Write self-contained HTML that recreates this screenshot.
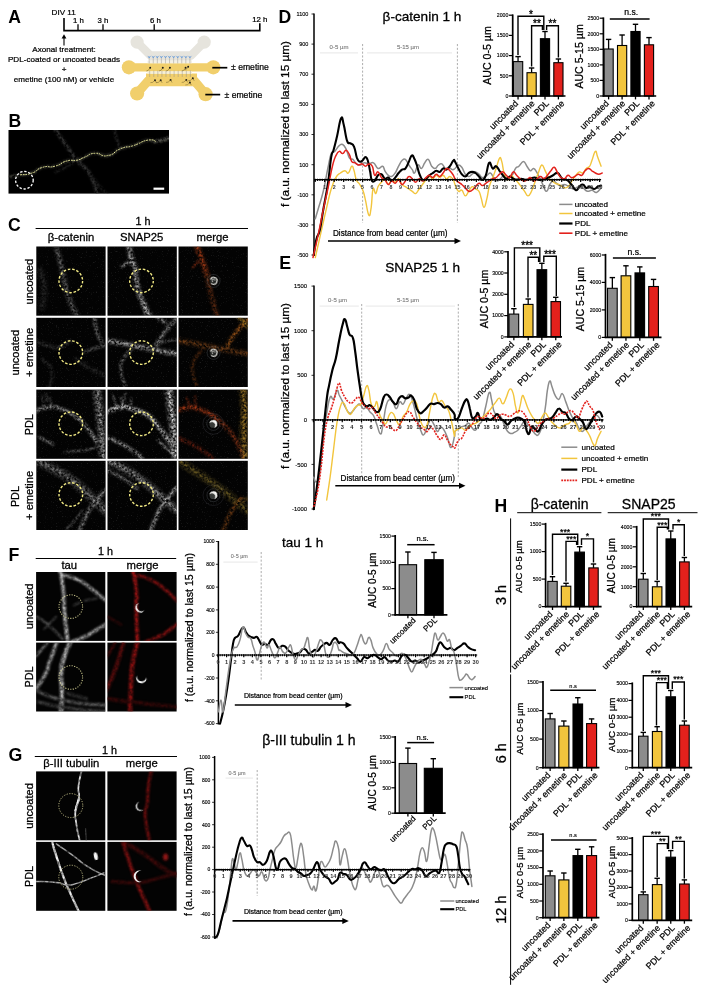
<!DOCTYPE html>
<html><head><meta charset="utf-8"><title>Figure</title>
<style>html,body{margin:0;padding:0;background:#fff}svg{display:block}text{font-family:"Liberation Sans",sans-serif}</style></head>
<body>
<svg width="701" height="996" viewBox="0 0 701 996">
<defs><filter id="bl0" x="-20%" y="-20%" width="140%" height="140%"><feGaussianBlur stdDeviation="0.35"/></filter><filter id="bl1" x="-20%" y="-20%" width="140%" height="140%"><feGaussianBlur stdDeviation="0.7"/></filter><filter id="bl2" x="-30%" y="-30%" width="160%" height="160%"><feGaussianBlur stdDeviation="1.3"/></filter><clipPath id="c00"><rect x="36.3" y="246.5" width="69.3" height="69.2"/></clipPath><clipPath id="c01"><rect x="107.5" y="246.5" width="69.3" height="69.2"/></clipPath><clipPath id="c02"><rect x="178.5" y="246.5" width="69.3" height="69.2"/></clipPath><clipPath id="c10"><rect x="36.3" y="317.8" width="69.3" height="69.2"/></clipPath><clipPath id="c11"><rect x="107.5" y="317.8" width="69.3" height="69.2"/></clipPath><clipPath id="c12"><rect x="178.5" y="317.8" width="69.3" height="69.2"/></clipPath><clipPath id="c20"><rect x="36.3" y="389.6" width="69.3" height="69.2"/></clipPath><clipPath id="c21"><rect x="107.5" y="389.6" width="69.3" height="69.2"/></clipPath><clipPath id="c22"><rect x="178.5" y="389.6" width="69.3" height="69.2"/></clipPath><clipPath id="c30"><rect x="36.3" y="460.8" width="69.3" height="69.2"/></clipPath><clipPath id="c31"><rect x="107.5" y="460.8" width="69.3" height="69.2"/></clipPath><clipPath id="c32"><rect x="178.5" y="460.8" width="69.3" height="69.2"/></clipPath><clipPath id="cAll"><rect x="36.3" y="246.5" width="69.3" height="69.2"/><rect x="107.5" y="246.5" width="69.3" height="69.2"/><rect x="178.5" y="246.5" width="69.3" height="69.2"/><rect x="36.3" y="317.8" width="69.3" height="69.2"/><rect x="107.5" y="317.8" width="69.3" height="69.2"/><rect x="178.5" y="317.8" width="69.3" height="69.2"/><rect x="36.3" y="389.6" width="69.3" height="69.2"/><rect x="107.5" y="389.6" width="69.3" height="69.2"/><rect x="178.5" y="389.6" width="69.3" height="69.2"/><rect x="36.3" y="460.8" width="69.3" height="69.2"/><rect x="107.5" y="460.8" width="69.3" height="69.2"/><rect x="178.5" y="460.8" width="69.3" height="69.2"/></clipPath><clipPath id="f00"><rect x="36.1" y="572" width="69.2" height="68.9"/></clipPath><clipPath id="f01"><rect x="107.4" y="572" width="69.2" height="68.9"/></clipPath><clipPath id="f10"><rect x="36.1" y="642.6" width="69.2" height="68.9"/></clipPath><clipPath id="f11"><rect x="107.4" y="642.6" width="69.2" height="68.9"/></clipPath><clipPath id="g00"><rect x="36.1" y="771.4" width="69.2" height="68.9"/></clipPath><clipPath id="g01"><rect x="107.4" y="771.4" width="69.2" height="68.9"/></clipPath><clipPath id="g10"><rect x="36.1" y="841.9" width="69.2" height="68.9"/></clipPath><clipPath id="g11"><rect x="107.4" y="841.9" width="69.2" height="68.9"/></clipPath><clipPath id="cB"><rect x="8.5" y="130" width="160.5" height="63.6"/></clipPath><filter id="spC" filterUnits="userSpaceOnUse" x="34" y="244" width="216" height="289" color-interpolation-filters="sRGB"><feGaussianBlur in="SourceGraphic" stdDeviation="0.9" result="b"/><feTurbulence type="fractalNoise" baseFrequency="0.42" numOctaves="2" seed="2" result="n"/><feColorMatrix in="n" type="matrix" values="0 0 0 0 1  0 0 0 0 1  0 0 0 0 1  2.1 0 0 0 -0.5" result="m"/><feComposite in="b" in2="m" operator="in" result="s"/><feGaussianBlur in="s" stdDeviation="0.5"/></filter><filter id="spF" filterUnits="userSpaceOnUse" x="34" y="570" width="145" height="144" color-interpolation-filters="sRGB"><feGaussianBlur in="SourceGraphic" stdDeviation="1.0" result="b"/><feTurbulence type="fractalNoise" baseFrequency="0.28" numOctaves="2" seed="2" result="n"/><feColorMatrix in="n" type="matrix" values="0 0 0 0 1  0 0 0 0 1  0 0 0 0 1  1.2 0 0 0 0.12" result="m"/><feComposite in="b" in2="m" operator="in" result="s"/><feGaussianBlur in="s" stdDeviation="0.55"/></filter><filter id="spG" filterUnits="userSpaceOnUse" x="34" y="769" width="145" height="144" color-interpolation-filters="sRGB"><feGaussianBlur in="SourceGraphic" stdDeviation="0.5" result="b"/><feTurbulence type="fractalNoise" baseFrequency="0.3" numOctaves="2" seed="2" result="n"/><feColorMatrix in="n" type="matrix" values="0 0 0 0 1  0 0 0 0 1  0 0 0 0 1  1.4 0 0 0 0.1" result="m"/><feComposite in="b" in2="m" operator="in" result="s"/><feGaussianBlur in="s" stdDeviation="0.4"/></filter><filter id="spG2" filterUnits="userSpaceOnUse" x="34" y="769" width="145" height="144" color-interpolation-filters="sRGB"><feGaussianBlur in="SourceGraphic" stdDeviation="1.0" result="b"/><feTurbulence type="fractalNoise" baseFrequency="0.28" numOctaves="2" seed="2" result="n"/><feColorMatrix in="n" type="matrix" values="0 0 0 0 1  0 0 0 0 1  0 0 0 0 1  1.0 0 0 0 0.25" result="m"/><feComposite in="b" in2="m" operator="in" result="s"/><feGaussianBlur in="s" stdDeviation="0.6"/></filter><filter id="spB" filterUnits="userSpaceOnUse" x="6" y="128" width="166" height="68" color-interpolation-filters="sRGB"><feGaussianBlur in="SourceGraphic" stdDeviation="0.8" result="b"/><feTurbulence type="fractalNoise" baseFrequency="0.4" numOctaves="2" seed="2" result="n"/><feColorMatrix in="n" type="matrix" values="0 0 0 0 1  0 0 0 0 1  0 0 0 0 1  2.5 0 0 0 -0.6" result="m"/><feComposite in="b" in2="m" operator="in" result="s"/><feGaussianBlur in="s" stdDeviation="0.35"/></filter><filter id="bgC" filterUnits="userSpaceOnUse" x="34" y="244" width="216" height="289" color-interpolation-filters="sRGB"><feTurbulence type="fractalNoise" baseFrequency="0.8" numOctaves="2" seed="7" result="n"/><feColorMatrix in="n" type="matrix" values="0 0 0 0 0.6  0 0 0 0 0.6  0 0 0 0 0.6  5 0 0 0 -3.1" result="q"/><feGaussianBlur in="q" stdDeviation="0.4"/></filter></defs>
<text x="8.20" y="23.20" font-size="17.6" font-weight="bold">A</text>
<text x="51.60" y="14.50" font-size="8.1" stroke="#000" stroke-width="0.22">DIV 11</text>
<path d="M64,18 V30.6 H259.8 V23.2" fill="none" stroke="#000" stroke-width="1.6"/>
<line x1="78.00" y1="24.20" x2="78.00" y2="30.60" stroke="#000" stroke-width="1.3"/>
<line x1="103.00" y1="24.20" x2="103.00" y2="30.60" stroke="#000" stroke-width="1.3"/>
<line x1="154.20" y1="24.20" x2="154.20" y2="30.60" stroke="#000" stroke-width="1.3"/>
<text x="78.50" y="22.50" font-size="7.8" text-anchor="middle" stroke="#000" stroke-width="0.22">1 h</text>
<text x="103.00" y="22.50" font-size="7.8" text-anchor="middle" stroke="#000" stroke-width="0.22">3 h</text>
<text x="155.50" y="22.50" font-size="7.8" text-anchor="middle" stroke="#000" stroke-width="0.22">6 h</text>
<text x="259.80" y="22.00" font-size="7.8" text-anchor="middle" stroke="#000" stroke-width="0.22">12 h</text>
<line x1="64.00" y1="37.50" x2="64.00" y2="45.50" stroke="#000" stroke-width="1.1"/>
<path d="M64,34.2 l-2.4,4.4 h4.8 z" fill="#000"/>
<text x="64.00" y="52.40" font-size="8.1" text-anchor="middle" stroke="#000" stroke-width="0.22">Axonal treatment:</text>
<text x="64.00" y="62.30" font-size="8.1" text-anchor="middle" stroke="#000" stroke-width="0.22">PDL-coated or uncoated beads</text>
<text x="64.00" y="72.00" font-size="8.1" text-anchor="middle" stroke="#000" stroke-width="0.22">+</text>
<text x="64.00" y="81.80" font-size="8.1" text-anchor="middle" stroke="#000" stroke-width="0.22">emetine (100 nM) or vehicle</text>
<g stroke-linecap="round" stroke-linejoin="round" fill="none">
<path d="M137.1,42.1 L150.5,55.6 H191 L204.2,42.1" stroke="#e6e4dd" stroke-width="8.4"/>
<path d="M150,56.2 H191.5" stroke="#e6e4dd" stroke-width="9.2" stroke-linecap="butt"/>
<circle cx="137.1" cy="42.1" r="6.6" fill="#e6e4dd"/><circle cx="204.2" cy="42.1" r="6.6" fill="#e6e4dd"/>
<path d="M128.9,67.3 H213.2" stroke="#f1cf6c" stroke-width="8.2"/>
<circle cx="128.9" cy="67.3" r="7.1" fill="#f1cf6c"/><circle cx="213.3" cy="67.3" r="7.1" fill="#f1cf6c"/>
<path d="M137.1,93.5 L148.5,80.4 H194 L205.6,94.2" stroke="#f1cf6c" stroke-width="9"/>
<path d="M146,79.9 H197" stroke="#f1cf6c" stroke-width="12.6" stroke-linecap="butt"/>
<circle cx="137.1" cy="93.5" r="7.1" fill="#f1cf6c"/><circle cx="205.6" cy="94.2" r="7.1" fill="#f1cf6c"/>
</g>
<rect x="147.50" y="60.60" width="44.50" height="2.60" fill="#f4f1e6"/>
<rect x="147.50" y="71.40" width="44.50" height="2.30" fill="#f6efd6"/>
<line x1="149.20" y1="57.60" x2="149.20" y2="63.40" stroke="#8f8d86" stroke-width="0.45"/>
<line x1="149.70" y1="70.60" x2="149.70" y2="77.00" stroke="#8f8d86" stroke-width="0.45"/>
<path d="M147.7,55.9 l1.5,1.6 l1.6,-1.6" stroke="#5a8fd0" stroke-width="0.6" fill="none"/>
<circle cx="149.2" cy="57.3" r="0.75" fill="#6aa0de"/>
<line x1="153.27" y1="57.60" x2="153.27" y2="63.40" stroke="#8f8d86" stroke-width="0.45"/>
<line x1="153.77" y1="70.60" x2="153.77" y2="77.00" stroke="#8f8d86" stroke-width="0.45"/>
<path d="M151.8,55.9 l1.5,1.6 l1.6,-1.6" stroke="#5a8fd0" stroke-width="0.6" fill="none"/>
<circle cx="153.3" cy="57.3" r="0.75" fill="#6aa0de"/>
<line x1="157.34" y1="57.60" x2="157.34" y2="63.40" stroke="#8f8d86" stroke-width="0.45"/>
<line x1="157.84" y1="70.60" x2="157.84" y2="77.00" stroke="#8f8d86" stroke-width="0.45"/>
<path d="M155.8,55.9 l1.5,1.6 l1.6,-1.6" stroke="#5a8fd0" stroke-width="0.6" fill="none"/>
<circle cx="157.3" cy="57.3" r="0.75" fill="#6aa0de"/>
<line x1="161.41" y1="57.60" x2="161.41" y2="63.40" stroke="#8f8d86" stroke-width="0.45"/>
<line x1="161.91" y1="70.60" x2="161.91" y2="77.00" stroke="#8f8d86" stroke-width="0.45"/>
<path d="M159.9,55.9 l1.5,1.6 l1.6,-1.6" stroke="#5a8fd0" stroke-width="0.6" fill="none"/>
<circle cx="161.4" cy="57.3" r="0.75" fill="#6aa0de"/>
<line x1="165.48" y1="57.60" x2="165.48" y2="63.40" stroke="#8f8d86" stroke-width="0.45"/>
<line x1="165.98" y1="70.60" x2="165.98" y2="77.00" stroke="#8f8d86" stroke-width="0.45"/>
<path d="M164.0,55.9 l1.5,1.6 l1.6,-1.6" stroke="#5a8fd0" stroke-width="0.6" fill="none"/>
<circle cx="165.5" cy="57.3" r="0.75" fill="#6aa0de"/>
<line x1="169.55" y1="57.60" x2="169.55" y2="63.40" stroke="#8f8d86" stroke-width="0.45"/>
<line x1="170.05" y1="70.60" x2="170.05" y2="77.00" stroke="#8f8d86" stroke-width="0.45"/>
<path d="M168.0,55.9 l1.5,1.6 l1.6,-1.6" stroke="#5a8fd0" stroke-width="0.6" fill="none"/>
<circle cx="169.5" cy="57.3" r="0.75" fill="#6aa0de"/>
<line x1="173.62" y1="57.60" x2="173.62" y2="63.40" stroke="#8f8d86" stroke-width="0.45"/>
<line x1="174.12" y1="70.60" x2="174.12" y2="77.00" stroke="#8f8d86" stroke-width="0.45"/>
<path d="M172.1,55.9 l1.5,1.6 l1.6,-1.6" stroke="#5a8fd0" stroke-width="0.6" fill="none"/>
<circle cx="173.6" cy="57.3" r="0.75" fill="#6aa0de"/>
<line x1="177.69" y1="57.60" x2="177.69" y2="63.40" stroke="#8f8d86" stroke-width="0.45"/>
<line x1="178.19" y1="70.60" x2="178.19" y2="77.00" stroke="#8f8d86" stroke-width="0.45"/>
<path d="M176.2,55.9 l1.5,1.6 l1.6,-1.6" stroke="#5a8fd0" stroke-width="0.6" fill="none"/>
<circle cx="177.7" cy="57.3" r="0.75" fill="#6aa0de"/>
<line x1="181.76" y1="57.60" x2="181.76" y2="63.40" stroke="#8f8d86" stroke-width="0.45"/>
<line x1="182.26" y1="70.60" x2="182.26" y2="77.00" stroke="#8f8d86" stroke-width="0.45"/>
<path d="M180.3,55.9 l1.5,1.6 l1.6,-1.6" stroke="#5a8fd0" stroke-width="0.6" fill="none"/>
<circle cx="181.8" cy="57.3" r="0.75" fill="#6aa0de"/>
<line x1="185.83" y1="57.60" x2="185.83" y2="63.40" stroke="#8f8d86" stroke-width="0.45"/>
<line x1="186.33" y1="70.60" x2="186.33" y2="77.00" stroke="#8f8d86" stroke-width="0.45"/>
<path d="M184.3,55.9 l1.5,1.6 l1.6,-1.6" stroke="#5a8fd0" stroke-width="0.6" fill="none"/>
<circle cx="185.8" cy="57.3" r="0.75" fill="#6aa0de"/>
<line x1="189.90" y1="57.60" x2="189.90" y2="63.40" stroke="#8f8d86" stroke-width="0.45"/>
<line x1="190.40" y1="70.60" x2="190.40" y2="77.00" stroke="#8f8d86" stroke-width="0.45"/>
<path d="M188.4,55.9 l1.5,1.6 l1.6,-1.6" stroke="#5a8fd0" stroke-width="0.6" fill="none"/>
<circle cx="189.9" cy="57.3" r="0.75" fill="#6aa0de"/>
<circle cx="150.2" cy="67.8" r="0.95" fill="#1a1a1a"/>
<path d="M150.2,67.8 l-2,2.6 l-1.8,0.6" stroke="#4a3c18" stroke-width="0.4" fill="none"/>
<circle cx="162.8" cy="67.8" r="0.95" fill="#1a1a1a"/>
<path d="M162.8,67.8 l-2,2.6 l-1.8,0.6" stroke="#4a3c18" stroke-width="0.4" fill="none"/>
<circle cx="169.9" cy="67.8" r="0.95" fill="#1a1a1a"/>
<path d="M169.9,67.8 l-2,2.6 l-1.8,0.6" stroke="#4a3c18" stroke-width="0.4" fill="none"/>
<circle cx="185.6" cy="67.8" r="0.95" fill="#1a1a1a"/>
<path d="M185.6,67.8 l-2,2.6 l-1.8,0.6" stroke="#4a3c18" stroke-width="0.4" fill="none"/>
<circle cx="188.2" cy="66.8" r="0.95" fill="#1a1a1a"/>
<path d="M188.2,66.8 l-2,2.6 l-1.8,0.6" stroke="#4a3c18" stroke-width="0.4" fill="none"/>
<circle cx="155.0" cy="80.2" r="0.95" fill="#1a1a1a"/>
<path d="M155.0,80.2 l-2.4,2.2 l-2.2,0.3 M155.0,80.2 l1.4,2.6" stroke="#4a3c18" stroke-width="0.4" fill="none"/>
<circle cx="160.7" cy="80.2" r="0.95" fill="#1a1a1a"/>
<path d="M160.7,80.2 l-2.4,2.2 l-2.2,0.3 M160.7,80.2 l1.4,2.6" stroke="#4a3c18" stroke-width="0.4" fill="none"/>
<circle cx="170.6" cy="79.9" r="0.95" fill="#1a1a1a"/>
<path d="M170.6,79.9 l-2.4,2.2 l-2.2,0.3 M170.6,79.9 l1.4,2.6" stroke="#4a3c18" stroke-width="0.4" fill="none"/>
<circle cx="186.3" cy="79.9" r="0.95" fill="#1a1a1a"/>
<path d="M186.3,79.9 l-2.4,2.2 l-2.2,0.3 M186.3,79.9 l1.4,2.6" stroke="#4a3c18" stroke-width="0.4" fill="none"/>
<circle cx="189.9" cy="82.5" r="0.95" fill="#1a1a1a"/>
<path d="M189.9,82.5 l-2.4,2.2 l-2.2,0.3 M189.9,82.5 l1.4,2.6" stroke="#4a3c18" stroke-width="0.4" fill="none"/>
<circle cx="192.8" cy="78.2" r="0.95" fill="#1a1a1a"/>
<path d="M192.8,78.2 l-2.4,2.2 l-2.2,0.3 M192.8,78.2 l1.4,2.6" stroke="#4a3c18" stroke-width="0.4" fill="none"/>
<line x1="212.30" y1="67.70" x2="227.30" y2="67.70" stroke="#000" stroke-width="1.7"/>
<text x="231.00" y="70.40" font-size="8.65" stroke="#000" stroke-width="0.22">± emetine</text>
<line x1="205.30" y1="94.60" x2="220.20" y2="94.60" stroke="#000" stroke-width="1.7"/>
<text x="224.50" y="97.50" font-size="8.65" stroke="#000" stroke-width="0.22">± emetine</text>
<text x="8.60" y="126.50" font-size="17.6" font-weight="bold">B</text>
<rect x="8.50" y="130.00" width="160.50" height="63.60" fill="#000"/>
<g clip-path="url(#cB)">
<g filter="url(#spB)">
<path d="M55.2,129.4 C59.1,135.0 59.5,135.8 66.8,146.1 C74.0,156.4 69.3,150.8 77.0,160.2 C84.7,169.6 83.0,162.8 89.9,174.3 C96.7,185.9 95.0,188.0 97.6,194.9" fill="none" stroke="#3a3a3a" stroke-width="3.2" stroke-linejoin="round" stroke-linecap="round"/>
<path d="M120.7,148.7 C119.4,145.7 119.0,146.1 116.8,139.7 C114.7,133.2 115.1,132.8 114.3,129.4" fill="none" stroke="#2c2c2c" stroke-width="2.2" stroke-linejoin="round" stroke-linecap="round"/>
<path d="M77.0,160.2 C73.6,162.3 74.0,162.6 66.8,166.6 C59.5,170.6 59.1,170.4 55.2,172.3" fill="none" stroke="#262626" stroke-width="2" stroke-linejoin="round" stroke-linecap="round"/>
<path d="M89.9,174.3 C94.2,179.5 96.7,182.9 102.7,189.7 C108.7,196.6 106.1,193.2 107.8,194.9" fill="none" stroke="#262626" stroke-width="2" stroke-linejoin="round" stroke-linecap="round"/>
<path d="M154.1,141.7 C157.5,141.0 158.8,141.1 164.3,139.7 C169.9,138.2 168.6,138.1 170.8,137.4" fill="none" stroke="#8a8a8a" stroke-width="3" stroke-linejoin="round" stroke-linecap="round"/>
<path d="M7.7,176.9 C12.0,176.2 12.4,176.1 20.5,174.8 C28.7,173.6 24.8,175.5 32.1,173.0 C39.4,170.6 34.7,169.7 42.4,167.4 C50.1,165.1 47.1,168.3 55.2,166.1 C63.3,164.0 59.5,162.9 66.8,161.0 C74.0,159.0 71.0,161.5 77.0,160.2 C83.0,158.9 78.7,159.4 84.7,157.1 C90.7,154.8 87.3,153.8 95.0,153.3 C102.7,152.8 99.3,157.1 107.8,155.6 C116.4,154.0 112.1,152.0 120.7,148.7 C129.2,145.3 124.5,148.4 133.5,145.6 C142.5,142.7 139.9,141.5 147.6,140.2 C155.3,138.9 149.4,142.1 156.6,141.7 C163.9,141.4 165.2,140.0 169.5,139.2" fill="none" stroke="#4a4a40" stroke-width="2.4" stroke-linejoin="round" stroke-linecap="round"/>
</g>
<path d="M20.5,174.8 C24.4,174.2 24.8,175.5 32.1,173.0 C39.4,170.6 34.7,169.7 42.4,167.4 C50.1,165.1 47.1,168.3 55.2,166.1 C63.3,164.0 59.5,162.9 66.8,161.0 C74.0,159.0 71.0,161.5 77.0,160.2 C83.0,158.9 78.7,159.4 84.7,157.1 C90.7,154.8 87.3,153.8 95.0,153.3 C102.7,152.8 99.3,157.1 107.8,155.6 C116.4,154.0 112.1,152.0 120.7,148.7 C129.2,145.3 124.5,148.4 133.5,145.6 C142.5,142.7 139.9,141.5 147.6,140.2 C155.3,138.9 153.6,141.2 156.6,141.7" fill="none" stroke="#ecec9c" stroke-width="1.0" stroke-linejoin="round" stroke-linecap="round" stroke-dasharray="1 1.7"/>
</g>
<circle cx="24.4" cy="180.2" r="8.8" fill="none" stroke="#fff" stroke-width="1.3" stroke-dasharray="2.4 1.7"/>
<line x1="153.50" y1="188.70" x2="164.20" y2="188.70" stroke="#fff" stroke-width="2.2"/>
<text x="8.00" y="231.00" font-size="17.6" font-weight="bold">C</text>
<text x="143.00" y="225.20" font-size="10.8" text-anchor="middle" stroke="#000" stroke-width="0.28">1 h</text>
<line x1="35.60" y1="228.50" x2="248.00" y2="228.50" stroke="#000" stroke-width="1.0"/>
<text x="71.00" y="241.40" font-size="11.3" text-anchor="middle" stroke="#000" stroke-width="0.28">β-catenin</text>
<text x="141.70" y="241.40" font-size="11.3" text-anchor="middle" stroke="#000" stroke-width="0.28">SNAP25</text>
<text x="212.50" y="241.40" font-size="11.3" text-anchor="middle" stroke="#000" stroke-width="0.28">merge</text>
<text x="33.40" y="281.60" font-size="11.1" text-anchor="middle" stroke="#000" stroke-width="0.28" transform="rotate(-90 33.40 281.60)">uncoated</text>
<text x="19.20" y="352.70" font-size="11.1" text-anchor="middle" stroke="#000" stroke-width="0.28" transform="rotate(-90 19.20 352.70)">uncoated</text>
<text x="32.80" y="352.40" font-size="11.1" text-anchor="middle" stroke="#000" stroke-width="0.28" transform="rotate(-90 32.80 352.40)">+ emetine</text>
<text x="32.80" y="424.80" font-size="10.8" text-anchor="middle" stroke="#000" stroke-width="0.28" transform="rotate(-90 32.80 424.80)">PDL</text>
<text x="19.20" y="496.60" font-size="10.8" text-anchor="middle" stroke="#000" stroke-width="0.28" transform="rotate(-90 19.20 496.60)">PDL</text>
<text x="32.80" y="495.40" font-size="11.1" text-anchor="middle" stroke="#000" stroke-width="0.28" transform="rotate(-90 32.80 495.40)">+ emetine</text>
<rect x="36.30" y="246.50" width="69.30" height="69.20" fill="#030303"/>
<rect x="107.50" y="246.50" width="69.30" height="69.20" fill="#030303"/>
<rect x="178.50" y="246.50" width="69.30" height="69.20" fill="#030303"/>
<rect x="36.30" y="317.80" width="69.30" height="69.20" fill="#030303"/>
<rect x="107.50" y="317.80" width="69.30" height="69.20" fill="#030303"/>
<rect x="178.50" y="317.80" width="69.30" height="69.20" fill="#030303"/>
<rect x="36.30" y="389.60" width="69.30" height="69.20" fill="#030303"/>
<rect x="107.50" y="389.60" width="69.30" height="69.20" fill="#030303"/>
<rect x="178.50" y="389.60" width="69.30" height="69.20" fill="#030303"/>
<rect x="36.30" y="460.80" width="69.30" height="69.20" fill="#030303"/>
<rect x="107.50" y="460.80" width="69.30" height="69.20" fill="#030303"/>
<rect x="178.50" y="460.80" width="69.30" height="69.20" fill="#030303"/>
<rect x="36" y="246" width="212" height="285" fill="#fff" filter="url(#bgC)" opacity="0.16" clip-path="url(#cAll)"/>
<g clip-path="url(#c00)"><g filter="url(#spC)">
<path d="M55.9,245.0 C57.3,250.7 57.5,250.4 60.3,262.2 C63.1,274.0 61.7,269.0 64.4,280.4 C67.1,291.9 64.2,284.8 68.4,296.6 C72.6,308.5 74.1,309.5 76.9,315.9" fill="none" stroke="#707070" stroke-width="6.669999999999999" stroke-linejoin="round" stroke-linecap="round" opacity="0.38"/>
<path d="M55.9,245.0 C57.3,250.7 57.5,250.4 60.3,262.2 C63.1,274.0 61.7,269.0 64.4,280.4 C67.1,291.9 64.2,284.8 68.4,296.6 C72.6,308.5 74.1,309.5 76.9,315.9" fill="none" stroke="#707070" stroke-width="2.3" stroke-linejoin="round" stroke-linecap="round"/>
<path d="M40.1,270.3 C41.4,275.7 43.4,274.4 44.1,286.5 C44.8,298.7 42.8,300.0 42.1,306.8" fill="none" stroke="#2c2c2c" stroke-width="8.7" stroke-linejoin="round" stroke-linecap="round" opacity="0.38"/>
<path d="M40.1,270.3 C41.4,275.7 43.4,274.4 44.1,286.5 C44.8,298.7 42.8,300.0 42.1,306.8" fill="none" stroke="#2c2c2c" stroke-width="3.0" stroke-linejoin="round" stroke-linecap="round"/>
</g>
</g>
<g clip-path="url(#c01)"><g filter="url(#spC)">
<path d="M128.8,245.0 C129.6,249.4 129.0,249.7 131.2,258.2 C133.4,266.6 133.2,260.9 135.3,270.3 C137.3,279.8 134.6,275.7 137.3,286.5 C140.0,297.3 139.2,292.9 143.4,302.7 C147.5,312.5 147.7,311.5 149.8,315.9" fill="none" stroke="#d2d2d2" stroke-width="6.669999999999999" stroke-linejoin="round" stroke-linecap="round" opacity="0.38"/>
<path d="M128.8,245.0 C129.6,249.4 129.0,249.7 131.2,258.2 C133.4,266.6 133.2,260.9 135.3,270.3 C137.3,279.8 134.6,275.7 137.3,286.5 C140.0,297.3 139.2,292.9 143.4,302.7 C147.5,312.5 147.7,311.5 149.8,315.9" fill="none" stroke="#d2d2d2" stroke-width="2.3" stroke-linejoin="round" stroke-linecap="round"/>
<path d="M121.1,266.7 C122.8,265.7 123.0,265.4 126.1,263.8 C129.2,262.2 129.0,262.5 130.4,261.8" fill="none" stroke="#c0c0c0" stroke-width="2.2" stroke-linejoin="round" stroke-linecap="round"/>
<path d="M137.3,286.5 C138.3,290.7 137.3,289.3 140.3,299.1 C143.4,308.9 144.4,310.3 146.4,315.9" fill="none" stroke="#a0a0a0" stroke-width="3.48" stroke-linejoin="round" stroke-linecap="round" opacity="0.38"/>
<path d="M137.3,286.5 C138.3,290.7 137.3,289.3 140.3,299.1 C143.4,308.9 144.4,310.3 146.4,315.9" fill="none" stroke="#a0a0a0" stroke-width="1.2" stroke-linejoin="round" stroke-linecap="round"/>
</g>
</g>
<g clip-path="url(#c02)"><g filter="url(#spC)">
<path d="M196.2,245.3 C198.2,250.3 198.8,250.5 202.2,260.3 C205.7,270.0 205.1,269.8 206.5,274.5" fill="none" stroke="#b84218" stroke-width="6.96" stroke-linejoin="round" stroke-linecap="round" opacity="0.38"/>
<path d="M196.2,245.3 C198.2,250.3 198.8,250.5 202.2,260.3 C205.7,270.0 205.1,269.8 206.5,274.5" fill="none" stroke="#b84218" stroke-width="2.4" stroke-linejoin="round" stroke-linecap="round"/>
<path d="M206.5,274.5 C207.9,280.7 207.4,279.3 210.8,293.0 C214.2,306.8 214.8,308.3 216.8,315.9" fill="none" stroke="#703214" stroke-width="6.38" stroke-linejoin="round" stroke-linecap="round" opacity="0.38"/>
<path d="M206.5,274.5 C207.9,280.7 207.4,279.3 210.8,293.0 C214.2,306.8 214.8,308.3 216.8,315.9" fill="none" stroke="#703214" stroke-width="2.2" stroke-linejoin="round" stroke-linecap="round"/>
<path d="M193.0,267.4 L198.0,261.7" fill="none" stroke="#a23414" stroke-width="2" stroke-linejoin="round" stroke-linecap="round"/>
</g>
<circle cx="213.6" cy="280.9" r="6.5" fill="none" stroke="#98a2a8" stroke-width="0.5" opacity="0.4"/>
<circle cx="213.6" cy="280.9" r="3.9" fill="#2c2e2c" opacity="0.8"/>
<circle cx="213.6" cy="280.9" r="3.4" fill="none" stroke="#e4e4df" stroke-width="1.2" stroke-dasharray="17.1 100" transform="rotate(-160 213.6 280.9)" filter="url(#bl0)"/>
<circle cx="213.3" cy="281.1" r="1.40" fill="none" stroke="#d8d8d4" stroke-width="0.9" stroke-dasharray="5.3 100" transform="rotate(120 213.6 280.9)" filter="url(#bl0)"/>
</g>
<g clip-path="url(#c10)"><g filter="url(#spC)">
<path d="M94.3,316.5 C95.1,321.4 94.5,322.7 96.8,331.1 C99.1,339.5 99.7,338.1 101.2,341.6" fill="none" stroke="#8a8a8a" stroke-width="4.93" stroke-linejoin="round" stroke-linecap="round" opacity="0.38"/>
<path d="M94.3,316.5 C95.1,321.4 94.5,322.7 96.8,331.1 C99.1,339.5 99.7,338.1 101.2,341.6" fill="none" stroke="#8a8a8a" stroke-width="1.7" stroke-linejoin="round" stroke-linecap="round"/>
<path d="M84.6,351.7 C88.0,350.6 87.7,350.5 94.7,348.3 C101.8,346.1 102.2,346.3 105.9,345.3" fill="none" stroke="#6a6a6a" stroke-width="4.35" stroke-linejoin="round" stroke-linecap="round" opacity="0.38"/>
<path d="M84.6,351.7 C88.0,350.6 87.7,350.5 94.7,348.3 C101.8,346.1 102.2,346.3 105.9,345.3" fill="none" stroke="#6a6a6a" stroke-width="1.5" stroke-linejoin="round" stroke-linecap="round"/>
<path d="M35.0,341.2 C39.4,342.6 40.4,343.2 48.2,345.3 C55.9,347.3 50.9,348.6 58.3,347.3 C65.7,345.9 66.4,343.2 70.4,341.2" fill="none" stroke="#4a4a4a" stroke-width="4.35" stroke-linejoin="round" stroke-linecap="round" opacity="0.38"/>
<path d="M35.0,341.2 C39.4,342.6 40.4,343.2 48.2,345.3 C55.9,347.3 50.9,348.6 58.3,347.3 C65.7,345.9 66.4,343.2 70.4,341.2" fill="none" stroke="#4a4a4a" stroke-width="1.5" stroke-linejoin="round" stroke-linecap="round"/>
<path d="M42.1,359.4 C45.5,363.5 50.2,362.1 52.2,371.6 C54.2,381.0 49.5,382.4 48.2,387.8" fill="none" stroke="#3a3a3a" stroke-width="4.35" stroke-linejoin="round" stroke-linecap="round" opacity="0.38"/>
<path d="M42.1,359.4 C45.5,363.5 50.2,362.1 52.2,371.6 C54.2,381.0 49.5,382.4 48.2,387.8" fill="none" stroke="#3a3a3a" stroke-width="1.5" stroke-linejoin="round" stroke-linecap="round"/>
<path d="M76.5,359.4 C80.6,362.1 79.2,362.1 88.7,367.5 C98.1,372.9 99.5,372.9 104.9,375.6" fill="none" stroke="#333" stroke-width="5.8" stroke-linejoin="round" stroke-linecap="round" opacity="0.38"/>
<path d="M76.5,359.4 C80.6,362.1 79.2,362.1 88.7,367.5 C98.1,372.9 99.5,372.9 104.9,375.6" fill="none" stroke="#333" stroke-width="2.0" stroke-linejoin="round" stroke-linecap="round"/>
</g>
</g>
<g clip-path="url(#c11)"><g filter="url(#spC)">
<path d="M106.5,340.8 C111.4,341.6 110.8,341.4 121.1,343.2 C131.3,345.1 125.1,343.9 137.3,346.3 C149.4,348.6 144.3,347.8 157.5,350.3 C170.8,352.8 170.5,352.6 177.0,353.8" fill="none" stroke="#c8c8c8" stroke-width="6.38" stroke-linejoin="round" stroke-linecap="round" opacity="0.38"/>
<path d="M106.5,340.8 C111.4,341.6 110.8,341.4 121.1,343.2 C131.3,345.1 125.1,343.9 137.3,346.3 C149.4,348.6 144.3,347.8 157.5,350.3 C170.8,352.8 170.5,352.6 177.0,353.8" fill="none" stroke="#c8c8c8" stroke-width="2.2" stroke-linejoin="round" stroke-linecap="round"/>
<path d="M177.0,318.1 C173.2,322.4 172.8,321.9 165.6,331.1 C158.5,340.3 158.9,340.8 155.5,345.7" fill="none" stroke="#b4b4b4" stroke-width="4.93" stroke-linejoin="round" stroke-linecap="round" opacity="0.38"/>
<path d="M177.0,318.1 C173.2,322.4 172.8,321.9 165.6,331.1 C158.5,340.3 158.9,340.8 155.5,345.7" fill="none" stroke="#b4b4b4" stroke-width="1.7" stroke-linejoin="round" stroke-linecap="round"/>
<path d="M131.2,349.7 C128.5,353.0 126.5,352.1 123.1,359.4 C119.7,366.7 120.3,362.4 121.1,371.6 C121.9,380.8 124.0,381.9 125.5,387.0" fill="none" stroke="#999" stroke-width="3.48" stroke-linejoin="round" stroke-linecap="round" opacity="0.38"/>
<path d="M131.2,349.7 C128.5,353.0 126.5,352.1 123.1,359.4 C119.7,366.7 120.3,362.4 121.1,371.6 C121.9,380.8 124.0,381.9 125.5,387.0" fill="none" stroke="#999" stroke-width="1.2" stroke-linejoin="round" stroke-linecap="round"/>
<path d="M155.5,345.7 C158.9,344.2 158.5,343.2 165.6,341.2 C172.8,339.2 173.2,340.1 177.0,339.6" fill="none" stroke="#777" stroke-width="2" stroke-linejoin="round" stroke-linecap="round"/>
<path d="M157.5,317.3 L165.6,323.0" fill="none" stroke="#bbb" stroke-width="4.35" stroke-linejoin="round" stroke-linecap="round" opacity="0.38"/>
<path d="M157.5,317.3 L165.6,323.0" fill="none" stroke="#bbb" stroke-width="1.5" stroke-linejoin="round" stroke-linecap="round"/>
</g>
</g>
<g clip-path="url(#c12)"><g filter="url(#spC)">
<path d="M177.5,340.8 C182.6,341.6 182.2,341.4 192.7,343.2 C203.1,345.1 196.7,343.9 208.9,346.3 C221.0,348.6 215.6,347.8 229.1,350.3 C242.6,352.8 242.6,352.6 249.4,353.8" fill="none" stroke="#84481a" stroke-width="6.669999999999999" stroke-linejoin="round" stroke-linecap="round" opacity="0.38"/>
<path d="M177.5,340.8 C182.6,341.6 182.2,341.4 192.7,343.2 C203.1,345.1 196.7,343.9 208.9,346.3 C221.0,348.6 215.6,347.8 229.1,350.3 C242.6,352.8 242.6,352.6 249.4,353.8" fill="none" stroke="#84481a" stroke-width="2.3" stroke-linejoin="round" stroke-linecap="round"/>
<path d="M249.4,318.1 C245.3,322.4 244.7,321.9 237.2,331.1 C229.8,340.3 230.5,340.8 227.1,345.7" fill="none" stroke="#c0681e" stroke-width="5.22" stroke-linejoin="round" stroke-linecap="round" opacity="0.38"/>
<path d="M249.4,318.1 C245.3,322.4 244.7,321.9 237.2,331.1 C229.8,340.3 230.5,340.8 227.1,345.7" fill="none" stroke="#c0681e" stroke-width="1.8" stroke-linejoin="round" stroke-linecap="round"/>
<path d="M202.8,349.7 C200.1,353.0 198.1,352.1 194.7,359.4 C191.3,366.7 191.9,362.4 192.7,371.6 C193.5,380.8 195.7,381.9 197.1,387.0" fill="none" stroke="#6a3412" stroke-width="3.77" stroke-linejoin="round" stroke-linecap="round" opacity="0.38"/>
<path d="M202.8,349.7 C200.1,353.0 198.1,352.1 194.7,359.4 C191.3,366.7 191.9,362.4 192.7,371.6 C193.5,380.8 195.7,381.9 197.1,387.0" fill="none" stroke="#6a3412" stroke-width="1.3" stroke-linejoin="round" stroke-linecap="round"/>
<path d="M239.3,317.3 L248.6,327.0" fill="none" stroke="#b88a28" stroke-width="5.8" stroke-linejoin="round" stroke-linecap="round" opacity="0.38"/>
<path d="M239.3,317.3 L248.6,327.0" fill="none" stroke="#b88a28" stroke-width="2.0" stroke-linejoin="round" stroke-linecap="round"/>
</g>
<circle cx="213.6" cy="352.9" r="6.5" fill="none" stroke="#98a2a8" stroke-width="0.5" opacity="0.4"/>
<circle cx="213.6" cy="352.9" r="3.9" fill="#2c2e2c" opacity="0.8"/>
<circle cx="213.6" cy="352.9" r="3.4" fill="none" stroke="#e4e4df" stroke-width="1.2" stroke-dasharray="17.1 100" transform="rotate(-160 213.6 352.9)" filter="url(#bl0)"/>
<circle cx="213.3" cy="353.1" r="1.40" fill="none" stroke="#d8d8d4" stroke-width="0.9" stroke-dasharray="5.3 100" transform="rotate(120 213.6 352.9)" filter="url(#bl0)"/>
</g>
<circle cx="70.8" cy="280.9" r="11.8" fill="none" stroke="#f2ea84" stroke-width="1.4" stroke-dasharray="2.6 1.75" opacity="1"/>
<circle cx="141.5" cy="280.9" r="11.8" fill="none" stroke="#f2ea84" stroke-width="1.4" stroke-dasharray="2.6 1.75" opacity="1"/>
<circle cx="70.8" cy="352.6" r="11.8" fill="none" stroke="#f2ea84" stroke-width="1.4" stroke-dasharray="2.6 1.75" opacity="1"/>
<circle cx="141.5" cy="352.6" r="11.8" fill="none" stroke="#f2ea84" stroke-width="1.4" stroke-dasharray="2.6 1.75" opacity="1"/>
<g clip-path="url(#c20)"><g filter="url(#spC)">
<path d="M35.0,411.7 C39.4,410.2 39.0,408.0 48.2,407.2 C57.3,406.4 52.9,405.9 62.3,409.3 C71.8,412.6 68.4,411.3 76.5,417.4 C84.6,423.4 79.9,419.3 86.6,427.5 C93.4,435.7 93.4,437.2 96.8,442.1" fill="none" stroke="#c4c4c4" stroke-width="4.64" stroke-linejoin="round" stroke-linecap="round" opacity="0.38"/>
<path d="M35.0,411.7 C39.4,410.2 39.0,408.0 48.2,407.2 C57.3,406.4 52.9,405.9 62.3,409.3 C71.8,412.6 68.4,411.3 76.5,417.4 C84.6,423.4 79.9,419.3 86.6,427.5 C93.4,435.7 93.4,437.2 96.8,442.1" fill="none" stroke="#c4c4c4" stroke-width="1.6" stroke-linejoin="round" stroke-linecap="round"/>
<path d="M96.8,388.0 C97.6,395.1 97.7,395.4 99.2,409.3 C100.7,423.1 100.0,416.0 101.2,429.5 C102.4,443.0 101.8,439.6 102.8,449.8 C103.9,459.9 103.9,456.5 104.5,459.9" fill="none" stroke="#a8a8a8" stroke-width="10.15" stroke-linejoin="round" stroke-linecap="round" opacity="0.38"/>
<path d="M96.8,388.0 C97.6,395.1 97.7,395.4 99.2,409.3 C100.7,423.1 100.0,416.0 101.2,429.5 C102.4,443.0 101.8,439.6 102.8,449.8 C103.9,459.9 103.9,456.5 104.5,459.9" fill="none" stroke="#a8a8a8" stroke-width="3.5" stroke-linejoin="round" stroke-linecap="round"/>
<path d="M39.0,437.2 C41.4,438.4 41.4,438.4 46.1,440.7 C50.9,443.0 50.9,443.0 53.2,444.1" fill="none" stroke="#999" stroke-width="3.77" stroke-linejoin="round" stroke-linecap="round" opacity="0.38"/>
<path d="M39.0,437.2 C41.4,438.4 41.4,438.4 46.1,440.7 C50.9,443.0 50.9,443.0 53.2,444.1" fill="none" stroke="#999" stroke-width="1.3" stroke-linejoin="round" stroke-linecap="round"/>
<path d="M64.4,452.2 C68.4,451.8 69.1,451.8 76.5,451.0 C83.9,450.2 79.9,451.0 86.6,449.8 C93.4,448.6 93.4,448.1 96.8,447.3" fill="none" stroke="#777" stroke-width="2" stroke-linejoin="round" stroke-linecap="round"/>
<path d="M42.1,395.1 L44.1,407.6" fill="none" stroke="#999" stroke-width="1.0" stroke-linejoin="round" stroke-linecap="round"/>
<path d="M50.2,397.1 L51.2,407.2" fill="none" stroke="#999" stroke-width="1.0" stroke-linejoin="round" stroke-linecap="round"/>
<path d="M46.1,393.1 L47.1,401.2" fill="none" stroke="#999" stroke-width="1.0" stroke-linejoin="round" stroke-linecap="round"/>
</g>
</g>
<g clip-path="url(#c21)"><g filter="url(#spC)">
<path d="M106.5,411.7 C111.4,410.2 112.2,408.0 121.1,407.2 C130.0,406.4 124.5,406.6 133.2,409.3 C142.0,412.0 139.3,409.9 147.4,415.3 C155.5,420.7 150.8,417.4 157.5,425.5 C164.3,433.6 161.3,429.9 167.7,439.6 C174.0,449.4 173.6,449.8 176.6,454.8" fill="none" stroke="#ffffff" stroke-width="5.51" stroke-linejoin="round" stroke-linecap="round" opacity="0.38"/>
<path d="M106.5,411.7 C111.4,410.2 112.2,408.0 121.1,407.2 C130.0,406.4 124.5,406.6 133.2,409.3 C142.0,412.0 139.3,409.9 147.4,415.3 C155.5,420.7 150.8,417.4 157.5,425.5 C164.3,433.6 161.3,429.9 167.7,439.6 C174.0,449.4 173.6,449.8 176.6,454.8" fill="none" stroke="#ffffff" stroke-width="1.9" stroke-linejoin="round" stroke-linecap="round"/>
<path d="M168.7,388.0 C169.6,395.1 169.6,395.4 171.3,409.3 C173.0,423.1 172.3,416.0 173.7,429.5 C175.2,443.0 174.6,439.6 175.8,449.8 C177.0,459.9 176.9,456.5 177.4,459.9" fill="none" stroke="#dedede" stroke-width="10.15" stroke-linejoin="round" stroke-linecap="round" opacity="0.38"/>
<path d="M168.7,388.0 C169.6,395.1 169.6,395.4 171.3,409.3 C173.0,423.1 172.3,416.0 173.7,429.5 C175.2,443.0 174.6,439.6 175.8,449.8 C177.0,459.9 176.9,456.5 177.4,459.9" fill="none" stroke="#dedede" stroke-width="3.5" stroke-linejoin="round" stroke-linecap="round"/>
<path d="M106.5,437.2 C111.4,439.4 110.8,438.2 121.1,443.7 C131.3,449.2 130.3,448.8 137.3,453.8 C144.3,458.9 140.5,457.2 142.1,458.9" fill="none" stroke="#d8d8d8" stroke-width="4.35" stroke-linejoin="round" stroke-linecap="round" opacity="0.38"/>
<path d="M106.5,437.2 C111.4,439.4 110.8,438.2 121.1,443.7 C131.3,449.2 130.3,448.8 137.3,453.8 C144.3,458.9 140.5,457.2 142.1,458.9" fill="none" stroke="#d8d8d8" stroke-width="1.5" stroke-linejoin="round" stroke-linecap="round"/>
<path d="M157.5,439.6 C160.2,442.3 160.0,442.0 165.6,447.7 C171.3,453.5 171.6,453.8 174.6,456.9" fill="none" stroke="#bbb" stroke-width="2" stroke-linejoin="round" stroke-linecap="round"/>
<path d="M113.0,395.1 L117.0,408.2" fill="none" stroke="#ccc" stroke-width="1.1" stroke-linejoin="round" stroke-linecap="round"/>
<path d="M121.1,397.1 L123.1,407.2" fill="none" stroke="#ccc" stroke-width="1.1" stroke-linejoin="round" stroke-linecap="round"/>
<path d="M125.5,393.1 L123.5,405.6" fill="none" stroke="#ccc" stroke-width="1.1" stroke-linejoin="round" stroke-linecap="round"/>
<path d="M131.2,398.1 L130.8,408.2" fill="none" stroke="#ccc" stroke-width="1.1" stroke-linejoin="round" stroke-linecap="round"/>
</g>
</g>
<g clip-path="url(#c22)"><g filter="url(#spC)">
<path d="M176.9,410.7 C181.0,409.6 180.9,407.6 189.4,407.5 C197.9,407.4 193.7,407.1 202.2,410.4 C210.8,413.7 210.8,415.1 215.1,417.5" fill="none" stroke="#c8441a" stroke-width="5.8" stroke-linejoin="round" stroke-linecap="round" opacity="0.38"/>
<path d="M176.9,410.7 C181.0,409.6 180.9,407.6 189.4,407.5 C197.9,407.4 193.7,407.1 202.2,410.4 C210.8,413.7 210.8,415.1 215.1,417.5" fill="none" stroke="#c8441a" stroke-width="2.0" stroke-linejoin="round" stroke-linecap="round"/>
<path d="M215.1,417.5 C218.9,420.8 219.8,420.4 226.5,427.5 C233.1,434.6 230.0,430.6 235.0,438.9 C240.0,447.2 238.1,445.3 241.4,452.4 C244.8,459.6 243.8,457.7 245.0,460.3" fill="none" stroke="#963818" stroke-width="5.51" stroke-linejoin="round" stroke-linecap="round" opacity="0.38"/>
<path d="M215.1,417.5 C218.9,420.8 219.8,420.4 226.5,427.5 C233.1,434.6 230.0,430.6 235.0,438.9 C240.0,447.2 238.1,445.3 241.4,452.4 C244.8,459.6 243.8,457.7 245.0,460.3" fill="none" stroke="#963818" stroke-width="1.9" stroke-linejoin="round" stroke-linecap="round"/>
<path d="M242.9,388.3 C243.5,395.7 244.4,395.9 244.7,410.4 C245.1,424.9 243.5,415.1 243.9,431.8 C244.2,448.4 245.1,450.8 245.7,460.3" fill="none" stroke="#a8802a" stroke-width="9.424999999999999" stroke-linejoin="round" stroke-linecap="round" opacity="0.38"/>
<path d="M242.9,388.3 C243.5,395.7 244.4,395.9 244.7,410.4 C245.1,424.9 243.5,415.1 243.9,431.8 C244.2,448.4 245.1,450.8 245.7,460.3" fill="none" stroke="#a8802a" stroke-width="3.25" stroke-linejoin="round" stroke-linecap="round"/>
<path d="M176.9,437.2 C182.0,439.7 182.4,439.3 192.3,444.6 C202.1,449.9 199.6,448.4 206.5,453.2 C213.4,457.9 210.8,457.0 212.9,458.9" fill="none" stroke="#8a2814" stroke-width="4.35" stroke-linejoin="round" stroke-linecap="round" opacity="0.38"/>
<path d="M176.9,437.2 C182.0,439.7 182.4,439.3 192.3,444.6 C202.1,449.9 199.6,448.4 206.5,453.2 C213.4,457.9 210.8,457.0 212.9,458.9" fill="none" stroke="#8a2814" stroke-width="1.5" stroke-linejoin="round" stroke-linecap="round"/>
<path d="M186.6,397.6 L190.1,407.2" fill="none" stroke="#c8401a" stroke-width="1.1" stroke-linejoin="round" stroke-linecap="round"/>
<path d="M195.1,396.1 L195.8,407.5" fill="none" stroke="#c8401a" stroke-width="1.1" stroke-linejoin="round" stroke-linecap="round"/>
</g>
<circle cx="213.3" cy="423.9" r="6.5" fill="none" stroke="#98a2a8" stroke-width="0.5" opacity="0.4"/>
<circle cx="213.3" cy="423.9" r="3.9" fill="#4a4d4a" opacity="0.75"/>
<g transform="translate(213.3 423.9) rotate(135)" opacity="1" filter="url(#bl0)"><path d="M2.25,-3.18 A3.90,3.90 0 1 0 2.25,3.18 A3.20,3.20 0 1 1 2.25,-3.18 z" fill="#f8f8f4"/></g>
<circle cx="213.3" cy="423.9" r="10.4" fill="none" stroke="#889" stroke-width="0.5" opacity="0.35"/>
</g>
<g clip-path="url(#c30)"><g filter="url(#spC)">
<path d="M35.0,459.9 C42.1,463.4 43.8,463.5 56.3,470.4 C68.7,477.3 61.7,472.5 72.5,480.6 C83.3,488.7 77.5,484.5 88.7,494.7 C99.8,505.0 100.1,505.8 105.9,511.4" fill="none" stroke="#808080" stroke-width="10.875" stroke-linejoin="round" stroke-linecap="round" opacity="0.38"/>
<path d="M35.0,459.9 C42.1,463.4 43.8,463.5 56.3,470.4 C68.7,477.3 61.7,472.5 72.5,480.6 C83.3,488.7 77.5,484.5 88.7,494.7 C99.8,505.0 100.1,505.8 105.9,511.4" fill="none" stroke="#808080" stroke-width="3.75" stroke-linejoin="round" stroke-linecap="round"/>
<path d="M105.3,489.9 C101.8,494.1 101.0,494.2 94.7,502.4 C88.5,510.7 91.5,505.5 86.6,514.6 C81.8,523.6 82.3,524.6 80.2,529.6" fill="none" stroke="#aaa" stroke-width="4.93" stroke-linejoin="round" stroke-linecap="round" opacity="0.38"/>
<path d="M105.3,489.9 C101.8,494.1 101.0,494.2 94.7,502.4 C88.5,510.7 91.5,505.5 86.6,514.6 C81.8,523.6 82.3,524.6 80.2,529.6" fill="none" stroke="#aaa" stroke-width="1.7" stroke-linejoin="round" stroke-linecap="round"/>
<path d="M82.6,510.5 C79.9,513.9 79.9,514.3 74.5,520.7 C69.1,527.0 69.1,526.6 66.4,529.6" fill="none" stroke="#666" stroke-width="2" stroke-linejoin="round" stroke-linecap="round"/>
</g>
</g>
<g clip-path="url(#c31)"><g filter="url(#spC)">
<path d="M106.5,460.3 C113.4,463.7 113.5,462.3 127.2,470.4 C140.8,478.5 134.6,474.5 147.4,484.6 C160.2,494.7 155.4,491.9 165.6,500.8 C175.9,509.7 174.0,507.8 178.2,511.4" fill="none" stroke="#a4a4a4" stroke-width="9.424999999999999" stroke-linejoin="round" stroke-linecap="round" opacity="0.38"/>
<path d="M106.5,460.3 C113.4,463.7 113.5,462.3 127.2,470.4 C140.8,478.5 134.6,474.5 147.4,484.6 C160.2,494.7 155.4,491.9 165.6,500.8 C175.9,509.7 174.0,507.8 178.2,511.4" fill="none" stroke="#a4a4a4" stroke-width="3.25" stroke-linejoin="round" stroke-linecap="round"/>
<path d="M106.5,469.6 C112.0,472.6 112.8,472.2 123.1,478.5 C133.4,484.9 132.6,485.3 137.3,488.7" fill="none" stroke="#999" stroke-width="4.35" stroke-linejoin="round" stroke-linecap="round" opacity="0.38"/>
<path d="M106.5,469.6 C112.0,472.6 112.8,472.2 123.1,478.5 C133.4,484.9 132.6,485.3 137.3,488.7" fill="none" stroke="#999" stroke-width="1.5" stroke-linejoin="round" stroke-linecap="round"/>
<path d="M176.2,487.9 C171.3,494.1 168.5,496.2 161.6,506.5 C154.7,516.8 159.0,510.9 155.5,518.6 C152.0,526.3 152.5,525.9 151.1,529.6" fill="none" stroke="#cfcfcf" stroke-width="4.93" stroke-linejoin="round" stroke-linecap="round" opacity="0.38"/>
<path d="M176.2,487.9 C171.3,494.1 168.5,496.2 161.6,506.5 C154.7,516.8 159.0,510.9 155.5,518.6 C152.0,526.3 152.5,525.9 151.1,529.6" fill="none" stroke="#cfcfcf" stroke-width="1.7" stroke-linejoin="round" stroke-linecap="round"/>
</g>
</g>
<g clip-path="url(#c32)"><g filter="url(#spC)">
<path d="M179.4,461.0 C186.1,465.5 185.6,465.3 199.4,474.5 C213.2,483.8 207.9,479.3 220.8,488.8 C233.6,498.3 228.4,495.2 237.9,503.1 C247.4,510.9 245.5,509.2 249.3,512.3" fill="none" stroke="#6a5a22" stroke-width="9.424999999999999" stroke-linejoin="round" stroke-linecap="round" opacity="0.38"/>
<path d="M179.4,461.0 C186.1,465.5 185.6,465.3 199.4,474.5 C213.2,483.8 207.9,479.3 220.8,488.8 C233.6,498.3 228.4,495.2 237.9,503.1 C247.4,510.9 245.5,509.2 249.3,512.3" fill="none" stroke="#6a5a22" stroke-width="3.25" stroke-linejoin="round" stroke-linecap="round"/>
<path d="M241.4,498.1 C238.4,502.1 237.6,500.9 232.2,510.2 C226.7,519.4 228.1,518.7 225.0,525.9 C222.0,533.0 223.6,529.7 222.9,531.6" fill="none" stroke="#96501a" stroke-width="4.64" stroke-linejoin="round" stroke-linecap="round" opacity="0.38"/>
<path d="M241.4,498.1 C238.4,502.1 237.6,500.9 232.2,510.2 C226.7,519.4 228.1,518.7 225.0,525.9 C222.0,533.0 223.6,529.7 222.9,531.6" fill="none" stroke="#96501a" stroke-width="1.6" stroke-linejoin="round" stroke-linecap="round"/>
<path d="M237.9,503.1 C240.3,502.1 241.2,502.1 245.0,500.2 C248.8,498.3 247.9,498.3 249.3,497.4" fill="none" stroke="#7a5a1e" stroke-width="4.35" stroke-linejoin="round" stroke-linecap="round" opacity="0.38"/>
<path d="M237.9,503.1 C240.3,502.1 241.2,502.1 245.0,500.2 C248.8,498.3 247.9,498.3 249.3,497.4" fill="none" stroke="#7a5a1e" stroke-width="1.5" stroke-linejoin="round" stroke-linecap="round"/>
</g>
<circle cx="213.4" cy="495.2" r="6.5" fill="none" stroke="#98a2a8" stroke-width="0.5" opacity="0.4"/>
<circle cx="213.4" cy="495.2" r="3.9" fill="#4a4d4a" opacity="0.75"/>
<g transform="translate(213.4 495.2) rotate(135)" opacity="1" filter="url(#bl0)"><path d="M2.25,-3.18 A3.90,3.90 0 1 0 2.25,3.18 A3.20,3.20 0 1 1 2.25,-3.18 z" fill="#f8f8f4"/></g>
<circle cx="213.4" cy="495.2" r="10.4" fill="none" stroke="#889" stroke-width="0.5" opacity="0.3"/>
</g>
<circle cx="70.8" cy="423.8" r="11.8" fill="none" stroke="#f2ea84" stroke-width="1.4" stroke-dasharray="2.6 1.75" opacity="1"/>
<circle cx="141.5" cy="423.8" r="11.8" fill="none" stroke="#f2ea84" stroke-width="1.4" stroke-dasharray="2.6 1.75" opacity="1"/>
<circle cx="70.8" cy="494.5" r="11.8" fill="none" stroke="#f2ea84" stroke-width="1.4" stroke-dasharray="2.6 1.75" opacity="1"/>
<circle cx="141.5" cy="494.5" r="11.8" fill="none" stroke="#f2ea84" stroke-width="1.4" stroke-dasharray="2.6 1.75" opacity="1"/>
<text x="8.40" y="561.00" font-size="17.8" font-weight="bold">F</text>
<text x="105.60" y="555.20" font-size="10.8" text-anchor="middle" stroke="#000" stroke-width="0.28">1 h</text>
<line x1="35.70" y1="558.50" x2="176.20" y2="558.50" stroke="#000" stroke-width="1.0"/>
<text x="69.30" y="568.80" font-size="11.3" text-anchor="middle" stroke="#000" stroke-width="0.28">tau</text>
<text x="142.60" y="568.80" font-size="11.3" text-anchor="middle" stroke="#000" stroke-width="0.28">merge</text>
<text x="32.80" y="606.30" font-size="11.1" text-anchor="middle" stroke="#000" stroke-width="0.28" transform="rotate(-90 32.80 606.30)">uncoated</text>
<text x="32.80" y="677.00" font-size="10.8" text-anchor="middle" stroke="#000" stroke-width="0.28" transform="rotate(-90 32.80 677.00)">PDL</text>
<rect x="36.10" y="572.00" width="69.20" height="68.90" fill="#030303"/>
<rect x="107.40" y="572.00" width="69.20" height="68.90" fill="#030303"/>
<rect x="36.10" y="642.60" width="69.20" height="68.90" fill="#030303"/>
<rect x="107.40" y="642.60" width="69.20" height="68.90" fill="#030303"/>
<g clip-path="url(#f00)"><g filter="url(#spF)">
<path d="M59.9,570.0 C61.1,576.8 61.9,576.8 63.3,590.3 C64.8,603.8 63.3,597.0 64.4,610.5 C65.4,624.0 65.3,620.2 66.4,630.8 C67.5,641.3 67.2,638.3 67.6,642.1" fill="none" stroke="#d8d8d8" stroke-width="3.3" stroke-linejoin="round" stroke-linecap="round"/>
<path d="M62.3,575.1 C67.1,576.4 67.1,574.7 76.5,579.1 C86.0,583.5 80.9,581.0 90.7,588.2 C100.5,595.5 100.8,596.6 105.9,600.8" fill="none" stroke="#b8b8b8" stroke-width="3.0" stroke-linejoin="round" stroke-linecap="round"/>
<path d="M105.9,624.3 C102.2,626.4 101.8,626.6 94.7,630.8 C87.7,635.0 92.3,633.2 84.6,636.8 C76.9,640.5 76.0,640.1 71.7,641.7" fill="none" stroke="#c0c0c0" stroke-width="3.2" stroke-linejoin="round" stroke-linecap="round"/>
<path d="M35.0,616.2 C39.4,619.0 38.9,617.0 48.2,624.7 C57.4,632.4 57.9,634.4 62.7,639.3" fill="none" stroke="#6a6a6a" stroke-width="2" stroke-linejoin="round" stroke-linecap="round"/>
<path d="M44.1,629.1 L56.3,616.6" fill="none" stroke="#555" stroke-width="1.6" stroke-linejoin="round" stroke-linecap="round"/>
<path d="M73.5,605.4 L79.6,602.4" fill="none" stroke="#666" stroke-width="1.4" stroke-linejoin="round" stroke-linecap="round"/>
<path d="M84.6,600.4 L96.8,598.4" fill="none" stroke="#444" stroke-width="2" stroke-linejoin="round" stroke-linecap="round"/>
</g>
</g>
<g clip-path="url(#f01)"><g filter="url(#spF)">
<path d="M132.8,570.0 C134.0,576.8 135.1,576.8 136.3,590.3 C137.4,603.8 135.9,593.2 136.3,610.5 C136.7,627.8 137.1,631.6 137.5,642.1" fill="none" stroke="#b01616" stroke-width="3.4" stroke-linejoin="round" stroke-linecap="round"/>
<path d="M135.3,575.1 C140.0,576.4 140.0,574.7 149.4,579.1 C158.9,583.5 154.4,581.0 163.6,588.2 C172.8,595.5 172.5,596.6 177.0,600.8" fill="none" stroke="#8e1212" stroke-width="3.0" stroke-linejoin="round" stroke-linecap="round"/>
<path d="M177.0,624.3 C173.2,627.1 172.8,628.3 165.6,632.8 C158.5,637.3 162.3,634.8 155.5,637.9 C148.8,641.0 148.8,640.7 145.4,642.1" fill="none" stroke="#8e1212" stroke-width="3.2" stroke-linejoin="round" stroke-linecap="round"/>
<path d="M107.3,616.6 L121.1,624.7" fill="none" stroke="#400a0a" stroke-width="2" stroke-linejoin="round" stroke-linecap="round"/>
</g>
<g transform="translate(140.4 607.6) rotate(-35)" opacity="1" filter="url(#bl0)"><path d="M1.88,-4.63 A5.00,5.00 0 1 0 1.88,4.63 A4.65,4.65 0 1 1 1.88,-4.63 z" fill="#fff"/></g>
</g>
<g clip-path="url(#f10)"><g filter="url(#spF)">
<path d="M70.8,641.0 C68.7,646.1 67.5,645.7 64.4,656.2 C61.2,666.7 62.1,660.9 61.3,672.4 C60.5,683.9 62.0,677.1 61.9,690.6 C61.9,704.1 61.4,705.5 61.1,712.9" fill="none" stroke="#c4c4c4" stroke-width="4.0" stroke-linejoin="round" stroke-linecap="round"/>
<path d="M56.7,642.0 C54.5,648.1 54.4,648.8 50.2,660.3 C46.0,671.7 49.2,666.7 44.1,676.5 C39.0,686.2 38.0,685.1 35.0,689.4" fill="none" stroke="#a8a8a8" stroke-width="3.6" stroke-linejoin="round" stroke-linecap="round"/>
<path d="M48.6,641.0 C46.4,643.7 46.6,643.8 42.1,649.1 C37.6,654.4 37.4,654.4 35.0,657.0" fill="none" stroke="#777" stroke-width="2.6" stroke-linejoin="round" stroke-linecap="round"/>
<path d="M35.0,690.2 C45.5,693.7 42.8,695.8 66.4,700.8 C90.0,705.8 92.7,703.7 105.9,705.2" fill="none" stroke="#5c5c5c" stroke-width="3.4" stroke-linejoin="round" stroke-linecap="round"/>
<path d="M35.0,701.2 C46.1,703.4 44.8,704.5 68.4,707.9 C92.0,711.2 93.4,710.2 105.9,711.3" fill="none" stroke="#4a4a4a" stroke-width="3" stroke-linejoin="round" stroke-linecap="round"/>
<path d="M66.4,693.1 L86.6,698.7" fill="none" stroke="#3a3a3a" stroke-width="3" stroke-linejoin="round" stroke-linecap="round"/>
</g>
</g>
<g clip-path="url(#f11)"><g filter="url(#spF)">
<path d="M137.7,641.0 C136.2,647.4 135.4,647.1 133.2,660.3 C131.1,673.4 132.3,663.0 131.2,680.5 C130.1,698.1 130.4,702.1 130.0,712.9" fill="none" stroke="#961212" stroke-width="4.2" stroke-linejoin="round" stroke-linecap="round"/>
<path d="M123.5,642.0 C121.3,649.5 121.9,650.0 117.0,664.3 C112.2,678.6 112.6,676.2 108.9,685.0 C105.2,693.7 106.9,688.8 105.9,690.6" fill="none" stroke="#6e0e0e" stroke-width="3.6" stroke-linejoin="round" stroke-linecap="round"/>
<path d="M115.4,641.0 C114.1,643.7 114.3,643.8 111.4,649.1 C108.4,654.4 108.1,654.4 106.5,657.0" fill="none" stroke="#500a0a" stroke-width="2.6" stroke-linejoin="round" stroke-linecap="round"/>
<path d="M106.5,698.7 C116.8,700.1 113.8,700.1 137.3,702.8 C160.8,705.5 163.8,705.5 177.0,706.8" fill="none" stroke="#3c0808" stroke-width="3.4" stroke-linejoin="round" stroke-linecap="round"/>
</g>
<g transform="translate(141.4 678.2) rotate(-80)" opacity="1" filter="url(#bl0)"><path d="M1.91,-4.73 A5.10,5.10 0 1 0 1.91,4.73 A4.74,4.74 0 1 1 1.91,-4.73 z" fill="#fff"/></g>
</g>
<circle cx="70.8" cy="606.6" r="11.8" fill="none" stroke="#e6e2a0" stroke-width="1.05" stroke-dasharray="1.1 1.45" opacity="0.9"/>
<circle cx="70.8" cy="677.5" r="11.8" fill="none" stroke="#e6e2a0" stroke-width="1.05" stroke-dasharray="1.1 1.45" opacity="0.9"/>
<text x="8.60" y="761.00" font-size="17.8" font-weight="bold">G</text>
<text x="109.60" y="754.00" font-size="10.8" text-anchor="middle" stroke="#000" stroke-width="0.28">1 h</text>
<line x1="34.80" y1="756.50" x2="177.00" y2="756.50" stroke="#000" stroke-width="1.0"/>
<text x="71.30" y="767.40" font-size="11.3" text-anchor="middle" stroke="#000" stroke-width="0.28">β-III tubulin</text>
<text x="141.80" y="767.40" font-size="11.3" text-anchor="middle" stroke="#000" stroke-width="0.28">merge</text>
<text x="32.80" y="806.00" font-size="11.1" text-anchor="middle" stroke="#000" stroke-width="0.28" transform="rotate(-90 32.80 806.00)">uncoated</text>
<text x="32.80" y="876.40" font-size="10.8" text-anchor="middle" stroke="#000" stroke-width="0.28" transform="rotate(-90 32.80 876.40)">PDL</text>
<rect x="36.10" y="771.40" width="69.20" height="68.90" fill="#030303"/>
<rect x="107.40" y="771.40" width="69.20" height="68.90" fill="#030303"/>
<rect x="36.10" y="841.90" width="69.20" height="68.90" fill="#030303"/>
<rect x="107.40" y="841.90" width="69.20" height="68.90" fill="#030303"/>
<g clip-path="url(#g00)"><g filter="url(#spG)">
<path d="M81.8,770.0 C80.7,775.4 79.5,776.8 78.5,786.2 C77.6,795.7 80.0,790.3 78.9,798.4 C77.9,806.5 76.3,801.7 75.5,810.5 C74.7,819.3 75.1,814.6 76.5,824.7 C77.9,834.8 78.7,835.5 79.8,840.9" fill="none" stroke="#e4e4e4" stroke-width="1.8" stroke-linejoin="round" stroke-linecap="round"/>
<path d="M78.9,798.4 L75.5,810.5" fill="none" stroke="#ffffff" stroke-width="2.2" stroke-linejoin="round" stroke-linecap="round"/>
<path d="M85.6,828.7 L86.2,840.9" fill="none" stroke="#444" stroke-width="1.2" stroke-linejoin="round" stroke-linecap="round"/>
</g>
</g>
<g clip-path="url(#g01)"><g filter="url(#spG2)">
<path d="M151.7,770.0 C150.6,775.4 149.8,775.4 148.4,786.2 C147.0,797.0 148.4,792.3 147.4,802.4 C146.4,812.5 144.6,803.8 145.4,816.6 C146.1,829.4 148.2,832.8 149.6,840.9" fill="none" stroke="#821010" stroke-width="2.8" stroke-linejoin="round" stroke-linecap="round"/>
</g>
<g transform="translate(140.1 806.5) rotate(-25)" opacity="1" filter="url(#bl0)"><path d="M1.69,-4.17 A4.50,4.50 0 1 0 1.69,4.17 A4.19,4.19 0 1 1 1.69,-4.17 z" fill="#d4d4d4"/></g>
</g>
<g clip-path="url(#g10)"><g filter="url(#spG)">
<path d="M51.8,840.9 C53.6,847.0 53.1,846.3 57.3,859.1 C61.5,872.0 59.6,867.2 64.4,879.4 C69.1,891.5 66.6,884.8 71.4,895.6 C76.3,906.4 76.4,906.4 78.9,911.8" fill="none" stroke="#f4f4f4" stroke-width="2.3" stroke-linejoin="round" stroke-linecap="round"/>
<path d="M56.3,843.9 C61.7,847.7 61.7,847.3 72.5,855.1 C83.3,862.8 77.5,860.3 88.7,867.2 C99.8,874.1 100.1,872.9 105.9,875.7" fill="none" stroke="#a8a8a8" stroke-width="1.5" stroke-linejoin="round" stroke-linecap="round"/>
<path d="M35.0,881.4 C42.1,881.7 45.8,881.3 56.3,882.4 C66.7,883.5 59.6,884.3 66.4,884.7 C73.1,885.0 67.7,885.9 76.5,883.4 C85.3,881.0 83.6,880.9 92.7,877.4 C101.8,873.8 100.1,874.4 103.9,872.9" fill="none" stroke="#b0b0b0" stroke-width="1.5" stroke-linejoin="round" stroke-linecap="round"/>
</g>
<ellipse cx="95.8" cy="856.2" rx="1.9" ry="3.9" fill="#f4f4f4" filter="url(#bl1)" transform="rotate(-12 95.8 856.2)"/>
</g>
<g clip-path="url(#g11)"><g filter="url(#spG2)">
<path d="M122.7,840.9 C124.9,847.7 124.3,847.0 129.2,861.2 C134.0,875.3 131.9,869.9 137.3,883.4 C142.7,896.9 141.2,892.2 145.4,901.7 C149.6,911.1 148.4,908.4 149.8,911.8" fill="none" stroke="#9a1414" stroke-width="3.2" stroke-linejoin="round" stroke-linecap="round"/>
<path d="M127.2,843.9 C133.2,847.7 133.9,847.3 145.4,855.1 C156.9,862.8 151.1,860.3 161.6,867.2 C172.1,874.1 171.9,872.9 177.0,875.7" fill="none" stroke="#420909" stroke-width="4" stroke-linejoin="round" stroke-linecap="round"/>
<path d="M112.0,881.4 C120.4,881.8 122.1,883.6 137.3,882.6 C152.5,881.6 144.3,881.6 157.5,878.4 C170.8,875.1 170.5,874.7 177.0,872.9" fill="none" stroke="#420909" stroke-width="3" stroke-linejoin="round" stroke-linecap="round"/>
</g>
<ellipse cx="165.6" cy="857" rx="2.6" ry="3.6" fill="#8e1414" filter="url(#bl2)"/>
<g transform="translate(139.6 876.3) rotate(0)" opacity="1" filter="url(#bl0)"><path d="M2.25,-5.45 A5.90,5.90 0 1 0 2.25,5.45 A5.49,5.49 0 1 1 2.25,-5.45 z" fill="#f0f0f0"/></g>
</g>
<circle cx="70.8" cy="805.6" r="12" fill="none" stroke="#e6e2a0" stroke-width="1.0" stroke-dasharray="1.1 1.5" opacity="0.85"/>
<circle cx="70.8" cy="877.2" r="12" fill="none" stroke="#e6e2a0" stroke-width="1.0" stroke-dasharray="1.1 1.5" opacity="0.85"/>
<text x="278.60" y="23.30" font-size="17.6" font-weight="bold">D</text>
<text x="422.00" y="20.50" font-size="13.6" text-anchor="middle" stroke="#000" stroke-width="0.28">β-catenin 1 h</text>
<line x1="320.00" y1="52.90" x2="358.00" y2="52.90" stroke="#dcdcdc" stroke-width="0.7"/>
<text x="339.00" y="49.00" font-size="6.0" text-anchor="middle" fill="#808080" stroke="#808080" stroke-width="0.14">0-5 µm</text>
<line x1="367.00" y1="52.90" x2="452.00" y2="52.90" stroke="#dcdcdc" stroke-width="0.7"/>
<text x="408.00" y="49.00" font-size="6.0" text-anchor="middle" fill="#808080" stroke="#808080" stroke-width="0.14">5-15 µm</text>
<line x1="362.60" y1="44.00" x2="362.60" y2="223.00" stroke="#808080" stroke-width="0.65" stroke-dasharray="2.1 1.7"/>
<line x1="457.40" y1="44.00" x2="457.40" y2="223.00" stroke="#808080" stroke-width="0.65" stroke-dasharray="2.1 1.7"/>
<line x1="314.00" y1="13.50" x2="314.00" y2="256.00" stroke="#000" stroke-width="1.5"/>
<line x1="311.50" y1="14.00" x2="314.00" y2="14.00" stroke="#000" stroke-width="0.8"/>
<text x="308.40" y="15.98" font-size="5.5" text-anchor="end" stroke="#000" stroke-width="0.14">1100</text>
<line x1="311.50" y1="44.10" x2="314.00" y2="44.10" stroke="#000" stroke-width="0.8"/>
<text x="308.40" y="46.08" font-size="5.5" text-anchor="end" stroke="#000" stroke-width="0.14">900</text>
<line x1="311.50" y1="74.20" x2="314.00" y2="74.20" stroke="#000" stroke-width="0.8"/>
<text x="308.40" y="76.18" font-size="5.5" text-anchor="end" stroke="#000" stroke-width="0.14">700</text>
<line x1="311.50" y1="104.40" x2="314.00" y2="104.40" stroke="#000" stroke-width="0.8"/>
<text x="308.40" y="106.38" font-size="5.5" text-anchor="end" stroke="#000" stroke-width="0.14">500</text>
<line x1="311.50" y1="134.50" x2="314.00" y2="134.50" stroke="#000" stroke-width="0.8"/>
<text x="308.40" y="136.48" font-size="5.5" text-anchor="end" stroke="#000" stroke-width="0.14">300</text>
<line x1="311.50" y1="164.70" x2="314.00" y2="164.70" stroke="#000" stroke-width="0.8"/>
<text x="308.40" y="166.68" font-size="5.5" text-anchor="end" stroke="#000" stroke-width="0.14">100</text>
<line x1="311.50" y1="194.80" x2="314.00" y2="194.80" stroke="#000" stroke-width="0.8"/>
<text x="308.40" y="196.78" font-size="5.5" text-anchor="end" stroke="#000" stroke-width="0.14">-100</text>
<line x1="311.50" y1="224.90" x2="314.00" y2="224.90" stroke="#000" stroke-width="0.8"/>
<text x="308.40" y="226.88" font-size="5.5" text-anchor="end" stroke="#000" stroke-width="0.14">-300</text>
<line x1="311.50" y1="255.00" x2="314.00" y2="255.00" stroke="#000" stroke-width="0.8"/>
<text x="308.40" y="256.98" font-size="5.5" text-anchor="end" stroke="#000" stroke-width="0.14">-500</text>
<text x="288.80" y="124.00" font-size="11.8" text-anchor="middle" stroke="#000" stroke-width="0.28" transform="rotate(-90 288.80 124.00)">f (a.u. normalized to last 15 µm)</text>
<path d="M315.3,218.7 C316.1,216.0 316.8,213.7 318.7,207.3 C320.6,200.9 321.1,200.4 323.3,191.3 C325.4,182.2 326.0,177.3 327.8,168.5 C329.7,159.7 329.7,157.6 331.2,153.6 C332.8,149.6 332.8,153.2 334.7,151.4 C336.5,149.5 337.4,147.2 339.2,145.6 C341.1,144.1 341.1,143.7 342.7,144.5 C344.3,145.3 344.5,145.9 346.1,149.1 C347.7,152.3 347.9,155.8 349.5,158.2 C351.1,160.6 351.3,158.0 352.9,159.3 C354.5,160.7 354.5,162.6 356.4,163.9 C358.2,165.2 359.1,165.3 360.9,165.0 C362.8,164.8 362.5,163.0 364.3,162.8 C366.2,162.5 366.8,163.9 368.9,163.9 C371.0,163.9 371.3,161.7 373.5,162.8 C375.6,163.8 375.9,167.7 378.0,168.5 C380.2,169.3 381.0,165.7 382.6,166.2 C384.2,166.7 383.6,168.6 384.9,170.8 C386.2,172.9 386.7,174.0 388.3,175.3 C389.9,176.7 390.1,177.0 391.7,176.5 C393.3,175.9 393.6,175.4 395.2,173.0 C396.8,170.6 397.0,169.1 398.6,166.2 C400.2,163.3 400.4,162.1 402.0,160.5 C403.6,158.9 403.8,158.3 405.4,159.3 C407.0,160.4 407.3,162.7 408.9,165.0 C410.4,167.4 410.9,167.8 412.3,169.6 C413.6,171.5 413.2,174.1 414.6,173.0 C415.9,172.0 416.4,166.1 418.0,165.0 C419.6,164.0 419.8,169.0 421.4,168.5 C423.0,167.9 423.2,164.9 424.8,162.8 C426.4,160.6 426.7,158.5 428.3,159.3 C429.9,160.1 430.1,164.1 431.7,166.2 C433.3,168.3 433.5,168.7 435.1,168.5 C436.7,168.2 436.9,166.1 438.5,165.0 C440.1,164.0 440.3,163.1 441.9,163.9 C443.5,164.7 443.8,167.7 445.4,168.5 C447.0,169.3 447.2,167.1 448.8,167.3 C450.4,167.6 450.8,169.3 452.2,169.6 C453.7,169.9 453.6,169.5 455.0,168.5 C456.4,167.4 456.8,165.3 458.4,165.0 C460.0,164.8 460.2,165.2 461.8,167.3 C463.4,169.5 463.7,172.0 465.3,174.2 C466.9,176.3 467.1,176.5 468.7,176.5 C470.3,176.5 470.5,175.2 472.1,174.2 C473.7,173.1 473.9,171.9 475.5,171.9 C477.1,171.9 477.4,172.8 479.0,174.2 C480.6,175.5 480.5,177.3 482.4,177.6 C484.3,177.9 485.1,176.4 487.0,175.3 C488.8,174.3 488.8,172.5 490.4,173.0 C492.0,173.6 492.2,175.7 493.8,177.6 C495.4,179.5 495.6,180.8 497.2,181.0 C498.8,181.3 499.1,180.1 500.6,178.7 C502.2,177.4 502.5,175.3 504.1,175.3 C505.7,175.3 505.6,178.7 507.5,178.7 C509.4,178.7 510.2,177.7 512.1,175.3 C513.9,172.9 513.9,170.6 515.5,168.5 C517.1,166.3 517.0,167.8 518.9,166.2 C520.8,164.6 521.6,161.6 523.5,161.6 C525.3,161.6 525.3,164.1 526.9,166.2 C528.5,168.3 528.7,170.2 530.3,170.8 C531.9,171.3 532.1,167.9 533.7,168.5 C535.3,169.0 535.3,169.8 537.2,173.0 C539.0,176.2 539.6,177.9 541.7,182.2 C543.9,186.4 544.4,190.8 546.3,191.3 C548.2,191.8 548.1,186.8 549.7,184.5 C551.3,182.1 551.5,181.3 553.1,181.0 C554.7,180.8 555.0,182.2 556.6,183.3 C558.2,184.4 558.1,185.3 560.0,185.6 C561.9,185.9 562.4,184.2 564.6,184.5 C566.7,184.7 567.0,185.7 569.1,186.7 C571.3,187.8 571.6,189.0 573.7,189.0 C575.8,189.0 576.1,187.0 578.3,186.7 C580.4,186.5 580.7,186.8 582.8,187.9 C584.9,188.9 585.3,190.8 587.4,191.3 C589.5,191.8 589.8,189.9 591.9,190.2 C594.1,190.4 594.4,193.0 596.5,192.4 C598.6,191.9 600.0,188.9 601.1,187.9" fill="none" stroke="#8c8c8c" stroke-width="1.5" stroke-linejoin="round" stroke-linecap="round"/>
<path d="M315.3,257.5 C316.6,251.6 318.3,244.1 321.0,232.4 C323.6,220.7 324.3,217.4 326.7,207.3 C329.1,197.2 329.1,195.9 331.2,189.0 C333.4,182.1 333.7,181.3 335.8,177.6 C337.9,173.9 338.2,174.6 340.4,173.0 C342.5,171.4 343.1,170.8 344.9,170.8 C346.8,170.8 346.8,174.1 348.4,173.0 C350.0,172.0 350.5,166.7 351.8,166.2 C353.1,165.7 353.0,167.6 354.1,170.8 C355.1,174.0 355.0,176.7 356.4,179.9 C357.7,183.1 358.2,181.8 359.8,184.5 C361.4,187.1 361.9,187.6 363.2,191.3 C364.5,195.0 364.2,194.8 365.5,200.4 C366.8,206.0 367.6,213.7 368.9,215.3 C370.2,216.9 370.2,213.4 371.2,207.3 C372.1,201.2 372.0,192.2 373.0,189.0 C374.1,185.8 374.6,194.1 375.8,193.6 C376.9,193.0 376.7,189.4 378.0,186.7 C379.4,184.1 379.9,184.0 381.5,182.2 C383.1,180.3 383.3,178.2 384.9,178.7 C386.5,179.3 386.7,184.2 388.3,184.5 C389.9,184.7 390.1,180.4 391.7,179.9 C393.3,179.4 393.6,182.4 395.2,182.2 C396.8,181.9 397.0,178.2 398.6,178.7 C400.2,179.3 400.4,182.6 402.0,184.5 C403.6,186.3 403.8,185.7 405.4,186.7 C407.0,187.8 407.3,188.0 408.9,189.0 C410.4,190.1 410.7,190.2 412.3,191.3 C413.9,192.4 414.1,194.1 415.7,193.6 C417.3,193.0 417.5,191.1 419.1,189.0 C420.7,186.9 420.9,186.6 422.5,184.5 C424.1,182.3 424.4,181.7 426.0,179.9 C427.6,178.0 427.8,176.7 429.4,176.5 C431.0,176.2 431.2,179.0 432.8,178.7 C434.4,178.5 434.6,175.6 436.2,175.3 C437.8,175.1 438.1,177.6 439.7,177.6 C441.3,177.6 441.5,175.1 443.1,175.3 C444.7,175.6 444.9,178.5 446.5,178.7 C448.1,179.0 448.3,176.2 449.9,176.5 C451.5,176.7 452.2,178.0 453.4,179.9 C454.5,181.7 453.8,181.8 455.0,184.5 C456.2,187.1 456.8,190.0 458.4,191.3 C460.0,192.6 460.2,189.1 461.8,190.2 C463.4,191.2 463.7,195.6 465.3,195.9 C466.9,196.1 467.1,193.4 468.7,191.3 C470.3,189.2 470.5,187.3 472.1,186.7 C473.7,186.2 473.9,188.0 475.5,189.0 C477.1,190.1 477.6,189.2 479.0,191.3 C480.3,193.4 480.1,194.4 481.2,198.1 C482.4,201.9 482.7,207.3 484.0,207.3 C485.3,207.3 485.7,202.9 487.0,198.1 C488.2,193.4 487.9,191.5 489.2,186.7 C490.6,181.9 491.1,181.9 492.7,177.6 C494.3,173.3 494.5,173.0 496.1,168.5 C497.7,163.9 498.2,159.8 499.5,158.2 C500.8,156.6 500.7,158.2 501.8,161.6 C502.9,165.1 502.7,168.8 504.1,173.0 C505.4,177.3 505.9,179.4 507.5,179.9 C509.1,180.4 509.3,175.6 510.9,175.3 C512.5,175.1 512.7,177.1 514.3,178.7 C515.9,180.3 516.2,180.3 517.8,182.2 C519.4,184.0 519.6,184.6 521.2,186.7 C522.8,188.9 523.0,189.2 524.6,191.3 C526.2,193.4 526.4,195.9 528.0,195.9 C529.6,195.9 529.9,194.5 531.5,191.3 C533.1,188.1 533.3,186.4 534.9,182.2 C536.5,177.9 536.7,177.0 538.3,173.0 C539.9,169.0 540.1,165.6 541.7,165.0 C543.3,164.5 543.6,167.8 545.2,170.8 C546.8,173.7 547.0,175.2 548.6,177.6 C550.2,180.0 550.4,179.7 552.0,181.0 C553.6,182.4 553.8,182.5 555.4,183.3 C557.0,184.1 557.3,183.7 558.9,184.5 C560.4,185.2 560.7,185.9 562.3,186.7 C563.9,187.5 564.1,188.1 565.7,187.9 C567.3,187.6 567.5,187.5 569.1,185.6 C570.7,183.7 570.9,182.3 572.5,179.9 C574.1,177.5 574.4,177.2 576.0,175.3 C577.6,173.5 577.8,172.4 579.4,171.9 C581.0,171.4 581.2,173.8 582.8,173.0 C584.4,172.2 584.6,170.1 586.2,168.5 C587.8,166.9 588.3,168.1 589.7,166.2 C591.0,164.3 590.6,163.9 591.9,160.5 C593.3,157.0 594.0,152.2 595.4,151.4 C596.7,150.6 596.3,153.6 597.7,157.1 C599.0,160.5 600.3,164.1 601.1,166.2" fill="none" stroke="#f2c53d" stroke-width="1.4" stroke-linejoin="round" stroke-linecap="round"/>
<path d="M313.7,255.2 C314.3,251.5 315.0,245.1 316.4,239.2 C317.9,233.4 318.2,237.0 319.8,230.1 C321.4,223.2 321.4,220.2 323.3,209.6 C325.1,198.9 326.0,196.7 327.8,184.5 C329.7,172.2 329.9,165.0 331.2,157.1 C332.6,149.1 332.2,155.0 333.5,150.2 C334.9,145.4 335.2,144.0 337.0,136.5 C338.7,129.1 339.5,120.9 341.1,118.3 C342.7,115.6 342.4,119.8 343.8,125.1 C345.2,130.4 345.6,136.8 347.2,141.1 C348.8,145.3 349.1,142.0 350.6,143.4 C352.2,144.7 352.6,143.3 354.1,146.8 C355.6,150.3 355.7,154.7 357.0,158.2 C358.4,161.7 358.5,161.1 359.8,161.6 C361.1,162.2 361.2,161.6 362.5,160.5 C363.8,159.4 364.3,157.1 365.5,157.1 C366.7,157.1 366.7,157.3 367.8,160.5 C368.8,163.7 369.1,166.2 370.0,170.8 C371.0,175.3 370.6,177.5 371.6,179.9 C372.7,182.3 373.1,182.1 374.6,181.0 C376.1,180.0 376.4,176.9 378.0,175.3 C379.6,173.7 379.9,173.4 381.5,174.2 C383.1,175.0 383.3,177.9 384.9,178.7 C386.5,179.5 386.7,177.1 388.3,177.6 C389.9,178.1 390.1,181.0 391.7,181.0 C393.3,181.0 393.6,179.5 395.2,177.6 C396.8,175.7 397.0,174.9 398.6,173.0 C400.2,171.2 400.4,170.7 402.0,169.6 C403.6,168.5 403.8,170.3 405.4,168.5 C407.0,166.6 407.4,164.7 408.9,161.6 C410.3,158.6 410.5,156.0 411.8,155.5 C413.2,154.9 413.4,157.1 414.6,159.3 C415.7,161.6 415.8,161.9 416.8,165.0 C417.9,168.2 417.8,169.6 419.1,173.0 C420.5,176.5 420.9,178.6 422.5,179.9 C424.1,181.2 424.4,179.8 426.0,178.7 C427.6,177.7 427.8,176.7 429.4,175.3 C431.0,174.0 431.2,174.1 432.8,173.0 C434.4,172.0 434.6,171.0 436.2,170.8 C437.8,170.5 438.1,172.4 439.7,171.9 C441.3,171.4 441.5,169.0 443.1,168.5 C444.7,167.9 444.9,170.1 446.5,169.6 C448.1,169.1 448.3,168.3 449.9,166.2 C451.5,164.1 452.2,161.6 453.4,160.5 C454.5,159.4 453.8,159.8 455.0,161.6 C456.2,163.5 456.8,165.5 458.4,168.5 C460.0,171.4 460.2,172.3 461.8,174.2 C463.4,176.0 463.7,176.7 465.3,176.5 C466.9,176.2 467.1,174.1 468.7,173.0 C470.3,172.0 470.5,171.9 472.1,171.9 C473.7,171.9 473.9,172.0 475.5,173.0 C477.1,174.1 477.4,174.9 479.0,176.5 C480.6,178.1 480.8,180.2 482.4,179.9 C484.0,179.6 484.2,179.3 485.8,175.3 C487.4,171.3 487.6,164.4 489.2,162.8 C490.8,161.2 491.1,167.7 492.7,168.5 C494.3,169.3 494.5,165.7 496.1,166.2 C497.7,166.7 497.9,168.6 499.5,170.8 C501.1,172.9 501.3,173.5 502.9,175.3 C504.5,177.2 504.8,178.5 506.4,178.7 C508.0,179.0 508.2,176.5 509.8,176.5 C511.4,176.5 511.6,177.9 513.2,178.7 C514.8,179.5 514.8,179.9 516.6,179.9 C518.5,179.9 519.1,178.7 521.2,178.7 C523.3,178.7 523.6,179.9 525.8,179.9 C527.9,179.9 528.2,179.3 530.3,178.7 C532.5,178.2 532.8,177.3 534.9,177.6 C537.0,177.9 537.3,179.6 539.5,179.9 C541.6,180.2 541.9,179.3 544.0,178.7 C546.1,178.2 546.5,178.4 548.6,177.6 C550.7,176.8 551.0,176.4 553.1,175.3 C555.3,174.3 555.6,172.2 557.7,173.0 C559.8,173.8 560.1,177.1 562.3,178.7 C564.4,180.3 564.7,178.6 566.8,179.9 C569.0,181.2 569.3,182.1 571.4,184.5 C573.5,186.8 574.1,189.6 576.0,190.2 C577.8,190.7 577.8,188.1 579.4,186.7 C581.0,185.4 581.2,184.2 582.8,184.5 C584.4,184.7 584.6,187.3 586.2,187.9 C587.8,188.4 587.8,186.5 589.7,186.7 C591.5,187.0 592.4,189.0 594.2,189.0 C596.1,189.0 596.1,187.5 597.7,186.7 C599.3,185.9 600.3,185.9 601.1,185.6" fill="none" stroke="#000" stroke-width="2.1" stroke-linejoin="round" stroke-linecap="round"/>
<path d="M313.0,257.5 C314.3,251.6 316.3,243.6 318.7,232.4 C321.1,221.2 321.1,219.7 323.3,209.6 C325.4,199.4 325.7,199.1 327.8,189.0 C330.0,178.9 330.5,173.9 332.4,166.2 C334.3,158.5 334.2,159.4 335.8,155.9 C337.4,152.5 337.6,151.9 339.2,151.4 C340.8,150.8 341.1,153.9 342.7,153.6 C344.3,153.4 344.5,149.9 346.1,150.2 C347.7,150.5 348.2,152.1 349.5,154.8 C350.8,157.4 350.5,159.8 351.8,161.6 C353.1,163.5 353.6,162.0 355.2,162.8 C356.8,163.6 357.0,164.8 358.6,165.0 C360.2,165.3 360.5,163.6 362.1,163.9 C363.7,164.2 363.9,166.2 365.5,166.2 C367.1,166.2 367.3,163.9 368.9,163.9 C370.5,163.9 371.0,163.5 372.3,166.2 C373.7,168.9 373.3,174.0 374.6,175.3 C375.9,176.7 376.4,171.4 378.0,171.9 C379.6,172.4 379.9,175.7 381.5,177.6 C383.1,179.5 383.3,178.3 384.9,179.9 C386.5,181.5 386.7,184.2 388.3,184.5 C389.9,184.7 390.1,181.3 391.7,181.0 C393.3,180.8 393.6,183.6 395.2,183.3 C396.8,183.0 397.0,179.6 398.6,179.9 C400.2,180.2 400.4,184.2 402.0,184.5 C403.6,184.7 403.8,182.9 405.4,181.0 C407.0,179.2 407.3,177.0 408.9,176.5 C410.4,175.9 410.7,177.4 412.3,178.7 C413.9,180.1 414.1,182.2 415.7,182.2 C417.3,182.2 417.5,179.0 419.1,178.7 C420.7,178.5 420.9,181.3 422.5,181.0 C424.1,180.8 424.4,178.9 426.0,177.6 C427.6,176.3 427.8,175.3 429.4,175.3 C431.0,175.3 431.2,177.9 432.8,177.6 C434.4,177.3 434.6,174.4 436.2,174.2 C437.8,173.9 438.1,176.7 439.7,176.5 C441.3,176.2 441.5,174.9 443.1,173.0 C444.7,171.2 444.9,169.0 446.5,168.5 C448.1,167.9 448.3,169.2 449.9,170.8 C451.5,172.4 452.2,173.5 453.4,175.3 C454.5,177.2 453.8,177.1 455.0,178.7 C456.2,180.3 456.8,180.8 458.4,182.2 C460.0,183.5 460.2,183.1 461.8,184.5 C463.4,185.8 463.7,186.3 465.3,187.9 C466.9,189.5 467.1,190.8 468.7,191.3 C470.3,191.8 470.5,191.2 472.1,190.2 C473.7,189.1 473.9,188.3 475.5,186.7 C477.1,185.1 477.4,183.6 479.0,183.3 C480.6,183.0 480.8,185.6 482.4,185.6 C484.0,185.6 484.2,184.4 485.8,183.3 C487.4,182.2 487.6,182.1 489.2,181.0 C490.8,180.0 491.1,179.5 492.7,178.7 C494.3,177.9 494.5,178.7 496.1,177.6 C497.7,176.5 497.9,175.5 499.5,174.2 C501.1,172.8 501.3,171.6 502.9,171.9 C504.5,172.2 504.8,174.0 506.4,175.3 C508.0,176.7 508.2,178.4 509.8,177.6 C511.4,176.8 511.6,172.4 513.2,171.9 C514.8,171.4 515.0,173.7 516.6,175.3 C518.2,176.9 518.5,177.4 520.0,178.7 C521.6,180.1 521.9,180.8 523.5,181.0 C525.1,181.3 525.3,180.7 526.9,179.9 C528.5,179.1 528.7,177.3 530.3,177.6 C531.9,177.9 532.1,180.8 533.7,181.0 C535.3,181.3 535.6,179.8 537.2,178.7 C538.8,177.7 539.0,176.5 540.6,176.5 C542.2,176.5 542.4,179.0 544.0,178.7 C545.6,178.5 545.8,177.2 547.4,175.3 C549.0,173.5 549.3,172.6 550.9,170.8 C552.5,168.9 552.7,166.8 554.3,167.3 C555.9,167.9 556.1,170.6 557.7,173.0 C559.3,175.4 559.5,176.3 561.1,177.6 C562.7,178.9 563.0,179.3 564.6,178.7 C566.2,178.2 566.4,175.6 568.0,175.3 C569.6,175.1 569.8,177.3 571.4,177.6 C573.0,177.9 573.2,177.3 574.8,176.5 C576.4,175.7 576.7,174.4 578.3,174.2 C579.9,173.9 580.1,176.1 581.7,175.3 C583.3,174.5 583.5,172.4 585.1,170.8 C586.7,169.2 586.9,168.5 588.5,168.5 C590.1,168.5 590.3,169.7 591.9,170.8 C593.5,171.8 593.8,172.2 595.4,173.0 C597.0,173.8 597.2,174.2 598.8,174.2 C600.4,174.2 601.4,173.3 602.2,173.0" fill="none" stroke="#e3211c" stroke-width="1.5" stroke-linejoin="round" stroke-linecap="round"/>
<line x1="314.00" y1="179.70" x2="601.10" y2="179.70" stroke="#000" stroke-width="1.3"/>
<line x1="314.65" y1="179.90" x2="600.20" y2="179.90" stroke="#000" stroke-width="2.2" stroke-dasharray="1.1 1.270"/>
<line x1="314.60" y1="180.60" x2="600.30" y2="180.60" stroke="#000" stroke-width="2.9000000000000004" stroke-dasharray="1.2 8.280"/>
<text x="324.68" y="188.60" font-size="5.3" text-anchor="middle" font-weight="bold" fill="#3a3a3a">1</text>
<text x="334.16" y="188.60" font-size="5.3" text-anchor="middle" font-weight="bold" fill="#3a3a3a">2</text>
<text x="343.64" y="188.60" font-size="5.3" text-anchor="middle" font-weight="bold" fill="#3a3a3a">3</text>
<text x="353.12" y="188.60" font-size="5.3" text-anchor="middle" font-weight="bold" fill="#3a3a3a">4</text>
<text x="362.60" y="188.60" font-size="5.3" text-anchor="middle" font-weight="bold" fill="#3a3a3a">5</text>
<text x="372.08" y="188.60" font-size="5.3" text-anchor="middle" font-weight="bold" fill="#3a3a3a">6</text>
<text x="381.56" y="188.60" font-size="5.3" text-anchor="middle" font-weight="bold" fill="#3a3a3a">7</text>
<text x="391.04" y="188.60" font-size="5.3" text-anchor="middle" font-weight="bold" fill="#3a3a3a">8</text>
<text x="400.52" y="188.60" font-size="5.3" text-anchor="middle" font-weight="bold" fill="#3a3a3a">9</text>
<text x="410.00" y="188.60" font-size="5.3" text-anchor="middle" font-weight="bold" fill="#3a3a3a">10</text>
<text x="419.48" y="188.60" font-size="5.3" text-anchor="middle" font-weight="bold" fill="#3a3a3a">11</text>
<text x="428.96" y="188.60" font-size="5.3" text-anchor="middle" font-weight="bold" fill="#3a3a3a">12</text>
<text x="438.44" y="188.60" font-size="5.3" text-anchor="middle" font-weight="bold" fill="#3a3a3a">13</text>
<text x="447.92" y="188.60" font-size="5.3" text-anchor="middle" font-weight="bold" fill="#3a3a3a">14</text>
<text x="457.40" y="188.60" font-size="5.3" text-anchor="middle" font-weight="bold" fill="#3a3a3a">15</text>
<text x="466.88" y="188.60" font-size="5.3" text-anchor="middle" font-weight="bold" fill="#3a3a3a">16</text>
<text x="476.36" y="188.60" font-size="5.3" text-anchor="middle" font-weight="bold" fill="#3a3a3a">17</text>
<text x="485.84" y="188.60" font-size="5.3" text-anchor="middle" font-weight="bold" fill="#3a3a3a">18</text>
<text x="495.32" y="188.60" font-size="5.3" text-anchor="middle" font-weight="bold" fill="#3a3a3a">19</text>
<text x="504.80" y="188.60" font-size="5.3" text-anchor="middle" font-weight="bold" fill="#3a3a3a">20</text>
<text x="514.28" y="188.60" font-size="5.3" text-anchor="middle" font-weight="bold" fill="#3a3a3a">21</text>
<text x="523.76" y="188.60" font-size="5.3" text-anchor="middle" font-weight="bold" fill="#3a3a3a">22</text>
<text x="533.24" y="188.60" font-size="5.3" text-anchor="middle" font-weight="bold" fill="#3a3a3a">23</text>
<text x="542.72" y="188.60" font-size="5.3" text-anchor="middle" font-weight="bold" fill="#3a3a3a">24</text>
<text x="552.20" y="188.60" font-size="5.3" text-anchor="middle" font-weight="bold" fill="#3a3a3a">25</text>
<text x="561.68" y="188.60" font-size="5.3" text-anchor="middle" font-weight="bold" fill="#3a3a3a">26</text>
<text x="571.16" y="188.60" font-size="5.3" text-anchor="middle" font-weight="bold" fill="#3a3a3a">27</text>
<text x="580.64" y="188.60" font-size="5.3" text-anchor="middle" font-weight="bold" fill="#3a3a3a">28</text>
<text x="590.12" y="188.60" font-size="5.3" text-anchor="middle" font-weight="bold" fill="#3a3a3a">29</text>
<text x="599.60" y="188.60" font-size="5.3" text-anchor="middle" font-weight="bold" fill="#3a3a3a">30</text>
<text x="333.00" y="236.40" font-size="8.15" stroke="#000" stroke-width="0.22">Distance from bead center (µm)</text>
<line x1="328.00" y1="241.00" x2="457.00" y2="241.00" stroke="#000" stroke-width="1.6"/>
<path d="M461.00,241.00 l-6.5,-3 v6 z" fill="#000"/>
<line x1="559.20" y1="204.40" x2="572.50" y2="204.40" stroke="#8c8c8c" stroke-width="1.5"/>
<text x="574.80" y="207.20" font-size="8.05" stroke="#000" stroke-width="0.22">uncoated</text>
<line x1="559.20" y1="213.50" x2="572.50" y2="213.50" stroke="#f2c53d" stroke-width="1.5"/>
<text x="574.80" y="216.30" font-size="8.05" stroke="#000" stroke-width="0.22">uncoated + emetine</text>
<line x1="559.20" y1="223.50" x2="572.50" y2="223.50" stroke="#000" stroke-width="2.2"/>
<text x="574.80" y="226.30" font-size="8.05" stroke="#000" stroke-width="0.22">PDL</text>
<line x1="559.20" y1="233.20" x2="572.50" y2="233.20" stroke="#e3211c" stroke-width="1.6"/>
<text x="574.80" y="236.00" font-size="8.05" stroke="#000" stroke-width="0.22">PDL + emetine</text>
<line x1="518.05" y1="61.60" x2="518.05" y2="56.60" stroke="#000" stroke-width="1.3"/>
<line x1="515.35" y1="56.60" x2="520.75" y2="56.60" stroke="#000" stroke-width="1.4"/>
<rect x="513.40" y="61.60" width="9.30" height="34.40" fill="#8c8c8c" stroke="#000" stroke-width="1.1"/>
<line x1="518.05" y1="96.00" x2="518.05" y2="99.40" stroke="#000" stroke-width="1.3"/>
<line x1="531.60" y1="72.70" x2="531.60" y2="68.00" stroke="#000" stroke-width="1.3"/>
<line x1="528.90" y1="68.00" x2="534.30" y2="68.00" stroke="#000" stroke-width="1.4"/>
<rect x="527.00" y="72.70" width="9.20" height="23.30" fill="#f2c53d" stroke="#000" stroke-width="1.1"/>
<line x1="531.60" y1="96.00" x2="531.60" y2="99.40" stroke="#000" stroke-width="1.3"/>
<line x1="545.00" y1="38.70" x2="545.00" y2="31.50" stroke="#000" stroke-width="1.3"/>
<line x1="542.30" y1="31.50" x2="547.70" y2="31.50" stroke="#000" stroke-width="1.4"/>
<rect x="540.40" y="38.70" width="9.20" height="57.30" fill="#000" stroke="#000" stroke-width="1.1"/>
<line x1="545.00" y1="96.00" x2="545.00" y2="99.40" stroke="#000" stroke-width="1.3"/>
<line x1="558.40" y1="62.70" x2="558.40" y2="59.00" stroke="#000" stroke-width="1.3"/>
<line x1="555.70" y1="59.00" x2="561.10" y2="59.00" stroke="#000" stroke-width="1.4"/>
<rect x="553.80" y="62.70" width="9.20" height="33.30" fill="#e3211c" stroke="#000" stroke-width="1.1"/>
<line x1="558.40" y1="96.00" x2="558.40" y2="99.40" stroke="#000" stroke-width="1.3"/>
<line x1="512.70" y1="14.40" x2="512.70" y2="96.70" stroke="#000" stroke-width="1.7"/>
<line x1="512.00" y1="96.00" x2="565.50" y2="96.00" stroke="#000" stroke-width="1.7"/>
<line x1="508.90" y1="15.20" x2="512.70" y2="15.20" stroke="#000" stroke-width="1.2"/>
<text x="508.40" y="17.07" font-size="5.2" text-anchor="end" stroke="#000" stroke-width="0.14">2000</text>
<line x1="508.90" y1="35.40" x2="512.70" y2="35.40" stroke="#000" stroke-width="1.2"/>
<text x="508.40" y="37.27" font-size="5.2" text-anchor="end" stroke="#000" stroke-width="0.14">1500</text>
<line x1="508.90" y1="55.60" x2="512.70" y2="55.60" stroke="#000" stroke-width="1.2"/>
<text x="508.40" y="57.47" font-size="5.2" text-anchor="end" stroke="#000" stroke-width="0.14">1000</text>
<line x1="508.90" y1="75.80" x2="512.70" y2="75.80" stroke="#000" stroke-width="1.2"/>
<text x="508.40" y="77.67" font-size="5.2" text-anchor="end" stroke="#000" stroke-width="0.14">500</text>
<line x1="508.90" y1="96.00" x2="512.70" y2="96.00" stroke="#000" stroke-width="1.2"/>
<text x="508.40" y="97.87" font-size="5.2" text-anchor="end" stroke="#000" stroke-width="0.14">0</text>
<text x="490.50" y="55.50" font-size="10.6" text-anchor="middle" stroke="#000" stroke-width="0.28" transform="rotate(-90 490.50 55.50)">AUC 0-5 µm</text>
<text x="518.85" y="104.10" font-size="8.9" text-anchor="end" stroke="#000" stroke-width="0.22" transform="rotate(-45 518.85 104.10)">uncoated</text>
<text x="535.30" y="104.10" font-size="8.9" text-anchor="end" stroke="#000" stroke-width="0.22" transform="rotate(-45 535.30 104.10)">uncoated + emetine</text>
<text x="549.60" y="104.10" font-size="8.9" text-anchor="end" stroke="#000" stroke-width="0.22" transform="rotate(-45 549.60 104.10)">PDL</text>
<text x="565.00" y="104.10" font-size="8.9" text-anchor="end" stroke="#000" stroke-width="0.22" transform="rotate(-45 565.00 104.10)">PDL + emetine</text>
<path d="M518.00,55.00 V16.20 H543.80 V30.00" fill="none" stroke="#000" stroke-width="1.4"/>
<text x="530.90" y="17.70" font-size="10" text-anchor="middle" stroke="#000" stroke-width="0.28">*</text>
<path d="M531.60,66.50 V25.80 H542.40 V30.00" fill="none" stroke="#000" stroke-width="1.4"/>
<text x="537.00" y="27.30" font-size="10" text-anchor="middle" stroke="#000" stroke-width="0.28">**</text>
<path d="M546.60,30.00 V25.80 H558.40 V57.50" fill="none" stroke="#000" stroke-width="1.4"/>
<text x="552.50" y="27.30" font-size="10" text-anchor="middle" stroke="#000" stroke-width="0.28">**</text>
<line x1="608.60" y1="49.00" x2="608.60" y2="39.40" stroke="#000" stroke-width="1.3"/>
<line x1="605.90" y1="39.40" x2="611.30" y2="39.40" stroke="#000" stroke-width="1.4"/>
<rect x="604.00" y="49.00" width="9.20" height="47.00" fill="#8c8c8c" stroke="#000" stroke-width="1.1"/>
<line x1="608.60" y1="96.00" x2="608.60" y2="99.40" stroke="#000" stroke-width="1.3"/>
<line x1="622.10" y1="45.50" x2="622.10" y2="35.00" stroke="#000" stroke-width="1.3"/>
<line x1="619.40" y1="35.00" x2="624.80" y2="35.00" stroke="#000" stroke-width="1.4"/>
<rect x="617.50" y="45.50" width="9.20" height="50.50" fill="#f2c53d" stroke="#000" stroke-width="1.1"/>
<line x1="622.10" y1="96.00" x2="622.10" y2="99.40" stroke="#000" stroke-width="1.3"/>
<line x1="635.50" y1="31.50" x2="635.50" y2="24.30" stroke="#000" stroke-width="1.3"/>
<line x1="632.80" y1="24.30" x2="638.20" y2="24.30" stroke="#000" stroke-width="1.4"/>
<rect x="630.90" y="31.50" width="9.20" height="64.50" fill="#000" stroke="#000" stroke-width="1.1"/>
<line x1="635.50" y1="96.00" x2="635.50" y2="99.40" stroke="#000" stroke-width="1.3"/>
<line x1="649.00" y1="44.80" x2="649.00" y2="37.60" stroke="#000" stroke-width="1.3"/>
<line x1="646.30" y1="37.60" x2="651.70" y2="37.60" stroke="#000" stroke-width="1.4"/>
<rect x="644.40" y="44.80" width="9.20" height="51.20" fill="#e3211c" stroke="#000" stroke-width="1.1"/>
<line x1="649.00" y1="96.00" x2="649.00" y2="99.40" stroke="#000" stroke-width="1.3"/>
<line x1="603.40" y1="17.40" x2="603.40" y2="96.70" stroke="#000" stroke-width="1.7"/>
<line x1="602.70" y1="96.00" x2="656.20" y2="96.00" stroke="#000" stroke-width="1.7"/>
<line x1="599.60" y1="18.20" x2="603.40" y2="18.20" stroke="#000" stroke-width="1.2"/>
<text x="599.10" y="20.07" font-size="5.2" text-anchor="end" stroke="#000" stroke-width="0.14">2500</text>
<line x1="599.60" y1="33.80" x2="603.40" y2="33.80" stroke="#000" stroke-width="1.2"/>
<text x="599.10" y="35.67" font-size="5.2" text-anchor="end" stroke="#000" stroke-width="0.14">2000</text>
<line x1="599.60" y1="49.30" x2="603.40" y2="49.30" stroke="#000" stroke-width="1.2"/>
<text x="599.10" y="51.17" font-size="5.2" text-anchor="end" stroke="#000" stroke-width="0.14">1500</text>
<line x1="599.60" y1="64.90" x2="603.40" y2="64.90" stroke="#000" stroke-width="1.2"/>
<text x="599.10" y="66.77" font-size="5.2" text-anchor="end" stroke="#000" stroke-width="0.14">1000</text>
<line x1="599.60" y1="80.40" x2="603.40" y2="80.40" stroke="#000" stroke-width="1.2"/>
<text x="599.10" y="82.27" font-size="5.2" text-anchor="end" stroke="#000" stroke-width="0.14">500</text>
<line x1="599.60" y1="96.00" x2="603.40" y2="96.00" stroke="#000" stroke-width="1.2"/>
<text x="599.10" y="97.87" font-size="5.2" text-anchor="end" stroke="#000" stroke-width="0.14">0</text>
<text x="582.60" y="56.40" font-size="10.6" text-anchor="middle" stroke="#000" stroke-width="0.28" transform="rotate(-90 582.60 56.40)">AUC 5-15 µm</text>
<text x="609.40" y="104.10" font-size="8.9" text-anchor="end" stroke="#000" stroke-width="0.22" transform="rotate(-45 609.40 104.10)">uncoated</text>
<text x="625.80" y="104.10" font-size="8.9" text-anchor="end" stroke="#000" stroke-width="0.22" transform="rotate(-45 625.80 104.10)">uncoated + emetine</text>
<text x="640.10" y="104.10" font-size="8.9" text-anchor="end" stroke="#000" stroke-width="0.22" transform="rotate(-45 640.10 104.10)">PDL</text>
<text x="655.60" y="104.10" font-size="8.9" text-anchor="end" stroke="#000" stroke-width="0.22" transform="rotate(-45 655.60 104.10)">PDL + emetine</text>
<text x="631.20" y="15.20" font-size="8.6" text-anchor="middle" stroke="#000" stroke-width="0.22">n.s.</text>
<line x1="609.80" y1="19.10" x2="649.60" y2="19.10" stroke="#000" stroke-width="1.5"/>
<text x="279.20" y="268.70" font-size="17.8" font-weight="bold">E</text>
<text x="422.70" y="271.80" font-size="13.6" text-anchor="middle" stroke="#000" stroke-width="0.28">SNAP25 1 h</text>
<line x1="319.60" y1="306.10" x2="358.80" y2="306.10" stroke="#dcdcdc" stroke-width="0.7"/>
<text x="337.50" y="301.60" font-size="6.0" text-anchor="middle" fill="#808080" stroke="#808080" stroke-width="0.14">0-5 µm</text>
<line x1="365.70" y1="306.10" x2="455.00" y2="306.10" stroke="#dcdcdc" stroke-width="0.7"/>
<text x="408.00" y="301.60" font-size="6.0" text-anchor="middle" fill="#808080" stroke="#808080" stroke-width="0.14">5-15 µm</text>
<line x1="361.70" y1="304.00" x2="361.70" y2="478.50" stroke="#808080" stroke-width="0.65" stroke-dasharray="2.1 1.7"/>
<line x1="458.30" y1="304.00" x2="458.30" y2="478.50" stroke="#808080" stroke-width="0.65" stroke-dasharray="2.1 1.7"/>
<line x1="314.00" y1="285.50" x2="314.00" y2="510.00" stroke="#000" stroke-width="1.5"/>
<line x1="311.50" y1="286.10" x2="314.00" y2="286.10" stroke="#000" stroke-width="0.8"/>
<text x="307.00" y="288.22" font-size="5.9" text-anchor="end" stroke="#000" stroke-width="0.14">1500</text>
<line x1="311.50" y1="330.70" x2="314.00" y2="330.70" stroke="#000" stroke-width="0.8"/>
<text x="307.00" y="332.82" font-size="5.9" text-anchor="end" stroke="#000" stroke-width="0.14">1000</text>
<line x1="311.50" y1="375.30" x2="314.00" y2="375.30" stroke="#000" stroke-width="0.8"/>
<text x="307.00" y="377.42" font-size="5.9" text-anchor="end" stroke="#000" stroke-width="0.14">500</text>
<line x1="311.50" y1="419.80" x2="314.00" y2="419.80" stroke="#000" stroke-width="0.8"/>
<text x="307.00" y="421.92" font-size="5.9" text-anchor="end" stroke="#000" stroke-width="0.14">0</text>
<line x1="311.50" y1="464.40" x2="314.00" y2="464.40" stroke="#000" stroke-width="0.8"/>
<text x="307.00" y="466.52" font-size="5.9" text-anchor="end" stroke="#000" stroke-width="0.14">-500</text>
<line x1="311.50" y1="509.00" x2="314.00" y2="509.00" stroke="#000" stroke-width="0.8"/>
<text x="307.00" y="511.12" font-size="5.9" text-anchor="end" stroke="#000" stroke-width="0.14">-1000</text>
<text x="288.80" y="386.00" font-size="11.8" text-anchor="middle" stroke="#000" stroke-width="0.28" transform="rotate(-90 288.80 386.00)">f (a.u. normalized to last 15 µm)</text>
<path d="M313.7,477.2 C314.3,478.2 315.0,482.8 316.4,481.7 C317.9,480.7 318.2,483.2 319.8,472.6 C321.4,461.9 321.7,449.9 323.3,436.1 C324.9,422.2 325.1,422.3 326.7,413.3 C328.3,404.2 328.5,400.6 330.1,397.3 C331.7,394.0 331.9,400.7 333.5,399.1 C335.1,397.5 335.6,391.4 337.0,390.4 C338.3,389.5 337.9,392.3 339.2,395.0 C340.6,397.7 341.1,398.6 342.7,401.8 C344.3,405.0 344.5,406.0 346.1,408.7 C347.7,411.4 347.9,412.7 349.5,413.3 C351.1,413.8 351.3,412.6 352.9,411.0 C354.5,409.4 354.8,408.0 356.4,406.4 C358.0,404.8 358.2,403.6 359.8,404.1 C361.4,404.7 361.6,407.9 363.2,408.7 C364.8,409.5 365.0,406.7 366.6,407.5 C368.2,408.3 368.5,410.2 370.0,412.1 C371.6,414.0 371.9,412.6 373.5,415.5 C375.1,418.5 375.3,420.4 376.9,424.7 C378.5,428.9 379.0,433.3 380.3,433.8 C381.7,434.3 381.3,433.3 382.6,426.9 C383.9,420.6 384.4,412.8 386.0,406.4 C387.6,400.0 387.9,400.6 389.5,399.6 C391.0,398.5 391.3,399.7 392.9,401.8 C394.5,404.0 394.7,408.7 396.3,408.7 C397.9,408.7 398.1,402.9 399.7,401.8 C401.3,400.8 401.5,405.2 403.1,404.1 C404.7,403.1 405.0,399.4 406.6,397.3 C408.2,395.1 408.4,393.4 410.0,395.0 C411.6,396.6 411.8,398.8 413.4,404.1 C415.0,409.4 415.2,412.0 416.8,417.8 C418.4,423.7 418.7,425.2 420.3,429.2 C421.9,433.2 422.1,435.5 423.7,434.9 C425.3,434.4 425.5,430.4 427.1,426.9 C428.7,423.5 428.9,420.6 430.5,420.1 C432.1,419.6 432.4,422.0 434.0,424.7 C435.6,427.3 435.8,431.0 437.4,431.5 C439.0,432.0 439.2,427.2 440.8,426.9 C442.4,426.7 442.6,427.7 444.2,430.4 C445.8,433.0 446.1,434.4 447.7,438.4 C449.3,442.4 449.5,448.0 451.1,447.5 C452.7,447.0 453.6,439.9 454.5,436.1 C455.4,432.3 454.1,432.9 455.0,431.3 C455.9,429.7 456.8,430.1 458.4,429.0 C460.0,428.0 460.2,427.5 461.8,426.7 C463.4,425.9 463.7,426.4 465.3,425.6 C466.9,424.8 467.1,422.8 468.7,423.3 C470.3,423.8 470.5,426.3 472.1,427.9 C473.7,429.5 473.9,431.0 475.5,430.2 C477.1,429.4 477.4,426.8 479.0,424.5 C480.6,422.1 480.8,424.1 482.4,419.9 C484.0,415.6 484.2,412.6 485.8,406.2 C487.4,399.8 487.9,394.1 489.2,392.5 C490.6,390.9 490.5,395.1 491.5,399.3 C492.6,403.6 492.5,407.0 493.8,410.8 C495.1,414.5 495.6,414.0 497.2,415.3 C498.8,416.7 499.1,414.3 500.6,416.5 C502.2,418.6 502.5,421.0 504.1,424.5 C505.7,427.9 505.9,429.2 507.5,431.3 C509.1,433.4 509.3,433.3 510.9,433.6 C512.5,433.8 512.7,433.2 514.3,432.4 C515.9,431.6 516.2,431.8 517.8,430.2 C519.4,428.6 519.6,427.7 521.2,425.6 C522.8,423.5 523.0,421.3 524.6,421.0 C526.2,420.8 526.4,422.6 528.0,424.5 C529.6,426.3 529.9,426.9 531.5,429.0 C533.1,431.1 533.3,432.2 534.9,433.6 C536.5,434.9 536.7,436.3 538.3,434.7 C539.9,433.1 540.1,432.9 541.7,426.7 C543.3,420.6 543.8,417.0 545.2,408.5 C546.5,400.0 546.4,396.6 547.4,390.2 C548.5,383.8 548.7,381.9 549.7,381.1 C550.8,380.3 550.7,383.3 552.0,386.8 C553.3,390.3 553.8,393.0 555.4,395.9 C557.0,398.8 557.3,399.9 558.9,399.3 C560.4,398.8 560.7,393.1 562.3,393.6 C563.9,394.2 564.1,397.6 565.7,401.6 C567.3,405.6 567.5,407.0 569.1,410.8 C570.7,414.5 570.9,414.9 572.5,417.6 C574.1,420.3 574.4,419.5 576.0,422.2 C577.6,424.8 577.8,426.9 579.4,429.0 C581.0,431.1 581.2,431.8 582.8,431.3 C584.4,430.8 584.6,428.9 586.2,426.7 C587.8,424.6 588.1,424.0 589.7,422.2 C591.3,420.3 591.5,420.3 593.1,418.7 C594.7,417.1 594.9,415.3 596.5,415.3 C598.1,415.3 599.1,417.9 599.9,418.7" fill="none" stroke="#8c8c8c" stroke-width="1.5" stroke-linejoin="round" stroke-linecap="round"/>
<path d="M326.7,500.0 C327.5,494.7 328.5,488.9 330.1,477.2 C331.7,465.4 331.9,462.6 333.5,449.8 C335.1,437.0 335.4,432.5 337.0,422.4 C338.6,412.3 338.8,410.9 340.4,406.4 C342.0,401.9 342.2,401.9 343.8,403.0 C345.4,404.0 345.6,408.3 347.2,411.0 C348.8,413.6 349.1,414.9 350.6,414.4 C352.2,413.9 352.5,410.8 354.1,408.7 C355.7,406.6 355.9,406.3 357.5,405.3 C359.1,404.2 359.4,406.5 360.9,404.1 C362.4,401.7 362.6,399.3 363.9,395.0 C365.2,390.7 365.5,386.9 366.6,385.9 C367.8,384.8 367.8,386.2 368.9,390.4 C370.0,394.7 369.9,400.4 371.2,404.1 C372.5,407.9 373.3,406.9 374.6,406.4 C375.9,405.9 375.8,400.2 376.9,401.8 C378.0,403.4 377.8,409.0 379.2,413.3 C380.5,417.5 381.0,417.7 382.6,420.1 C384.2,422.5 384.4,424.9 386.0,423.5 C387.6,422.2 387.9,416.8 389.5,414.4 C391.0,412.0 391.3,411.9 392.9,413.3 C394.5,414.6 394.7,417.4 396.3,420.1 C397.9,422.8 398.1,425.5 399.7,424.7 C401.3,423.9 401.5,419.6 403.1,416.7 C404.7,413.7 405.0,415.0 406.6,412.1 C408.2,409.2 408.4,406.8 410.0,404.1 C411.6,401.5 411.8,400.7 413.4,400.7 C415.0,400.7 415.2,399.6 416.8,404.1 C418.4,408.6 418.7,414.8 420.3,420.1 C421.9,425.4 422.1,425.9 423.7,426.9 C425.3,428.0 425.8,427.9 427.1,424.7 C428.4,421.5 428.1,419.6 429.4,413.3 C430.7,406.9 431.4,401.8 432.8,397.3 C434.3,392.7 434.2,392.8 435.6,393.9 C436.9,394.9 437.0,400.2 438.5,401.8 C440.0,403.4 440.3,399.6 441.9,400.7 C443.5,401.8 443.8,404.0 445.4,406.4 C447.0,408.8 447.2,406.7 448.8,411.0 C450.4,415.2 450.9,418.8 452.2,424.7 C453.5,430.5 453.9,434.5 454.5,436.1 C455.1,437.6 454.1,432.9 455.0,431.3 C455.9,429.7 456.8,429.8 458.4,429.0 C460.0,428.2 460.2,427.6 461.8,427.9 C463.4,428.1 463.7,430.4 465.3,430.2 C466.9,429.9 467.1,428.1 468.7,426.7 C470.3,425.4 470.5,425.2 472.1,424.5 C473.7,423.7 473.9,424.1 475.5,423.3 C477.1,422.5 477.4,422.4 479.0,421.0 C480.6,419.7 480.8,419.2 482.4,417.6 C484.0,416.0 484.2,415.8 485.8,414.2 C487.4,412.6 487.6,412.6 489.2,410.8 C490.8,408.9 491.1,408.3 492.7,406.2 C494.3,404.1 494.5,403.5 496.1,401.6 C497.7,399.8 497.9,397.7 499.5,398.2 C501.1,398.7 501.3,404.2 502.9,403.9 C504.5,403.6 504.8,400.5 506.4,397.1 C508.0,393.6 508.2,389.9 509.8,389.1 C511.4,388.3 511.9,389.6 513.2,393.6 C514.5,397.6 514.4,401.7 515.5,406.2 C516.6,410.7 516.7,413.0 517.8,413.0 C518.8,413.0 519.0,410.2 520.0,406.2 C521.1,402.2 521.3,397.5 522.3,395.9 C523.4,394.3 523.3,396.4 524.6,399.3 C525.9,402.3 526.4,404.7 528.0,408.5 C529.6,412.2 529.9,412.7 531.5,415.3 C533.1,418.0 533.3,418.0 534.9,419.9 C536.5,421.7 536.7,423.8 538.3,423.3 C539.9,422.8 540.1,420.0 541.7,417.6 C543.3,415.2 543.6,413.0 545.2,413.0 C546.8,413.0 547.0,415.5 548.6,417.6 C550.2,419.7 550.4,420.3 552.0,422.2 C553.6,424.0 553.8,424.3 555.4,425.6 C557.0,426.9 557.3,427.6 558.9,427.9 C560.4,428.1 560.7,427.5 562.3,426.7 C563.9,425.9 564.1,425.2 565.7,424.5 C567.3,423.7 567.5,424.4 569.1,423.3 C570.7,422.2 570.9,419.6 572.5,419.9 C574.1,420.2 574.4,421.8 576.0,424.5 C577.6,427.1 577.8,430.5 579.4,431.3 C581.0,432.1 581.2,428.1 582.8,427.9 C584.4,427.6 584.6,428.3 586.2,430.2 C587.8,432.0 588.1,432.7 589.7,435.9 C591.3,439.1 591.8,441.7 593.1,443.9 C594.4,446.0 594.3,446.3 595.4,445.0 C596.4,443.7 596.3,441.3 597.7,438.1 C599.0,435.0 600.3,432.9 601.1,431.3" fill="none" stroke="#f2c53d" stroke-width="1.4" stroke-linejoin="round" stroke-linecap="round"/>
<path d="M313.7,509.1 C314.3,504.9 315.0,501.5 316.4,490.9 C317.9,480.2 318.2,477.3 319.8,463.5 C321.4,449.6 321.7,446.4 323.3,431.5 C324.9,416.6 325.4,410.2 326.7,399.6 C328.0,388.9 327.6,392.8 329.0,385.9 C330.3,378.9 330.8,376.3 332.4,369.9 C334.0,363.5 334.2,365.4 335.8,358.5 C337.4,351.6 337.6,348.2 339.2,340.2 C340.8,332.2 341.3,329.1 342.7,324.2 C344.0,319.3 343.9,318.7 344.9,319.2 C346.0,319.7 346.2,323.0 347.2,326.5 C348.3,330.1 348.2,331.8 349.5,334.5 C350.8,337.2 351.6,333.9 352.9,337.9 C354.3,341.9 354.1,344.2 355.2,351.6 C356.3,359.1 356.4,361.9 357.5,369.9 C358.6,377.9 358.7,378.9 359.8,385.9 C360.8,392.8 361.1,395.3 362.1,399.6 C363.0,403.8 362.8,402.5 363.9,404.1 C365.0,405.7 365.2,406.1 366.6,406.4 C368.1,406.7 368.5,404.7 370.0,405.3 C371.6,405.8 371.9,407.1 373.5,408.7 C375.1,410.3 375.3,412.1 376.9,412.1 C378.5,412.1 378.7,412.1 380.3,408.7 C381.9,405.2 382.3,400.6 383.7,397.3 C385.2,394.0 385.3,394.5 386.7,394.5 C388.1,394.5 388.5,395.6 389.9,397.3 C391.3,399.0 391.4,400.2 392.9,401.8 C394.4,403.4 394.9,404.9 396.3,404.1 C397.7,403.3 397.7,400.3 399.0,398.4 C400.4,396.6 400.5,396.1 402.0,396.1 C403.5,396.1 403.8,398.2 405.4,398.4 C407.0,398.7 407.5,398.0 408.9,397.3 C410.2,396.6 409.9,394.9 411.1,395.4 C412.4,396.0 412.8,396.5 414.1,399.6 C415.4,402.6 415.4,405.5 416.8,408.7 C418.3,411.9 418.7,412.7 420.3,413.3 C421.9,413.8 422.1,412.3 423.7,411.0 C425.3,409.6 425.5,409.3 427.1,407.5 C428.7,405.8 428.9,404.5 430.5,403.7 C432.1,402.9 432.4,404.3 434.0,404.1 C435.6,404.0 435.8,403.0 437.4,403.0 C439.0,403.0 439.2,403.1 440.8,404.1 C442.4,405.2 442.6,407.0 444.2,407.5 C445.8,408.1 446.1,405.9 447.7,406.4 C449.3,406.9 449.5,408.0 451.1,409.8 C452.7,411.7 453.6,412.3 454.5,414.4 C455.4,416.5 454.1,418.0 455.0,418.7 C455.9,419.5 456.8,420.0 458.4,417.6 C460.0,415.2 460.2,412.5 461.8,408.5 C463.4,404.5 463.9,402.3 465.3,400.5 C466.6,398.6 466.5,398.6 467.6,400.5 C468.6,402.3 468.8,404.5 469.8,408.5 C470.9,412.5 470.8,415.7 472.1,417.6 C473.4,419.5 474.2,417.5 475.5,416.5 C476.9,415.4 476.8,412.5 477.8,413.0 C478.9,413.6 478.8,417.1 480.1,418.7 C481.4,420.3 481.9,419.9 483.5,419.9 C485.1,419.9 485.4,418.7 487.0,418.7 C488.6,418.7 488.8,420.2 490.4,419.9 C492.0,419.6 492.2,418.9 493.8,417.6 C495.4,416.3 495.6,413.9 497.2,414.2 C498.8,414.4 499.1,417.1 500.6,418.7 C502.2,420.3 502.5,419.7 504.1,421.0 C505.7,422.4 505.9,424.5 507.5,424.5 C509.1,424.5 509.3,422.4 510.9,421.0 C512.5,419.7 512.7,419.5 514.3,418.7 C515.9,417.9 516.2,417.6 517.8,417.6 C519.4,417.6 519.6,417.7 521.2,418.7 C522.8,419.8 523.3,419.2 524.6,422.2 C525.9,425.1 525.8,428.6 526.9,431.3 C528.0,434.0 528.1,434.6 529.2,433.6 C530.2,432.5 530.1,427.8 531.5,426.7 C532.8,425.7 533.3,428.0 534.9,429.0 C536.5,430.1 536.7,432.4 538.3,431.3 C539.9,430.2 540.1,427.1 541.7,424.5 C543.3,421.8 543.6,421.2 545.2,419.9 C546.8,418.6 547.0,419.3 548.6,418.7 C550.2,418.2 550.4,418.9 552.0,417.6 C553.6,416.3 553.8,415.2 555.4,413.0 C557.0,410.9 557.3,408.7 558.9,408.5 C560.4,408.2 560.7,410.8 562.3,411.9 C563.9,413.0 564.1,411.4 565.7,413.0 C567.3,414.6 567.5,417.1 569.1,418.7 C570.7,420.3 570.9,420.4 572.5,419.9 C574.1,419.4 574.4,416.7 576.0,416.5 C577.6,416.2 577.8,417.4 579.4,418.7 C581.0,420.1 581.2,419.8 582.8,422.2 C584.4,424.6 584.6,428.5 586.2,429.0 C587.8,429.5 588.1,427.1 589.7,424.5 C591.3,421.8 591.5,420.3 593.1,417.6 C594.7,414.9 594.9,414.4 596.5,413.0 C598.1,411.7 598.6,411.1 599.9,411.9 C601.3,412.7 601.7,415.4 602.2,416.5" fill="none" stroke="#000" stroke-width="2.2" stroke-linejoin="round" stroke-linecap="round"/>
<path d="M313.7,506.8 C314.6,503.1 315.8,499.9 317.6,490.9 C319.3,481.8 319.4,480.8 321.0,468.0 C322.6,455.2 322.8,447.8 324.4,436.1 C326.0,424.4 326.2,424.2 327.8,417.8 C329.4,411.4 329.7,413.5 331.2,408.7 C332.8,403.9 333.3,402.1 334.7,397.3 C336.0,392.5 335.9,391.4 337.0,388.1 C338.0,384.8 338.2,382.6 339.2,383.1 C340.3,383.7 340.2,387.1 341.5,390.4 C342.9,393.7 343.3,394.6 344.9,397.3 C346.5,399.9 346.8,400.5 348.4,401.8 C350.0,403.2 350.2,403.5 351.8,403.0 C353.4,402.4 353.6,400.9 355.2,399.6 C356.8,398.2 357.0,396.5 358.6,397.3 C360.2,398.1 360.5,400.9 362.1,403.0 C363.7,405.1 363.9,405.1 365.5,406.4 C367.1,407.7 367.3,408.4 368.9,408.7 C370.5,409.0 370.7,406.5 372.3,407.5 C373.9,408.6 374.2,410.9 375.8,413.3 C377.4,415.6 377.6,415.7 379.2,417.8 C380.8,419.9 381.0,420.3 382.6,422.4 C384.2,424.5 384.4,426.1 386.0,426.9 C387.6,427.7 387.9,425.3 389.5,425.8 C391.0,426.3 391.3,428.2 392.9,429.2 C394.5,430.3 394.7,431.4 396.3,430.4 C397.9,429.3 398.1,427.3 399.7,424.7 C401.3,422.0 401.5,421.6 403.1,419.0 C404.7,416.3 405.0,414.9 406.6,413.3 C408.2,411.7 408.4,411.0 410.0,412.1 C411.6,413.2 411.8,415.4 413.4,417.8 C415.0,420.2 415.2,420.3 416.8,422.4 C418.4,424.5 418.7,425.3 420.3,426.9 C421.9,428.5 422.1,428.2 423.7,429.2 C425.3,430.3 425.5,432.0 427.1,431.5 C428.7,431.0 428.9,427.2 430.5,426.9 C432.1,426.7 432.4,428.2 434.0,430.4 C435.6,432.5 435.8,433.9 437.4,436.1 C439.0,438.2 439.2,439.8 440.8,439.5 C442.4,439.2 442.6,434.7 444.2,434.9 C445.8,435.2 446.1,438.2 447.7,440.6 C449.3,443.0 449.5,443.6 451.1,445.2 C452.7,446.8 453.6,447.0 454.5,447.5 C455.4,448.0 454.1,448.9 455.0,447.3 C455.9,445.6 456.8,442.6 458.4,440.4 C460.0,438.3 460.2,440.3 461.8,438.1 C463.4,436.0 463.7,433.7 465.3,431.3 C466.9,428.9 467.1,429.5 468.7,427.9 C470.3,426.3 470.5,426.6 472.1,424.5 C473.7,422.3 473.9,420.6 475.5,418.7 C477.1,416.9 477.4,416.5 479.0,416.5 C480.6,416.5 480.8,418.7 482.4,418.7 C484.0,418.7 484.2,417.8 485.8,416.5 C487.4,415.1 487.6,413.3 489.2,413.0 C490.8,412.8 491.1,414.0 492.7,415.3 C494.3,416.7 494.5,418.7 496.1,418.7 C497.7,418.7 497.9,416.4 499.5,415.3 C501.1,414.3 501.3,414.2 502.9,414.2 C504.5,414.2 504.8,414.8 506.4,415.3 C508.0,415.9 508.2,416.7 509.8,416.5 C511.4,416.2 511.6,415.2 513.2,414.2 C514.8,413.1 515.0,412.7 516.6,411.9 C518.2,411.1 518.5,410.5 520.0,410.8 C521.6,411.0 521.9,411.2 523.5,413.0 C525.1,414.9 525.3,415.5 526.9,418.7 C528.5,421.9 528.7,423.8 530.3,426.7 C531.9,429.7 532.1,431.0 533.7,431.3 C535.3,431.6 535.6,429.7 537.2,427.9 C538.8,426.0 539.0,424.9 540.6,423.3 C542.2,421.7 542.4,422.1 544.0,421.0 C545.6,420.0 545.8,419.0 547.4,418.7 C549.0,418.5 549.3,420.2 550.9,419.9 C552.5,419.6 552.7,418.7 554.3,417.6 C555.9,416.5 556.1,416.4 557.7,415.3 C559.3,414.3 559.5,413.3 561.1,413.0 C562.7,412.8 563.0,414.4 564.6,414.2 C566.2,413.9 566.4,412.7 568.0,411.9 C569.6,411.1 569.8,410.2 571.4,410.8 C573.0,411.3 573.2,412.6 574.8,414.2 C576.4,415.8 576.7,418.7 578.3,417.6 C579.9,416.5 580.1,413.1 581.7,409.6 C583.3,406.2 583.8,404.6 585.1,402.8 C586.4,400.9 586.3,400.8 587.4,401.6 C588.4,402.4 588.3,404.1 589.7,406.2 C591.0,408.3 591.8,407.6 593.1,410.8 C594.4,414.0 594.3,416.4 595.4,419.9 C596.4,423.3 596.6,423.2 597.7,425.6 C598.7,428.0 599.4,429.1 599.9,430.2" fill="none" stroke="#e3211c" stroke-width="1.6" stroke-linejoin="round" stroke-dasharray="2 1.1" stroke-linecap="butt"/>
<line x1="314.00" y1="419.80" x2="603.50" y2="419.80" stroke="#000" stroke-width="1.3"/>
<line x1="312.85" y1="420.00" x2="602.60" y2="420.00" stroke="#000" stroke-width="2.2" stroke-dasharray="1.1 1.305"/>
<line x1="312.80" y1="420.70" x2="602.70" y2="420.70" stroke="#000" stroke-width="2.9000000000000004" stroke-dasharray="1.2 8.420"/>
<text x="323.02" y="428.80" font-size="5.6" text-anchor="middle" font-weight="bold" fill="#222">1</text>
<text x="332.64" y="428.80" font-size="5.6" text-anchor="middle" font-weight="bold" fill="#222">2</text>
<text x="342.26" y="428.80" font-size="5.6" text-anchor="middle" font-weight="bold" fill="#222">3</text>
<text x="351.88" y="428.80" font-size="5.6" text-anchor="middle" font-weight="bold" fill="#222">4</text>
<text x="361.50" y="428.80" font-size="5.6" text-anchor="middle" font-weight="bold" fill="#222">5</text>
<text x="371.12" y="428.80" font-size="5.6" text-anchor="middle" font-weight="bold" fill="#222">6</text>
<text x="380.74" y="428.80" font-size="5.6" text-anchor="middle" font-weight="bold" fill="#222">7</text>
<text x="390.36" y="428.80" font-size="5.6" text-anchor="middle" font-weight="bold" fill="#222">8</text>
<text x="399.98" y="428.80" font-size="5.6" text-anchor="middle" font-weight="bold" fill="#222">9</text>
<text x="409.60" y="428.80" font-size="5.6" text-anchor="middle" font-weight="bold" fill="#222">10</text>
<text x="419.22" y="428.80" font-size="5.6" text-anchor="middle" font-weight="bold" fill="#222">11</text>
<text x="428.84" y="428.80" font-size="5.6" text-anchor="middle" font-weight="bold" fill="#222">12</text>
<text x="438.46" y="428.80" font-size="5.6" text-anchor="middle" font-weight="bold" fill="#222">13</text>
<text x="448.08" y="428.80" font-size="5.6" text-anchor="middle" font-weight="bold" fill="#222">14</text>
<text x="457.70" y="428.80" font-size="5.6" text-anchor="middle" font-weight="bold" fill="#222">15</text>
<text x="467.32" y="428.80" font-size="5.6" text-anchor="middle" font-weight="bold" fill="#222">16</text>
<text x="476.94" y="428.80" font-size="5.6" text-anchor="middle" font-weight="bold" fill="#222">17</text>
<text x="486.56" y="428.80" font-size="5.6" text-anchor="middle" font-weight="bold" fill="#222">18</text>
<text x="496.18" y="428.80" font-size="5.6" text-anchor="middle" font-weight="bold" fill="#222">19</text>
<text x="505.80" y="428.80" font-size="5.6" text-anchor="middle" font-weight="bold" fill="#222">20</text>
<text x="515.42" y="428.80" font-size="5.6" text-anchor="middle" font-weight="bold" fill="#222">21</text>
<text x="525.04" y="428.80" font-size="5.6" text-anchor="middle" font-weight="bold" fill="#222">22</text>
<text x="534.66" y="428.80" font-size="5.6" text-anchor="middle" font-weight="bold" fill="#222">23</text>
<text x="544.28" y="428.80" font-size="5.6" text-anchor="middle" font-weight="bold" fill="#222">24</text>
<text x="553.90" y="428.80" font-size="5.6" text-anchor="middle" font-weight="bold" fill="#222">25</text>
<text x="563.52" y="428.80" font-size="5.6" text-anchor="middle" font-weight="bold" fill="#222">26</text>
<text x="573.14" y="428.80" font-size="5.6" text-anchor="middle" font-weight="bold" fill="#222">27</text>
<text x="582.76" y="428.80" font-size="5.6" text-anchor="middle" font-weight="bold" fill="#222">28</text>
<text x="592.38" y="428.80" font-size="5.6" text-anchor="middle" font-weight="bold" fill="#222">29</text>
<text x="602.00" y="428.80" font-size="5.6" text-anchor="middle" font-weight="bold" fill="#222">30</text>
<text x="340.60" y="480.80" font-size="8.15" stroke="#000" stroke-width="0.22">Distance from bead center (µm)</text>
<line x1="335.30" y1="485.80" x2="461.50" y2="485.80" stroke="#000" stroke-width="1.6"/>
<path d="M465.50,485.80 l-6.5,-3 v6 z" fill="#000"/>
<line x1="561.30" y1="447.20" x2="577.30" y2="447.20" stroke="#8c8c8c" stroke-width="1.5"/>
<text x="581.40" y="450.00" font-size="8.1" stroke="#000" stroke-width="0.22">uncoated</text>
<line x1="561.30" y1="458.40" x2="577.30" y2="458.40" stroke="#f2c53d" stroke-width="1.5"/>
<text x="581.40" y="461.20" font-size="8.1" stroke="#000" stroke-width="0.22">uncoated + emetin</text>
<line x1="561.30" y1="469.60" x2="577.30" y2="469.60" stroke="#000" stroke-width="2.2"/>
<text x="581.40" y="472.40" font-size="8.1" stroke="#000" stroke-width="0.22">PDL</text>
<line x1="561.30" y1="480.40" x2="577.30" y2="480.40" stroke="#e3211c" stroke-width="1.6" stroke-dasharray="1.8 1"/>
<text x="581.40" y="483.20" font-size="8.1" stroke="#000" stroke-width="0.22">PDL + emetine</text>
<line x1="513.85" y1="314.10" x2="513.85" y2="308.70" stroke="#000" stroke-width="1.3"/>
<line x1="511.15" y1="308.70" x2="516.55" y2="308.70" stroke="#000" stroke-width="1.4"/>
<rect x="509.00" y="314.10" width="9.70" height="22.80" fill="#8c8c8c" stroke="#000" stroke-width="1.1"/>
<line x1="513.85" y1="336.90" x2="513.85" y2="340.30" stroke="#000" stroke-width="1.3"/>
<line x1="528.20" y1="304.40" x2="528.20" y2="299.00" stroke="#000" stroke-width="1.3"/>
<line x1="525.50" y1="299.00" x2="530.90" y2="299.00" stroke="#000" stroke-width="1.4"/>
<rect x="523.40" y="304.40" width="9.60" height="32.50" fill="#f2c53d" stroke="#000" stroke-width="1.1"/>
<line x1="528.20" y1="336.90" x2="528.20" y2="340.30" stroke="#000" stroke-width="1.3"/>
<line x1="541.85" y1="269.70" x2="541.85" y2="263.30" stroke="#000" stroke-width="1.3"/>
<line x1="539.15" y1="263.30" x2="544.55" y2="263.30" stroke="#000" stroke-width="1.4"/>
<rect x="537.00" y="269.70" width="9.70" height="67.20" fill="#000" stroke="#000" stroke-width="1.1"/>
<line x1="541.85" y1="336.90" x2="541.85" y2="340.30" stroke="#000" stroke-width="1.3"/>
<line x1="555.75" y1="301.60" x2="555.75" y2="297.30" stroke="#000" stroke-width="1.3"/>
<line x1="553.05" y1="297.30" x2="558.45" y2="297.30" stroke="#000" stroke-width="1.4"/>
<rect x="551.00" y="301.60" width="9.50" height="35.30" fill="#e3211c" stroke="#000" stroke-width="1.1"/>
<line x1="555.75" y1="336.90" x2="555.75" y2="340.30" stroke="#000" stroke-width="1.3"/>
<line x1="508.00" y1="250.90" x2="508.00" y2="337.60" stroke="#000" stroke-width="1.7"/>
<line x1="507.30" y1="336.90" x2="562.00" y2="336.90" stroke="#000" stroke-width="1.7"/>
<line x1="504.20" y1="251.80" x2="508.00" y2="251.80" stroke="#000" stroke-width="1.2"/>
<text x="503.70" y="253.67" font-size="5.2" text-anchor="end" stroke="#000" stroke-width="0.14">4000</text>
<line x1="504.20" y1="273.00" x2="508.00" y2="273.00" stroke="#000" stroke-width="1.2"/>
<text x="503.70" y="274.87" font-size="5.2" text-anchor="end" stroke="#000" stroke-width="0.14">3000</text>
<line x1="504.20" y1="294.30" x2="508.00" y2="294.30" stroke="#000" stroke-width="1.2"/>
<text x="503.70" y="296.17" font-size="5.2" text-anchor="end" stroke="#000" stroke-width="0.14">2000</text>
<line x1="504.20" y1="315.60" x2="508.00" y2="315.60" stroke="#000" stroke-width="1.2"/>
<text x="503.70" y="317.47" font-size="5.2" text-anchor="end" stroke="#000" stroke-width="0.14">1000</text>
<line x1="504.20" y1="336.90" x2="508.00" y2="336.90" stroke="#000" stroke-width="1.2"/>
<text x="503.70" y="338.77" font-size="5.2" text-anchor="end" stroke="#000" stroke-width="0.14">0</text>
<text x="488.00" y="299.00" font-size="10.6" text-anchor="middle" stroke="#000" stroke-width="0.28" transform="rotate(-90 488.00 299.00)">AUC 0-5 µm</text>
<text x="514.65" y="345.00" font-size="8.9" text-anchor="end" stroke="#000" stroke-width="0.22" transform="rotate(-45 514.65 345.00)">uncoated</text>
<text x="531.90" y="345.00" font-size="8.9" text-anchor="end" stroke="#000" stroke-width="0.22" transform="rotate(-45 531.90 345.00)">uncoated + emetine</text>
<text x="546.45" y="345.00" font-size="8.9" text-anchor="end" stroke="#000" stroke-width="0.22" transform="rotate(-45 546.45 345.00)">PDL</text>
<text x="562.35" y="345.00" font-size="8.9" text-anchor="end" stroke="#000" stroke-width="0.22" transform="rotate(-45 562.35 345.00)">PDL + emetine</text>
<path d="M514.40,307.00 V247.90 H539.80 V262.00" fill="none" stroke="#000" stroke-width="1.4"/>
<text x="527.10" y="249.40" font-size="10" text-anchor="middle" stroke="#000" stroke-width="0.28">***</text>
<path d="M528.00,297.50 V257.20 H538.60 V262.00" fill="none" stroke="#000" stroke-width="1.4"/>
<text x="533.30" y="258.70" font-size="10" text-anchor="middle" stroke="#000" stroke-width="0.28">**</text>
<path d="M543.80,262.00 V256.30 H556.30 V296.00" fill="none" stroke="#000" stroke-width="1.4"/>
<text x="550.05" y="257.80" font-size="10" text-anchor="middle" stroke="#000" stroke-width="0.28">***</text>
<line x1="612.35" y1="288.30" x2="612.35" y2="277.60" stroke="#000" stroke-width="1.3"/>
<line x1="609.65" y1="277.60" x2="615.05" y2="277.60" stroke="#000" stroke-width="1.4"/>
<rect x="607.50" y="288.30" width="9.70" height="49.10" fill="#8c8c8c" stroke="#000" stroke-width="1.1"/>
<line x1="612.35" y1="337.40" x2="612.35" y2="340.80" stroke="#000" stroke-width="1.3"/>
<line x1="625.95" y1="275.80" x2="625.95" y2="265.80" stroke="#000" stroke-width="1.3"/>
<line x1="623.25" y1="265.80" x2="628.65" y2="265.80" stroke="#000" stroke-width="1.4"/>
<rect x="621.10" y="275.80" width="9.70" height="61.60" fill="#f2c53d" stroke="#000" stroke-width="1.1"/>
<line x1="625.95" y1="337.40" x2="625.95" y2="340.80" stroke="#000" stroke-width="1.3"/>
<line x1="639.80" y1="272.90" x2="639.80" y2="266.90" stroke="#000" stroke-width="1.3"/>
<line x1="637.10" y1="266.90" x2="642.50" y2="266.90" stroke="#000" stroke-width="1.4"/>
<rect x="635.00" y="272.90" width="9.60" height="64.50" fill="#000" stroke="#000" stroke-width="1.1"/>
<line x1="639.80" y1="337.40" x2="639.80" y2="340.80" stroke="#000" stroke-width="1.3"/>
<line x1="653.55" y1="286.50" x2="653.55" y2="279.40" stroke="#000" stroke-width="1.3"/>
<line x1="650.85" y1="279.40" x2="656.25" y2="279.40" stroke="#000" stroke-width="1.4"/>
<rect x="648.70" y="286.50" width="9.70" height="50.90" fill="#e3211c" stroke="#000" stroke-width="1.1"/>
<line x1="653.55" y1="337.40" x2="653.55" y2="340.80" stroke="#000" stroke-width="1.3"/>
<line x1="605.50" y1="253.90" x2="605.50" y2="338.10" stroke="#000" stroke-width="1.7"/>
<line x1="604.80" y1="337.40" x2="661.50" y2="337.40" stroke="#000" stroke-width="1.7"/>
<line x1="601.70" y1="255.00" x2="605.50" y2="255.00" stroke="#000" stroke-width="1.2"/>
<text x="601.20" y="256.87" font-size="5.2" text-anchor="end" stroke="#000" stroke-width="0.14">6000</text>
<line x1="601.70" y1="282.40" x2="605.50" y2="282.40" stroke="#000" stroke-width="1.2"/>
<text x="601.20" y="284.27" font-size="5.2" text-anchor="end" stroke="#000" stroke-width="0.14">4000</text>
<line x1="601.70" y1="309.90" x2="605.50" y2="309.90" stroke="#000" stroke-width="1.2"/>
<text x="601.20" y="311.77" font-size="5.2" text-anchor="end" stroke="#000" stroke-width="0.14">2000</text>
<line x1="601.70" y1="337.40" x2="605.50" y2="337.40" stroke="#000" stroke-width="1.2"/>
<text x="601.20" y="339.27" font-size="5.2" text-anchor="end" stroke="#000" stroke-width="0.14">0</text>
<text x="583.70" y="299.00" font-size="10.6" text-anchor="middle" stroke="#000" stroke-width="0.28" transform="rotate(-90 583.70 299.00)">AUC 5-15 µm</text>
<text x="613.15" y="345.50" font-size="8.9" text-anchor="end" stroke="#000" stroke-width="0.22" transform="rotate(-45 613.15 345.50)">uncoated</text>
<text x="629.65" y="345.50" font-size="8.9" text-anchor="end" stroke="#000" stroke-width="0.22" transform="rotate(-45 629.65 345.50)">uncoated + emetine</text>
<text x="644.40" y="345.50" font-size="8.9" text-anchor="end" stroke="#000" stroke-width="0.22" transform="rotate(-45 644.40 345.50)">PDL</text>
<text x="660.15" y="345.50" font-size="8.9" text-anchor="end" stroke="#000" stroke-width="0.22" transform="rotate(-45 660.15 345.50)">PDL + emetine</text>
<text x="634.40" y="254.50" font-size="8.6" text-anchor="middle" stroke="#000" stroke-width="0.22">n.s.</text>
<line x1="612.90" y1="257.90" x2="655.90" y2="257.90" stroke="#000" stroke-width="1.5"/>
<text x="302.60" y="546.60" font-size="13.5" text-anchor="middle" stroke="#000" stroke-width="0.28">tau 1 h</text>
<line x1="223.40" y1="562.10" x2="257.60" y2="562.10" stroke="#dcdcdc" stroke-width="0.7"/>
<text x="239.30" y="557.60" font-size="5.4" text-anchor="middle" fill="#808080" stroke="#808080" stroke-width="0.14">0-5 µm</text>
<line x1="261.20" y1="552.00" x2="261.20" y2="680.00" stroke="#808080" stroke-width="0.65" stroke-dasharray="2.1 1.7"/>
<line x1="218.40" y1="541.00" x2="218.40" y2="724.50" stroke="#000" stroke-width="1.5"/>
<line x1="215.90" y1="541.50" x2="218.40" y2="541.50" stroke="#000" stroke-width="0.8"/>
<text x="214.60" y="543.30" font-size="5" text-anchor="end" stroke="#000" stroke-width="0.14">1000</text>
<line x1="215.90" y1="564.30" x2="218.40" y2="564.30" stroke="#000" stroke-width="0.8"/>
<text x="214.60" y="566.10" font-size="5" text-anchor="end" stroke="#000" stroke-width="0.14">800</text>
<line x1="215.90" y1="587.10" x2="218.40" y2="587.10" stroke="#000" stroke-width="0.8"/>
<text x="214.60" y="588.90" font-size="5" text-anchor="end" stroke="#000" stroke-width="0.14">600</text>
<line x1="215.90" y1="609.90" x2="218.40" y2="609.90" stroke="#000" stroke-width="0.8"/>
<text x="214.60" y="611.70" font-size="5" text-anchor="end" stroke="#000" stroke-width="0.14">400</text>
<line x1="215.90" y1="632.30" x2="218.40" y2="632.30" stroke="#000" stroke-width="0.8"/>
<text x="214.60" y="634.10" font-size="5" text-anchor="end" stroke="#000" stroke-width="0.14">200</text>
<line x1="215.90" y1="655.10" x2="218.40" y2="655.10" stroke="#000" stroke-width="0.8"/>
<text x="214.60" y="656.90" font-size="5" text-anchor="end" stroke="#000" stroke-width="0.14">0</text>
<line x1="215.90" y1="678.00" x2="218.40" y2="678.00" stroke="#000" stroke-width="0.8"/>
<text x="214.60" y="679.80" font-size="5" text-anchor="end" stroke="#000" stroke-width="0.14">-200</text>
<line x1="215.90" y1="700.80" x2="218.40" y2="700.80" stroke="#000" stroke-width="0.8"/>
<text x="214.60" y="702.60" font-size="5" text-anchor="end" stroke="#000" stroke-width="0.14">-400</text>
<line x1="215.90" y1="723.60" x2="218.40" y2="723.60" stroke="#000" stroke-width="0.8"/>
<text x="214.60" y="725.40" font-size="5" text-anchor="end" stroke="#000" stroke-width="0.14">-600</text>
<text x="193.00" y="627.50" font-size="10.6" text-anchor="middle" stroke="#000" stroke-width="0.28" transform="rotate(-90 193.00 627.50)">f (a.u. normalized to last 15 µm)</text>
<path d="M220.0,723.8 C220.7,721.0 221.6,718.4 223.0,711.8 C224.4,705.3 224.6,704.3 226.0,695.9 C227.4,687.5 227.8,684.3 229.0,675.9 C230.1,667.5 230.0,667.4 231.0,659.9 C231.9,652.5 232.0,649.1 233.0,643.9 C233.9,638.8 233.8,639.8 235.0,637.9 C236.1,636.1 236.6,637.8 238.0,635.9 C239.4,634.1 239.7,631.9 241.0,630.0 C242.3,628.0 242.4,627.1 243.6,627.6 C244.7,628.0 244.9,630.2 245.9,632.0 C247.0,633.7 246.8,633.8 247.9,635.0 C249.1,636.1 249.5,636.2 250.9,636.9 C252.3,637.6 252.5,637.9 253.9,637.9 C255.3,637.9 255.5,636.0 256.9,636.9 C258.3,637.9 258.8,640.1 259.9,641.9 C261.1,643.8 260.8,644.5 261.9,644.9 C263.1,645.4 263.5,643.9 264.9,643.9 C266.3,643.9 266.5,645.9 267.9,644.9 C269.3,644.0 269.6,641.2 270.9,639.9 C272.2,638.7 272.3,638.6 273.5,639.5 C274.7,640.5 274.6,642.0 275.9,643.9 C277.2,645.9 277.5,647.5 278.9,647.9 C280.3,648.4 280.5,646.3 281.9,645.9 C283.3,645.6 283.5,645.4 284.9,646.3 C286.3,647.3 286.5,648.5 287.9,649.9 C289.3,651.3 289.5,651.4 290.9,652.3 C292.3,653.3 292.5,653.6 293.9,653.9 C295.3,654.2 295.5,653.9 296.9,653.5 C298.3,653.2 298.5,653.4 299.9,652.3 C301.3,651.3 301.5,649.5 302.9,648.9 C304.3,648.4 304.5,648.9 305.9,649.9 C307.3,651.0 307.5,653.1 308.9,653.5 C310.3,654.0 310.5,652.8 311.9,651.9 C313.3,651.1 313.5,650.2 314.9,649.9 C316.2,649.7 316.4,651.6 317.8,650.9 C319.2,650.2 319.4,648.5 320.8,646.9 C322.2,645.4 322.4,645.3 323.8,644.3 C325.2,643.4 325.4,642.8 326.8,642.9 C328.2,643.1 328.4,645.6 329.8,644.9 C331.2,644.2 331.4,641.5 332.8,639.9 C334.2,638.4 334.4,637.6 335.8,638.3 C337.2,639.0 337.8,642.0 338.8,642.9 C339.8,643.8 338.9,642.1 340.0,642.2 C341.1,642.3 341.8,642.0 343.4,643.4 C345.0,644.7 345.2,646.1 346.8,647.9 C348.4,649.8 348.7,649.8 350.3,651.4 C351.9,653.0 352.1,653.2 353.7,654.8 C355.3,656.4 355.5,656.6 357.1,658.2 C358.7,659.8 358.9,661.9 360.5,661.6 C362.1,661.4 362.4,657.9 364.0,657.1 C365.6,656.3 365.8,658.5 367.4,658.2 C369.0,657.9 369.2,656.7 370.8,655.9 C372.4,655.1 372.6,654.5 374.2,654.8 C375.8,655.0 376.1,656.0 377.7,657.1 C379.3,658.1 379.5,659.3 381.1,659.3 C382.7,659.3 382.9,656.8 384.5,657.1 C386.1,657.3 386.3,659.4 387.9,660.5 C389.5,661.6 389.8,661.6 391.4,661.6 C393.0,661.6 393.2,660.5 394.8,660.5 C396.4,660.5 396.6,662.7 398.2,661.6 C399.8,660.6 400.0,657.5 401.6,655.9 C403.2,654.3 403.5,654.2 405.0,654.8 C406.6,655.3 406.9,656.6 408.5,658.2 C410.1,659.8 410.3,661.1 411.9,661.6 C413.5,662.2 413.7,660.2 415.3,660.5 C416.9,660.8 417.1,662.8 418.7,662.8 C420.3,662.8 420.6,661.3 422.2,660.5 C423.8,659.7 424.0,660.1 425.6,659.3 C427.2,658.5 427.4,658.1 429.0,657.1 C430.6,656.0 430.8,656.1 432.4,654.8 C434.0,653.4 434.5,653.5 435.9,651.4 C437.2,649.2 437.1,647.8 438.1,645.6 C439.2,643.5 439.1,642.0 440.4,642.2 C441.8,642.5 442.3,645.2 443.9,646.8 C445.4,648.4 445.7,648.8 447.3,649.1 C448.9,649.3 449.1,647.7 450.7,647.9 C452.3,648.2 452.5,650.2 454.1,650.2 C455.7,650.2 455.9,649.0 457.5,647.9 C459.1,646.9 459.4,646.7 461.0,645.6 C462.6,644.6 462.8,643.1 464.4,643.4 C466.0,643.6 466.2,645.5 467.8,646.8 C469.4,648.1 469.5,648.3 471.2,649.1 C472.9,649.9 474.2,649.9 475.1,650.2" fill="none" stroke="#000" stroke-width="2.1" stroke-linejoin="round" stroke-linecap="round"/>
<path d="M218.4,711.8 C219.0,709.0 219.9,699.9 221.0,699.9 C222.1,699.9 221.8,714.2 223.0,711.8 C224.1,709.5 224.6,700.1 226.0,689.9 C227.4,679.6 227.7,676.3 229.0,667.9 C230.3,659.5 230.4,658.6 231.6,653.9 C232.7,649.3 232.7,649.6 234.0,647.9 C235.2,646.3 235.6,648.8 237.0,646.9 C238.4,645.1 238.6,644.6 240.0,639.9 C241.4,635.3 241.6,628.6 243.0,627.0 C244.3,625.3 244.4,630.6 245.5,633.0 C246.7,635.3 246.7,635.5 247.9,636.9 C249.2,638.3 249.8,636.8 250.9,638.9 C252.1,641.0 252.0,642.9 252.9,645.9 C253.9,649.0 254.0,648.7 254.9,651.9 C255.9,655.2 256.0,659.0 256.9,659.9 C257.9,660.8 258.0,658.7 258.9,655.9 C259.9,653.1 259.8,651.2 260.9,647.9 C262.1,644.7 262.5,641.9 263.9,641.9 C265.3,641.9 265.8,647.2 266.9,647.9 C268.1,648.6 267.8,644.0 268.9,644.9 C270.1,645.9 270.5,648.9 271.9,651.9 C273.3,655.0 273.5,657.9 274.9,657.9 C276.3,657.9 276.7,654.5 277.9,651.9 C279.1,649.4 278.7,646.9 279.9,646.9 C281.1,646.9 281.5,650.5 282.9,651.9 C284.3,653.3 284.5,654.1 285.9,652.9 C287.3,651.8 287.7,648.7 288.9,646.9 C290.1,645.2 290.0,643.9 290.9,645.5 C291.8,647.2 291.8,650.6 292.9,653.9 C294.0,657.3 294.3,659.4 295.5,659.9 C296.6,660.4 296.6,658.3 297.9,655.9 C299.1,653.6 299.5,651.8 300.9,649.9 C302.3,648.1 302.7,649.8 303.9,647.9 C305.0,646.1 304.9,644.3 305.9,641.9 C306.8,639.6 306.9,636.1 307.9,637.9 C308.8,639.8 308.7,645.5 309.9,649.9 C311.0,654.4 311.5,656.5 312.9,656.9 C314.3,657.4 314.5,655.2 315.8,651.9 C317.2,648.7 317.7,645.7 318.8,642.9 C320.0,640.1 319.7,639.5 320.8,639.9 C322.0,640.4 322.7,641.7 323.8,644.9 C325.0,648.2 324.7,651.1 325.8,653.9 C327.0,656.7 327.4,657.9 328.8,656.9 C330.2,656.0 330.7,653.2 331.8,649.9 C333.0,646.7 332.7,644.3 333.8,642.9 C335.0,641.5 335.7,642.3 336.8,643.9 C338.0,645.6 338.1,648.5 338.8,649.9 C339.6,651.4 338.9,649.6 340.0,650.2 C341.1,650.8 341.8,651.7 343.4,652.5 C345.0,653.3 345.2,653.1 346.8,653.6 C348.4,654.2 348.7,654.8 350.3,654.8 C351.9,654.8 352.1,655.8 353.7,653.6 C355.3,651.5 355.6,649.6 357.1,645.6 C358.6,641.7 359.0,638.9 360.1,636.5 C361.2,634.1 360.8,634.0 361.7,635.4 C362.6,636.7 362.9,640.4 364.0,642.2 C365.0,644.1 365.2,644.4 366.2,643.4 C367.3,642.3 367.5,638.5 368.5,637.7 C369.6,636.9 369.7,637.5 370.8,639.9 C371.9,642.3 371.8,644.7 373.1,647.9 C374.4,651.1 374.9,652.0 376.5,653.6 C378.1,655.2 378.3,655.6 379.9,654.8 C381.5,654.0 381.9,652.9 383.4,650.2 C384.9,647.6 385.0,643.6 386.3,643.4 C387.7,643.1 387.6,646.9 389.1,649.1 C390.5,651.2 390.9,650.9 392.5,652.5 C394.1,654.1 394.3,655.4 395.9,655.9 C397.5,656.5 397.7,655.3 399.3,654.8 C400.9,654.2 401.2,652.6 402.8,653.6 C404.4,654.7 404.6,655.9 406.2,659.3 C407.8,662.8 408.3,665.5 409.6,668.5 C410.9,671.4 410.8,672.2 411.9,671.9 C413.0,671.6 412.8,669.7 414.2,667.3 C415.5,664.9 416.0,663.5 417.6,661.6 C419.2,659.8 419.4,658.8 421.0,659.3 C422.6,659.9 423.1,662.0 424.5,663.9 C425.8,665.8 425.7,667.9 426.7,667.3 C427.8,666.8 428.0,665.1 429.0,661.6 C430.1,658.2 430.2,657.8 431.3,652.5 C432.4,647.2 432.6,643.3 433.6,638.8 C434.5,634.3 434.4,632.8 435.4,633.1 C436.4,633.4 436.5,639.1 437.7,639.9 C438.9,640.7 439.3,638.1 440.4,636.5 C441.6,634.9 441.6,633.4 442.7,633.1 C443.8,632.8 443.9,633.5 445.0,635.4 C446.1,637.2 446.2,640.0 447.3,641.1 C448.3,642.1 448.5,638.1 449.6,639.9 C450.6,641.8 450.8,646.1 451.8,649.1 C452.9,652.0 453.1,649.0 454.1,652.5 C455.2,656.0 455.3,658.1 456.4,663.9 C457.5,669.8 457.6,673.9 458.7,677.6 C459.8,681.3 459.6,680.2 461.0,679.9 C462.3,679.6 463.1,677.8 464.4,676.5 C465.7,675.1 465.3,673.6 466.7,674.2 C468.0,674.7 468.8,677.5 470.1,678.7 C471.4,680.0 471.2,680.0 472.4,679.4 C473.6,678.9 474.5,677.2 475.1,676.5" fill="none" stroke="#8c8c8c" stroke-width="1.5" stroke-linejoin="round" stroke-linecap="round"/>
<line x1="218.40" y1="655.00" x2="477.20" y2="655.00" stroke="#000" stroke-width="1.2"/>
<line x1="217.45" y1="655.20" x2="476.30" y2="655.20" stroke="#000" stroke-width="1.9" stroke-dasharray="1.1 1.047"/>
<line x1="217.40" y1="655.90" x2="476.40" y2="655.90" stroke="#000" stroke-width="2.5999999999999996" stroke-dasharray="1.2 7.390"/>
<text x="218.00" y="663.80" font-size="5.6" text-anchor="middle" font-weight="bold" fill="#333">0</text>
<text x="226.59" y="663.80" font-size="5.6" text-anchor="middle" font-weight="bold" fill="#333">1</text>
<text x="235.18" y="663.80" font-size="5.6" text-anchor="middle" font-weight="bold" fill="#333">2</text>
<text x="243.77" y="663.80" font-size="5.6" text-anchor="middle" font-weight="bold" fill="#333">3</text>
<text x="252.36" y="663.80" font-size="5.6" text-anchor="middle" font-weight="bold" fill="#333">4</text>
<text x="260.95" y="663.80" font-size="5.6" text-anchor="middle" font-weight="bold" fill="#333">5</text>
<text x="269.54" y="663.80" font-size="5.6" text-anchor="middle" font-weight="bold" fill="#333">6</text>
<text x="278.13" y="663.80" font-size="5.6" text-anchor="middle" font-weight="bold" fill="#333">7</text>
<text x="286.72" y="663.80" font-size="5.6" text-anchor="middle" font-weight="bold" fill="#333">8</text>
<text x="295.31" y="663.80" font-size="5.6" text-anchor="middle" font-weight="bold" fill="#333">9</text>
<text x="303.90" y="663.80" font-size="5.6" text-anchor="middle" font-weight="bold" fill="#333">10</text>
<text x="312.49" y="663.80" font-size="5.6" text-anchor="middle" font-weight="bold" fill="#333">11</text>
<text x="321.08" y="663.80" font-size="5.6" text-anchor="middle" font-weight="bold" fill="#333">12</text>
<text x="329.67" y="663.80" font-size="5.6" text-anchor="middle" font-weight="bold" fill="#333">13</text>
<text x="338.26" y="663.80" font-size="5.6" text-anchor="middle" font-weight="bold" fill="#333">14</text>
<text x="346.85" y="663.80" font-size="5.6" text-anchor="middle" font-weight="bold" fill="#333">15</text>
<text x="355.44" y="663.80" font-size="5.6" text-anchor="middle" font-weight="bold" fill="#333">16</text>
<text x="364.03" y="663.80" font-size="5.6" text-anchor="middle" font-weight="bold" fill="#333">17</text>
<text x="372.62" y="663.80" font-size="5.6" text-anchor="middle" font-weight="bold" fill="#333">18</text>
<text x="381.21" y="663.80" font-size="5.6" text-anchor="middle" font-weight="bold" fill="#333">19</text>
<text x="389.80" y="663.80" font-size="5.6" text-anchor="middle" font-weight="bold" fill="#333">20</text>
<text x="398.39" y="663.80" font-size="5.6" text-anchor="middle" font-weight="bold" fill="#333">21</text>
<text x="406.98" y="663.80" font-size="5.6" text-anchor="middle" font-weight="bold" fill="#333">22</text>
<text x="415.57" y="663.80" font-size="5.6" text-anchor="middle" font-weight="bold" fill="#333">23</text>
<text x="424.16" y="663.80" font-size="5.6" text-anchor="middle" font-weight="bold" fill="#333">24</text>
<text x="432.75" y="663.80" font-size="5.6" text-anchor="middle" font-weight="bold" fill="#333">25</text>
<text x="441.34" y="663.80" font-size="5.6" text-anchor="middle" font-weight="bold" fill="#333">26</text>
<text x="449.93" y="663.80" font-size="5.6" text-anchor="middle" font-weight="bold" fill="#333">27</text>
<text x="458.52" y="663.80" font-size="5.6" text-anchor="middle" font-weight="bold" fill="#333">28</text>
<text x="467.11" y="663.80" font-size="5.6" text-anchor="middle" font-weight="bold" fill="#333">29</text>
<text x="475.70" y="663.80" font-size="5.6" text-anchor="middle" font-weight="bold" fill="#333">30</text>
<text x="243.90" y="698.20" font-size="7" stroke="#000" stroke-width="0.22">Distance from bead center (µm)</text>
<line x1="234.80" y1="705.00" x2="348.00" y2="705.00" stroke="#000" stroke-width="1.6"/>
<path d="M352.00,705.00 l-6.5,-3 v6 z" fill="#000"/>
<line x1="449.40" y1="687.60" x2="463.30" y2="687.60" stroke="#8c8c8c" stroke-width="1.5"/>
<text x="464.60" y="689.60" font-size="5.7" stroke="#000" stroke-width="0.14">uncoated</text>
<line x1="449.40" y1="697.20" x2="463.30" y2="697.20" stroke="#000" stroke-width="2.1"/>
<text x="464.60" y="699.20" font-size="5.7" stroke="#000" stroke-width="0.14">PDL</text>
<line x1="407.90" y1="564.70" x2="407.90" y2="552.00" stroke="#000" stroke-width="1.3"/>
<line x1="405.20" y1="552.00" x2="410.60" y2="552.00" stroke="#000" stroke-width="1.4"/>
<rect x="399.20" y="564.70" width="17.40" height="50.20" fill="#8c8c8c" stroke="#000" stroke-width="1.1"/>
<line x1="407.90" y1="614.90" x2="407.90" y2="618.30" stroke="#000" stroke-width="1.3"/>
<line x1="434.00" y1="559.70" x2="434.00" y2="552.40" stroke="#000" stroke-width="1.3"/>
<line x1="431.30" y1="552.40" x2="436.70" y2="552.40" stroke="#000" stroke-width="1.4"/>
<rect x="424.80" y="559.70" width="18.40" height="55.20" fill="#000" stroke="#000" stroke-width="1.1"/>
<line x1="434.00" y1="614.90" x2="434.00" y2="618.30" stroke="#000" stroke-width="1.3"/>
<line x1="395.20" y1="535.00" x2="395.20" y2="615.60" stroke="#000" stroke-width="1.7"/>
<line x1="394.50" y1="614.90" x2="447.40" y2="614.90" stroke="#000" stroke-width="1.7"/>
<line x1="391.40" y1="536.10" x2="395.20" y2="536.10" stroke="#000" stroke-width="1.2"/>
<text x="390.90" y="537.94" font-size="5.1" text-anchor="end" stroke="#000" stroke-width="0.14">1500</text>
<line x1="391.40" y1="562.40" x2="395.20" y2="562.40" stroke="#000" stroke-width="1.2"/>
<text x="390.90" y="564.24" font-size="5.1" text-anchor="end" stroke="#000" stroke-width="0.14">1000</text>
<line x1="391.40" y1="588.60" x2="395.20" y2="588.60" stroke="#000" stroke-width="1.2"/>
<text x="390.90" y="590.44" font-size="5.1" text-anchor="end" stroke="#000" stroke-width="0.14">500</text>
<line x1="391.40" y1="614.90" x2="395.20" y2="614.90" stroke="#000" stroke-width="1.2"/>
<text x="390.90" y="616.74" font-size="5.1" text-anchor="end" stroke="#000" stroke-width="0.14">0</text>
<text x="375.70" y="580.20" font-size="10" text-anchor="middle" stroke="#000" stroke-width="0.28" transform="rotate(-90 375.70 580.20)">AUC 0-5 µm</text>
<text x="416.30" y="620.80" font-size="8.1" text-anchor="end" stroke="#000" stroke-width="0.22" transform="rotate(-45 416.30 620.80)">uncoated</text>
<text x="437.60" y="620.80" font-size="8.1" text-anchor="end" stroke="#000" stroke-width="0.22" transform="rotate(-45 437.60 620.80)">PDL</text>
<text x="422.60" y="541.30" font-size="7.6" text-anchor="middle" stroke="#000" stroke-width="0.22">n.s.</text>
<line x1="407.20" y1="544.70" x2="434.60" y2="544.70" stroke="#000" stroke-width="1.5"/>
<text x="308.90" y="745.20" font-size="14.1" text-anchor="middle" stroke="#000" stroke-width="0.28">β-III tubulin 1 h</text>
<line x1="225.60" y1="778.10" x2="253.00" y2="778.10" stroke="#dcdcdc" stroke-width="0.7"/>
<text x="237.00" y="774.80" font-size="5.4" text-anchor="middle" fill="#808080" stroke="#808080" stroke-width="0.14">0-5 µm</text>
<line x1="257.20" y1="770.00" x2="257.20" y2="896.00" stroke="#808080" stroke-width="0.65" stroke-dasharray="2.1 1.7"/>
<line x1="214.60" y1="756.00" x2="214.60" y2="938.50" stroke="#000" stroke-width="1.5"/>
<line x1="212.10" y1="757.40" x2="214.60" y2="757.40" stroke="#000" stroke-width="0.8"/>
<text x="210.40" y="759.20" font-size="5" text-anchor="end" stroke="#000" stroke-width="0.14">1000</text>
<line x1="212.10" y1="779.80" x2="214.60" y2="779.80" stroke="#000" stroke-width="0.8"/>
<text x="210.40" y="781.60" font-size="5" text-anchor="end" stroke="#000" stroke-width="0.14">800</text>
<line x1="212.10" y1="802.30" x2="214.60" y2="802.30" stroke="#000" stroke-width="0.8"/>
<text x="210.40" y="804.10" font-size="5" text-anchor="end" stroke="#000" stroke-width="0.14">600</text>
<line x1="212.10" y1="824.70" x2="214.60" y2="824.70" stroke="#000" stroke-width="0.8"/>
<text x="210.40" y="826.50" font-size="5" text-anchor="end" stroke="#000" stroke-width="0.14">400</text>
<line x1="212.10" y1="847.20" x2="214.60" y2="847.20" stroke="#000" stroke-width="0.8"/>
<text x="210.40" y="849.00" font-size="5" text-anchor="end" stroke="#000" stroke-width="0.14">200</text>
<line x1="212.10" y1="869.60" x2="214.60" y2="869.60" stroke="#000" stroke-width="0.8"/>
<text x="210.40" y="871.40" font-size="5" text-anchor="end" stroke="#000" stroke-width="0.14">0</text>
<line x1="212.10" y1="892.00" x2="214.60" y2="892.00" stroke="#000" stroke-width="0.8"/>
<text x="210.40" y="893.80" font-size="5" text-anchor="end" stroke="#000" stroke-width="0.14">-200</text>
<line x1="212.10" y1="914.50" x2="214.60" y2="914.50" stroke="#000" stroke-width="0.8"/>
<text x="210.40" y="916.30" font-size="5" text-anchor="end" stroke="#000" stroke-width="0.14">-400</text>
<line x1="212.10" y1="937.00" x2="214.60" y2="937.00" stroke="#000" stroke-width="0.8"/>
<text x="210.40" y="938.80" font-size="5" text-anchor="end" stroke="#000" stroke-width="0.14">-600</text>
<text x="192.00" y="841.50" font-size="10.6" text-anchor="middle" stroke="#000" stroke-width="0.28" transform="rotate(-90 192.00 841.50)">f (a.u. normalized to last 15 µm)</text>
<path d="M217.0,937.8 C217.7,935.5 218.6,933.4 220.0,927.8 C221.4,922.2 221.6,918.0 223.0,913.9 C224.4,909.7 224.6,915.4 226.0,909.9 C227.4,904.3 227.8,899.2 229.0,889.9 C230.1,880.6 230.2,877.1 231.0,869.9 C231.8,862.7 231.6,860.3 232.4,858.9 C233.2,857.5 233.5,861.4 234.4,863.9 C235.2,866.5 235.1,870.4 236.0,869.9 C236.8,869.4 237.0,865.9 238.0,861.9 C238.9,858.0 239.0,853.4 240.0,852.9 C240.9,852.5 241.0,856.0 242.0,859.9 C242.9,863.9 242.8,866.2 244.0,869.9 C245.1,873.6 245.5,875.0 246.9,875.9 C248.3,876.8 248.5,875.3 249.9,873.9 C251.3,872.5 251.5,870.4 252.9,869.9 C254.3,869.4 254.5,870.5 255.9,871.9 C257.3,873.3 257.5,875.9 258.9,875.9 C260.3,875.9 260.5,871.0 261.9,871.9 C263.3,872.8 263.5,878.3 264.9,879.9 C266.3,881.5 266.8,881.2 267.9,878.9 C269.1,876.6 268.9,874.3 269.9,869.9 C270.9,865.5 271.1,864.6 272.3,859.9 C273.5,855.3 273.6,853.2 274.9,849.9 C276.2,846.7 276.5,847.8 277.9,845.9 C279.3,844.1 279.5,844.3 280.9,842.0 C282.3,839.6 282.5,837.9 283.9,836.0 C285.3,834.0 285.5,834.3 286.9,833.6 C288.3,832.9 288.7,830.5 289.9,833.0 C291.1,835.4 291.0,837.7 291.9,844.0 C292.8,850.2 292.9,854.3 293.9,859.9 C294.8,865.5 294.9,868.4 295.9,867.9 C296.8,867.5 296.9,863.1 297.9,857.9 C298.8,852.8 298.9,849.0 299.9,845.9 C300.8,842.9 300.9,842.2 301.9,845.0 C302.8,847.7 302.9,851.2 303.9,857.9 C304.8,864.7 304.7,867.9 305.9,873.9 C307.0,880.0 307.5,880.2 308.9,883.9 C310.3,887.6 310.7,889.4 311.9,889.9 C313.0,890.4 312.9,885.7 313.9,885.9 C314.8,886.1 314.9,891.8 315.8,890.9 C316.8,890.0 316.9,887.7 317.8,881.9 C318.8,876.1 318.9,870.7 319.8,865.9 C320.8,861.2 320.7,861.3 321.8,861.5 C323.0,861.8 323.4,866.4 324.8,866.9 C326.2,867.5 326.4,866.0 327.8,863.9 C329.2,861.8 329.5,861.7 330.8,857.9 C332.1,854.2 332.3,851.9 333.4,847.9 C334.6,844.0 334.6,840.5 335.8,841.0 C337.1,841.4 337.8,844.4 338.8,849.9 C339.8,855.5 339.2,863.4 340.0,864.8 C340.8,866.1 341.2,859.4 342.3,855.6 C343.3,851.9 343.5,848.8 344.6,848.8 C345.6,848.8 345.8,850.9 346.8,855.6 C347.9,860.4 348.1,863.5 349.1,869.3 C350.2,875.2 350.3,876.5 351.4,880.8 C352.5,885.0 352.6,885.7 353.7,887.6 C354.8,889.5 354.9,890.9 356.0,888.7 C357.0,886.6 357.2,882.7 358.3,878.5 C359.3,874.2 359.5,872.9 360.5,870.5 C361.6,868.1 361.8,867.7 362.8,868.2 C363.9,868.7 363.8,870.4 365.1,872.8 C366.4,875.2 367.2,876.3 368.5,878.5 C369.9,880.6 369.5,883.0 370.8,881.9 C372.1,880.8 372.9,877.1 374.2,873.9 C375.6,870.7 375.5,868.7 376.5,868.2 C377.6,867.7 377.7,869.0 378.8,871.6 C379.9,874.3 380.0,876.2 381.1,879.6 C382.1,883.1 382.0,885.1 383.4,886.5 C384.7,887.8 385.5,885.3 386.8,885.3 C388.1,885.3 388.0,885.4 389.1,886.5 C390.1,887.5 390.0,887.8 391.4,889.9 C392.7,892.0 393.2,893.2 394.8,895.6 C396.4,898.0 396.7,898.4 398.2,900.2 C399.7,901.9 399.8,903.4 401.2,903.1 C402.5,902.9 402.5,901.0 403.9,899.0 C405.3,897.0 405.7,896.6 407.3,894.5 C408.9,892.3 409.4,892.0 410.8,889.9 C412.1,887.8 412.0,888.0 413.0,885.3 C414.1,882.7 414.3,882.7 415.3,878.5 C416.4,874.2 416.5,872.9 417.6,867.1 C418.7,861.2 418.8,857.9 419.9,853.4 C421.0,848.8 421.1,847.9 422.2,847.7 C423.2,847.4 423.4,849.0 424.5,852.2 C425.5,855.4 425.7,862.7 426.7,861.4 C427.8,860.0 428.0,853.7 429.0,846.5 C430.1,839.3 430.2,834.5 431.3,830.5 C432.4,826.5 432.5,827.8 433.6,829.4 C434.6,831.0 434.8,832.9 435.9,837.4 C436.9,841.9 437.1,843.7 438.1,848.8 C439.2,853.9 439.4,856.9 440.4,859.1 C441.5,861.2 441.6,859.0 442.7,857.9 C443.8,856.9 443.9,852.9 445.0,854.5 C446.1,856.1 446.2,859.2 447.3,864.8 C448.3,870.4 448.5,874.2 449.6,878.5 C450.6,882.7 450.8,880.9 451.8,883.0 C452.9,885.2 453.1,887.6 454.1,887.6 C455.2,887.6 455.3,889.4 456.4,883.0 C457.5,876.6 457.6,870.9 458.7,860.2 C459.8,849.6 460.0,843.9 461.0,837.4 C461.9,830.9 461.8,831.8 462.8,832.4 C463.8,832.9 464.0,836.1 465.1,839.7 C466.1,843.2 466.3,840.7 467.4,847.7 C468.4,854.6 468.6,860.3 469.6,869.3 C470.7,878.4 471.4,882.5 471.9,886.5" fill="none" stroke="#8c8c8c" stroke-width="1.5" stroke-linejoin="round" stroke-linecap="round"/>
<path d="M215.0,937.8 C215.7,936.9 216.6,937.6 218.0,933.8 C219.4,930.1 219.6,927.4 221.0,921.8 C222.4,916.2 222.6,915.4 224.0,909.9 C225.4,904.3 225.6,903.9 227.0,897.9 C228.4,891.8 228.6,890.4 230.0,883.9 C231.4,877.4 231.6,876.4 233.0,869.9 C234.4,863.4 234.6,862.0 236.0,855.9 C237.4,849.9 237.7,848.2 239.0,844.0 C240.3,839.7 240.4,838.3 241.6,837.6 C242.7,836.9 242.7,839.0 244.0,841.0 C245.2,842.9 245.5,844.9 246.9,845.9 C248.3,847.0 248.8,844.6 249.9,845.5 C251.1,846.5 251.0,847.3 251.9,849.9 C252.9,852.6 252.8,854.1 253.9,856.9 C255.1,859.7 255.5,860.7 256.9,861.9 C258.3,863.2 258.5,861.6 259.9,862.3 C261.3,863.0 261.5,864.9 262.9,864.9 C264.3,864.9 264.8,864.0 265.9,862.3 C267.1,860.7 267.0,860.4 267.9,857.9 C268.8,855.5 269.0,853.4 269.9,851.9 C270.8,850.4 271.0,850.1 271.9,851.5 C272.8,852.9 273.0,854.1 273.9,857.9 C274.8,861.8 275.0,865.4 275.9,867.9 C276.8,870.5 277.0,870.3 277.9,868.9 C278.8,867.5 278.7,864.3 279.9,861.9 C281.1,859.6 281.5,859.6 282.9,858.9 C284.3,858.2 284.5,857.8 285.9,858.9 C287.3,860.1 287.5,861.8 288.9,863.9 C290.3,866.0 290.5,866.8 291.9,867.9 C293.3,869.1 293.5,868.0 294.9,868.9 C296.3,869.8 296.5,870.8 297.9,871.9 C299.3,873.0 299.5,872.6 300.9,873.5 C302.3,874.4 302.5,875.6 303.9,875.9 C305.3,876.2 305.5,875.4 306.9,874.9 C308.3,874.4 308.5,875.1 309.9,873.9 C311.3,872.7 311.5,872.3 312.9,869.9 C314.3,867.5 314.7,865.2 315.8,863.5 C317.0,861.9 316.9,861.7 317.8,862.9 C318.8,864.2 318.7,866.4 319.8,868.9 C321.0,871.5 321.4,872.0 322.8,873.9 C324.2,875.8 324.4,875.7 325.8,876.9 C327.2,878.1 327.4,877.4 328.8,878.9 C330.2,880.4 330.4,882.8 331.8,883.5 C333.2,884.2 333.4,883.0 334.8,881.9 C336.2,880.8 336.6,881.0 337.8,878.9 C339.0,876.8 338.7,873.9 340.0,872.8 C341.3,871.6 341.8,873.4 343.4,873.9 C345.0,874.4 345.2,873.7 346.8,875.0 C348.4,876.4 348.7,878.8 350.3,879.6 C351.9,880.4 352.1,879.5 353.7,878.5 C355.3,877.4 355.5,877.2 357.1,875.0 C358.7,872.9 359.2,872.0 360.5,869.3 C361.9,866.7 361.8,865.2 362.8,863.6 C363.9,862.0 364.0,862.0 365.1,862.5 C366.2,863.0 366.1,864.3 367.4,865.9 C368.7,867.5 369.2,869.1 370.8,869.3 C372.4,869.6 372.6,867.2 374.2,867.1 C375.8,867.0 376.1,868.1 377.7,868.9 C379.3,869.7 379.5,870.4 381.1,870.5 C382.7,870.6 382.9,868.0 384.5,869.3 C386.1,870.7 386.3,873.3 387.9,876.2 C389.5,879.1 389.8,880.3 391.4,881.9 C393.0,883.5 393.2,883.6 394.8,883.0 C396.4,882.5 396.6,880.9 398.2,879.6 C399.8,878.3 400.0,878.4 401.6,877.3 C403.2,876.3 403.5,876.4 405.0,875.0 C406.6,873.7 406.9,873.1 408.5,871.6 C410.1,870.2 410.3,869.4 411.9,868.9 C413.5,868.4 413.7,869.5 415.3,869.3 C416.9,869.2 417.1,867.9 418.7,868.2 C420.3,868.5 420.6,868.6 422.2,870.5 C423.8,872.3 424.0,875.4 425.6,876.2 C427.2,877.0 427.4,875.0 429.0,873.9 C430.6,872.8 430.8,872.4 432.4,871.6 C434.0,870.8 434.3,870.2 435.9,870.5 C437.5,870.8 438.0,874.6 439.3,872.8 C440.6,870.9 440.5,868.1 441.6,862.5 C442.6,856.9 442.8,853.1 443.9,848.8 C444.9,844.5 444.8,845.6 446.1,844.2 C447.5,842.9 448.0,843.1 449.6,843.1 C451.2,843.1 451.4,843.4 453.0,844.2 C454.6,845.0 455.2,843.9 456.4,846.5 C457.6,849.2 457.4,850.9 458.2,855.6 C459.0,860.4 458.9,862.8 459.8,867.1 C460.7,871.3 461.0,871.8 462.1,873.9 C463.2,876.0 463.3,874.6 464.4,876.2 C465.5,877.8 465.8,878.9 466.7,880.8 C467.6,882.6 467.9,883.4 468.3,884.2" fill="none" stroke="#000" stroke-width="2.1" stroke-linejoin="round" stroke-linecap="round"/>
<line x1="214.60" y1="869.60" x2="470.40" y2="869.60" stroke="#000" stroke-width="1.2"/>
<line x1="214.25" y1="869.80" x2="469.50" y2="869.80" stroke="#000" stroke-width="1.9" stroke-dasharray="1.1 1.018"/>
<line x1="214.20" y1="870.50" x2="469.60" y2="870.50" stroke="#000" stroke-width="2.5999999999999996" stroke-dasharray="1.2 7.270"/>
<text x="214.80" y="878.40" font-size="5.6" text-anchor="middle" font-weight="bold" fill="#333">0</text>
<text x="223.27" y="878.40" font-size="5.6" text-anchor="middle" font-weight="bold" fill="#333">1</text>
<text x="231.74" y="878.40" font-size="5.6" text-anchor="middle" font-weight="bold" fill="#333">2</text>
<text x="240.21" y="878.40" font-size="5.6" text-anchor="middle" font-weight="bold" fill="#333">3</text>
<text x="248.68" y="878.40" font-size="5.6" text-anchor="middle" font-weight="bold" fill="#333">4</text>
<text x="257.15" y="878.40" font-size="5.6" text-anchor="middle" font-weight="bold" fill="#333">5</text>
<text x="265.62" y="878.40" font-size="5.6" text-anchor="middle" font-weight="bold" fill="#333">6</text>
<text x="274.09" y="878.40" font-size="5.6" text-anchor="middle" font-weight="bold" fill="#333">7</text>
<text x="282.56" y="878.40" font-size="5.6" text-anchor="middle" font-weight="bold" fill="#333">8</text>
<text x="291.03" y="878.40" font-size="5.6" text-anchor="middle" font-weight="bold" fill="#333">9</text>
<text x="299.50" y="878.40" font-size="5.6" text-anchor="middle" font-weight="bold" fill="#333">10</text>
<text x="307.97" y="878.40" font-size="5.6" text-anchor="middle" font-weight="bold" fill="#333">11</text>
<text x="316.44" y="878.40" font-size="5.6" text-anchor="middle" font-weight="bold" fill="#333">12</text>
<text x="324.91" y="878.40" font-size="5.6" text-anchor="middle" font-weight="bold" fill="#333">13</text>
<text x="333.38" y="878.40" font-size="5.6" text-anchor="middle" font-weight="bold" fill="#333">14</text>
<text x="341.85" y="878.40" font-size="5.6" text-anchor="middle" font-weight="bold" fill="#333">15</text>
<text x="350.32" y="878.40" font-size="5.6" text-anchor="middle" font-weight="bold" fill="#333">16</text>
<text x="358.79" y="878.40" font-size="5.6" text-anchor="middle" font-weight="bold" fill="#333">17</text>
<text x="367.26" y="878.40" font-size="5.6" text-anchor="middle" font-weight="bold" fill="#333">18</text>
<text x="375.73" y="878.40" font-size="5.6" text-anchor="middle" font-weight="bold" fill="#333">19</text>
<text x="384.20" y="878.40" font-size="5.6" text-anchor="middle" font-weight="bold" fill="#333">20</text>
<text x="392.67" y="878.40" font-size="5.6" text-anchor="middle" font-weight="bold" fill="#333">21</text>
<text x="401.14" y="878.40" font-size="5.6" text-anchor="middle" font-weight="bold" fill="#333">22</text>
<text x="409.61" y="878.40" font-size="5.6" text-anchor="middle" font-weight="bold" fill="#333">23</text>
<text x="418.08" y="878.40" font-size="5.6" text-anchor="middle" font-weight="bold" fill="#333">24</text>
<text x="426.55" y="878.40" font-size="5.6" text-anchor="middle" font-weight="bold" fill="#333">25</text>
<text x="435.02" y="878.40" font-size="5.6" text-anchor="middle" font-weight="bold" fill="#333">26</text>
<text x="443.49" y="878.40" font-size="5.6" text-anchor="middle" font-weight="bold" fill="#333">27</text>
<text x="451.96" y="878.40" font-size="5.6" text-anchor="middle" font-weight="bold" fill="#333">28</text>
<text x="460.43" y="878.40" font-size="5.6" text-anchor="middle" font-weight="bold" fill="#333">29</text>
<text x="468.90" y="878.40" font-size="5.6" text-anchor="middle" font-weight="bold" fill="#333">30</text>
<text x="243.90" y="914.20" font-size="7" stroke="#000" stroke-width="0.22">Distance from bead center (µm)</text>
<line x1="232.50" y1="920.90" x2="344.80" y2="920.90" stroke="#000" stroke-width="1.6"/>
<path d="M348.80,920.90 l-6.5,-3 v6 z" fill="#000"/>
<line x1="440.20" y1="901.00" x2="454.30" y2="901.00" stroke="#8c8c8c" stroke-width="1.5"/>
<text x="455.40" y="903.10" font-size="5.7" stroke="#000" stroke-width="0.14">uncoated</text>
<line x1="440.20" y1="909.20" x2="454.30" y2="909.20" stroke="#000" stroke-width="2.1"/>
<text x="455.40" y="911.30" font-size="5.7" stroke="#000" stroke-width="0.14">PDL</text>
<line x1="407.90" y1="763.50" x2="407.90" y2="748.10" stroke="#000" stroke-width="1.3"/>
<line x1="405.20" y1="748.10" x2="410.60" y2="748.10" stroke="#000" stroke-width="1.4"/>
<rect x="399.20" y="763.50" width="17.40" height="49.70" fill="#8c8c8c" stroke="#000" stroke-width="1.1"/>
<line x1="407.90" y1="813.20" x2="407.90" y2="816.60" stroke="#000" stroke-width="1.3"/>
<line x1="433.30" y1="768.30" x2="433.30" y2="758.70" stroke="#000" stroke-width="1.3"/>
<line x1="430.60" y1="758.70" x2="436.00" y2="758.70" stroke="#000" stroke-width="1.4"/>
<rect x="424.30" y="768.30" width="18.00" height="44.90" fill="#000" stroke="#000" stroke-width="1.1"/>
<line x1="433.30" y1="813.20" x2="433.30" y2="816.60" stroke="#000" stroke-width="1.3"/>
<line x1="395.20" y1="736.00" x2="395.20" y2="813.90" stroke="#000" stroke-width="1.7"/>
<line x1="394.50" y1="813.20" x2="445.70" y2="813.20" stroke="#000" stroke-width="1.7"/>
<line x1="391.40" y1="737.00" x2="395.20" y2="737.00" stroke="#000" stroke-width="1.2"/>
<text x="390.90" y="738.84" font-size="5.1" text-anchor="end" stroke="#000" stroke-width="0.14">1500</text>
<line x1="391.40" y1="762.40" x2="395.20" y2="762.40" stroke="#000" stroke-width="1.2"/>
<text x="390.90" y="764.24" font-size="5.1" text-anchor="end" stroke="#000" stroke-width="0.14">1000</text>
<line x1="391.40" y1="787.80" x2="395.20" y2="787.80" stroke="#000" stroke-width="1.2"/>
<text x="390.90" y="789.64" font-size="5.1" text-anchor="end" stroke="#000" stroke-width="0.14">500</text>
<line x1="391.40" y1="813.20" x2="395.20" y2="813.20" stroke="#000" stroke-width="1.2"/>
<text x="390.90" y="815.04" font-size="5.1" text-anchor="end" stroke="#000" stroke-width="0.14">0</text>
<text x="375.70" y="782.80" font-size="10" text-anchor="middle" stroke="#000" stroke-width="0.28" transform="rotate(-90 375.70 782.80)">AUC 0-5 µm</text>
<text x="416.30" y="819.10" font-size="8.1" text-anchor="end" stroke="#000" stroke-width="0.22" transform="rotate(-45 416.30 819.10)">uncoated</text>
<text x="436.90" y="819.10" font-size="8.1" text-anchor="end" stroke="#000" stroke-width="0.22" transform="rotate(-45 436.90 819.10)">PDL</text>
<text x="422.60" y="740.00" font-size="7.6" text-anchor="middle" stroke="#000" stroke-width="0.22">n.s.</text>
<line x1="407.20" y1="742.60" x2="434.10" y2="742.60" stroke="#000" stroke-width="1.5"/>
<text x="494.40" y="511.70" font-size="17.6" font-weight="bold">H</text>
<text x="559.60" y="509.30" font-size="14" text-anchor="middle" stroke="#000" stroke-width="0.28">β-catenin</text>
<text x="648.70" y="509.30" font-size="14" text-anchor="middle" stroke="#000" stroke-width="0.28">SNAP25</text>
<line x1="517.20" y1="512.70" x2="601.40" y2="512.70" stroke="#000" stroke-width="1.0"/>
<line x1="607.70" y1="512.70" x2="697.50" y2="512.70" stroke="#000" stroke-width="1.0"/>
<line x1="510.60" y1="518.40" x2="510.60" y2="672.60" stroke="#000" stroke-width="1.0"/>
<text x="506.00" y="595.00" font-size="14.5" text-anchor="middle" stroke="#000" stroke-width="0.28" transform="rotate(-90 506.00 595.00)">3 h</text>
<line x1="510.60" y1="674.40" x2="510.60" y2="820.40" stroke="#000" stroke-width="1.0"/>
<text x="506.00" y="753.20" font-size="14.5" text-anchor="middle" stroke="#000" stroke-width="0.28" transform="rotate(-90 506.00 753.20)">6 h</text>
<line x1="510.60" y1="822.80" x2="510.60" y2="984.80" stroke="#000" stroke-width="1.0"/>
<text x="506.00" y="909.60" font-size="14.5" text-anchor="middle" stroke="#000" stroke-width="0.28" transform="rotate(-90 506.00 909.60)">12 h</text>
<line x1="552.50" y1="581.40" x2="552.50" y2="576.70" stroke="#000" stroke-width="1.3"/>
<line x1="549.80" y1="576.70" x2="555.20" y2="576.70" stroke="#000" stroke-width="1.4"/>
<rect x="547.80" y="581.40" width="9.40" height="25.20" fill="#8c8c8c" stroke="#000" stroke-width="1.1"/>
<line x1="552.50" y1="606.60" x2="552.50" y2="610.00" stroke="#000" stroke-width="1.3"/>
<line x1="566.05" y1="586.20" x2="566.05" y2="583.30" stroke="#000" stroke-width="1.3"/>
<line x1="563.35" y1="583.30" x2="568.75" y2="583.30" stroke="#000" stroke-width="1.4"/>
<rect x="561.30" y="586.20" width="9.50" height="20.40" fill="#f2c53d" stroke="#000" stroke-width="1.1"/>
<line x1="566.05" y1="606.60" x2="566.05" y2="610.00" stroke="#000" stroke-width="1.3"/>
<line x1="579.60" y1="552.10" x2="579.60" y2="546.70" stroke="#000" stroke-width="1.3"/>
<line x1="576.90" y1="546.70" x2="582.30" y2="546.70" stroke="#000" stroke-width="1.4"/>
<rect x="574.80" y="552.10" width="9.60" height="54.50" fill="#000" stroke="#000" stroke-width="1.1"/>
<line x1="579.60" y1="606.60" x2="579.60" y2="610.00" stroke="#000" stroke-width="1.3"/>
<line x1="593.50" y1="567.90" x2="593.50" y2="564.00" stroke="#000" stroke-width="1.3"/>
<line x1="590.80" y1="564.00" x2="596.20" y2="564.00" stroke="#000" stroke-width="1.4"/>
<rect x="588.80" y="567.90" width="9.40" height="38.70" fill="#e3211c" stroke="#000" stroke-width="1.1"/>
<line x1="593.50" y1="606.60" x2="593.50" y2="610.00" stroke="#000" stroke-width="1.3"/>
<line x1="545.60" y1="522.90" x2="545.60" y2="607.30" stroke="#000" stroke-width="1.7"/>
<line x1="544.90" y1="606.60" x2="601.60" y2="606.60" stroke="#000" stroke-width="1.7"/>
<line x1="541.80" y1="524.10" x2="545.60" y2="524.10" stroke="#000" stroke-width="1.2"/>
<text x="541.30" y="525.97" font-size="5.2" text-anchor="end" stroke="#000" stroke-width="0.14">1500</text>
<line x1="541.80" y1="551.60" x2="545.60" y2="551.60" stroke="#000" stroke-width="1.2"/>
<text x="541.30" y="553.47" font-size="5.2" text-anchor="end" stroke="#000" stroke-width="0.14">1000</text>
<line x1="541.80" y1="579.10" x2="545.60" y2="579.10" stroke="#000" stroke-width="1.2"/>
<text x="541.30" y="580.97" font-size="5.2" text-anchor="end" stroke="#000" stroke-width="0.14">500</text>
<line x1="541.80" y1="606.60" x2="545.60" y2="606.60" stroke="#000" stroke-width="1.2"/>
<text x="541.30" y="608.47" font-size="5.2" text-anchor="end" stroke="#000" stroke-width="0.14">0</text>
<text x="522.40" y="566.50" font-size="9.5" text-anchor="middle" stroke="#000" stroke-width="0.28" transform="rotate(-90 522.40 566.50)">AUC 0-5 µm</text>
<text x="553.30" y="614.70" font-size="8.9" text-anchor="end" stroke="#000" stroke-width="0.22" transform="rotate(-45 553.30 614.70)">uncoated</text>
<text x="569.75" y="614.70" font-size="8.9" text-anchor="end" stroke="#000" stroke-width="0.22" transform="rotate(-45 569.75 614.70)">uncoated + emetine</text>
<text x="584.20" y="614.70" font-size="8.9" text-anchor="end" stroke="#000" stroke-width="0.22" transform="rotate(-45 584.20 614.70)">PDL</text>
<text x="600.10" y="614.70" font-size="8.9" text-anchor="end" stroke="#000" stroke-width="0.22" transform="rotate(-45 600.10 614.70)">PDL + emetine</text>
<path d="M552.50,575.00 V534.30 H577.70 V545.00" fill="none" stroke="#000" stroke-width="1.4"/>
<text x="565.10" y="534.70" font-size="8.7" text-anchor="middle" stroke="#000" stroke-width="0.22">***</text>
<path d="M566.00,581.50 V541.40 H576.60 V545.00" fill="none" stroke="#000" stroke-width="1.4"/>
<text x="571.30" y="541.80" font-size="8.7" text-anchor="middle" stroke="#000" stroke-width="0.22">***</text>
<path d="M581.50,545.00 V538.90 H593.50 V562.50" fill="none" stroke="#000" stroke-width="1.4"/>
<text x="587.50" y="539.30" font-size="8.7" text-anchor="middle" stroke="#000" stroke-width="0.22">*</text>
<line x1="643.30" y1="579.20" x2="643.30" y2="573.50" stroke="#000" stroke-width="1.3"/>
<line x1="640.60" y1="573.50" x2="646.00" y2="573.50" stroke="#000" stroke-width="1.4"/>
<rect x="638.60" y="579.20" width="9.40" height="27.40" fill="#8c8c8c" stroke="#000" stroke-width="1.1"/>
<line x1="643.30" y1="606.60" x2="643.30" y2="610.00" stroke="#000" stroke-width="1.3"/>
<line x1="657.15" y1="586.80" x2="657.15" y2="581.40" stroke="#000" stroke-width="1.3"/>
<line x1="654.45" y1="581.40" x2="659.85" y2="581.40" stroke="#000" stroke-width="1.4"/>
<rect x="652.40" y="586.80" width="9.50" height="19.80" fill="#f2c53d" stroke="#000" stroke-width="1.1"/>
<line x1="657.15" y1="606.60" x2="657.15" y2="610.00" stroke="#000" stroke-width="1.3"/>
<line x1="670.75" y1="538.90" x2="670.75" y2="531.00" stroke="#000" stroke-width="1.3"/>
<line x1="668.05" y1="531.00" x2="673.45" y2="531.00" stroke="#000" stroke-width="1.4"/>
<rect x="666.00" y="538.90" width="9.50" height="67.70" fill="#000" stroke="#000" stroke-width="1.1"/>
<line x1="670.75" y1="606.60" x2="670.75" y2="610.00" stroke="#000" stroke-width="1.3"/>
<line x1="684.40" y1="561.90" x2="684.40" y2="557.50" stroke="#000" stroke-width="1.3"/>
<line x1="681.70" y1="557.50" x2="687.10" y2="557.50" stroke="#000" stroke-width="1.4"/>
<rect x="679.60" y="561.90" width="9.60" height="44.70" fill="#e3211c" stroke="#000" stroke-width="1.1"/>
<line x1="684.40" y1="606.60" x2="684.40" y2="610.00" stroke="#000" stroke-width="1.3"/>
<line x1="636.70" y1="525.90" x2="636.70" y2="607.30" stroke="#000" stroke-width="1.7"/>
<line x1="636.00" y1="606.60" x2="692.20" y2="606.60" stroke="#000" stroke-width="1.7"/>
<line x1="632.90" y1="526.90" x2="636.70" y2="526.90" stroke="#000" stroke-width="1.2"/>
<text x="632.40" y="528.77" font-size="5.2" text-anchor="end" stroke="#000" stroke-width="0.14">4000</text>
<line x1="632.90" y1="546.80" x2="636.70" y2="546.80" stroke="#000" stroke-width="1.2"/>
<text x="632.40" y="548.67" font-size="5.2" text-anchor="end" stroke="#000" stroke-width="0.14">3000</text>
<line x1="632.90" y1="566.80" x2="636.70" y2="566.80" stroke="#000" stroke-width="1.2"/>
<text x="632.40" y="568.67" font-size="5.2" text-anchor="end" stroke="#000" stroke-width="0.14">2000</text>
<line x1="632.90" y1="586.70" x2="636.70" y2="586.70" stroke="#000" stroke-width="1.2"/>
<text x="632.40" y="588.57" font-size="5.2" text-anchor="end" stroke="#000" stroke-width="0.14">1000</text>
<line x1="632.90" y1="606.60" x2="636.70" y2="606.60" stroke="#000" stroke-width="1.2"/>
<text x="632.40" y="608.47" font-size="5.2" text-anchor="end" stroke="#000" stroke-width="0.14">0</text>
<text x="614.80" y="565.70" font-size="10" text-anchor="middle" stroke="#000" stroke-width="0.28" transform="rotate(-90 614.80 565.70)">AUC 0-5 µm</text>
<text x="644.10" y="614.70" font-size="8.9" text-anchor="end" stroke="#000" stroke-width="0.22" transform="rotate(-45 644.10 614.70)">uncoated</text>
<text x="660.85" y="614.70" font-size="8.9" text-anchor="end" stroke="#000" stroke-width="0.22" transform="rotate(-45 660.85 614.70)">uncoated + emetine</text>
<text x="675.35" y="614.70" font-size="8.9" text-anchor="end" stroke="#000" stroke-width="0.22" transform="rotate(-45 675.35 614.70)">PDL</text>
<text x="691.00" y="614.70" font-size="8.9" text-anchor="end" stroke="#000" stroke-width="0.22" transform="rotate(-45 691.00 614.70)">PDL + emetine</text>
<path d="M643.30,572.00 V519.00 H668.50 V529.50" fill="none" stroke="#000" stroke-width="1.4"/>
<text x="655.90" y="519.40" font-size="8.7" text-anchor="middle" stroke="#000" stroke-width="0.22">***</text>
<path d="M657.20,580.00 V527.20 H667.40 V529.50" fill="none" stroke="#000" stroke-width="1.4"/>
<text x="662.30" y="527.60" font-size="8.7" text-anchor="middle" stroke="#000" stroke-width="0.22">***</text>
<path d="M673.00,529.50 V524.70 H684.30 V556.00" fill="none" stroke="#000" stroke-width="1.4"/>
<text x="678.65" y="525.10" font-size="8.7" text-anchor="middle" stroke="#000" stroke-width="0.22">*</text>
<line x1="550.15" y1="718.90" x2="550.15" y2="713.50" stroke="#000" stroke-width="1.3"/>
<line x1="547.45" y1="713.50" x2="552.85" y2="713.50" stroke="#000" stroke-width="1.4"/>
<rect x="545.30" y="718.90" width="9.70" height="48.80" fill="#8c8c8c" stroke="#000" stroke-width="1.1"/>
<line x1="550.15" y1="767.70" x2="550.15" y2="771.10" stroke="#000" stroke-width="1.3"/>
<line x1="563.85" y1="726.10" x2="563.85" y2="721.00" stroke="#000" stroke-width="1.3"/>
<line x1="561.15" y1="721.00" x2="566.55" y2="721.00" stroke="#000" stroke-width="1.4"/>
<rect x="558.80" y="726.10" width="10.10" height="41.60" fill="#f2c53d" stroke="#000" stroke-width="1.1"/>
<line x1="563.85" y1="767.70" x2="563.85" y2="771.10" stroke="#000" stroke-width="1.3"/>
<line x1="577.80" y1="704.00" x2="577.80" y2="697.70" stroke="#000" stroke-width="1.3"/>
<line x1="575.10" y1="697.70" x2="580.50" y2="697.70" stroke="#000" stroke-width="1.4"/>
<rect x="573.00" y="704.00" width="9.60" height="63.70" fill="#000" stroke="#000" stroke-width="1.1"/>
<line x1="577.80" y1="767.70" x2="577.80" y2="771.10" stroke="#000" stroke-width="1.3"/>
<line x1="591.60" y1="723.60" x2="591.60" y2="718.90" stroke="#000" stroke-width="1.3"/>
<line x1="588.90" y1="718.90" x2="594.30" y2="718.90" stroke="#000" stroke-width="1.4"/>
<rect x="586.60" y="723.60" width="10.00" height="44.10" fill="#e3211c" stroke="#000" stroke-width="1.1"/>
<line x1="591.60" y1="767.70" x2="591.60" y2="771.10" stroke="#000" stroke-width="1.3"/>
<line x1="543.00" y1="680.90" x2="543.00" y2="768.40" stroke="#000" stroke-width="1.7"/>
<line x1="542.30" y1="767.70" x2="599.40" y2="767.70" stroke="#000" stroke-width="1.7"/>
<line x1="539.20" y1="682.00" x2="543.00" y2="682.00" stroke="#000" stroke-width="1.2"/>
<text x="538.70" y="683.87" font-size="5.2" text-anchor="end" stroke="#000" stroke-width="0.14">1500</text>
<line x1="539.20" y1="710.60" x2="543.00" y2="710.60" stroke="#000" stroke-width="1.2"/>
<text x="538.70" y="712.47" font-size="5.2" text-anchor="end" stroke="#000" stroke-width="0.14">1000</text>
<line x1="539.20" y1="739.10" x2="543.00" y2="739.10" stroke="#000" stroke-width="1.2"/>
<text x="538.70" y="740.97" font-size="5.2" text-anchor="end" stroke="#000" stroke-width="0.14">500</text>
<line x1="539.20" y1="767.70" x2="543.00" y2="767.70" stroke="#000" stroke-width="1.2"/>
<text x="538.70" y="769.57" font-size="5.2" text-anchor="end" stroke="#000" stroke-width="0.14">0</text>
<text x="522.60" y="728.60" font-size="9.4" text-anchor="middle" stroke="#000" stroke-width="0.28" transform="rotate(-90 522.60 728.60)">AUC 0-5 µm</text>
<text x="550.95" y="775.80" font-size="8.9" text-anchor="end" stroke="#000" stroke-width="0.22" transform="rotate(-45 550.95 775.80)">uncoated</text>
<text x="567.55" y="775.80" font-size="8.9" text-anchor="end" stroke="#000" stroke-width="0.22" transform="rotate(-45 567.55 775.80)">uncoated + emetine</text>
<text x="582.40" y="775.80" font-size="8.9" text-anchor="end" stroke="#000" stroke-width="0.22" transform="rotate(-45 582.40 775.80)">PDL</text>
<text x="598.20" y="775.80" font-size="8.9" text-anchor="end" stroke="#000" stroke-width="0.22" transform="rotate(-45 598.20 775.80)">PDL + emetine</text>
<text x="573.00" y="687.80" font-size="5.6" text-anchor="middle" stroke="#000" stroke-width="0.14">n.s</text>
<line x1="550.20" y1="690.30" x2="596.00" y2="690.30" stroke="#000" stroke-width="1.5"/>
<line x1="643.30" y1="736.20" x2="643.30" y2="732.40" stroke="#000" stroke-width="1.3"/>
<line x1="640.60" y1="732.40" x2="646.00" y2="732.40" stroke="#000" stroke-width="1.4"/>
<rect x="638.60" y="736.20" width="9.40" height="31.50" fill="#8c8c8c" stroke="#000" stroke-width="1.1"/>
<line x1="643.30" y1="767.70" x2="643.30" y2="771.10" stroke="#000" stroke-width="1.3"/>
<line x1="657.15" y1="731.50" x2="657.15" y2="726.70" stroke="#000" stroke-width="1.3"/>
<line x1="654.45" y1="726.70" x2="659.85" y2="726.70" stroke="#000" stroke-width="1.4"/>
<rect x="652.40" y="731.50" width="9.50" height="36.20" fill="#f2c53d" stroke="#000" stroke-width="1.1"/>
<line x1="657.15" y1="767.70" x2="657.15" y2="771.10" stroke="#000" stroke-width="1.3"/>
<line x1="670.75" y1="696.80" x2="670.75" y2="690.50" stroke="#000" stroke-width="1.3"/>
<line x1="668.05" y1="690.50" x2="673.45" y2="690.50" stroke="#000" stroke-width="1.4"/>
<rect x="666.00" y="696.80" width="9.50" height="70.90" fill="#000" stroke="#000" stroke-width="1.1"/>
<line x1="670.75" y1="767.70" x2="670.75" y2="771.10" stroke="#000" stroke-width="1.3"/>
<line x1="684.40" y1="725.20" x2="684.40" y2="721.00" stroke="#000" stroke-width="1.3"/>
<line x1="681.70" y1="721.00" x2="687.10" y2="721.00" stroke="#000" stroke-width="1.4"/>
<rect x="679.60" y="725.20" width="9.60" height="42.50" fill="#e3211c" stroke="#000" stroke-width="1.1"/>
<line x1="684.40" y1="767.70" x2="684.40" y2="771.10" stroke="#000" stroke-width="1.3"/>
<line x1="632.30" y1="682.40" x2="632.30" y2="768.40" stroke="#000" stroke-width="1.7"/>
<line x1="631.60" y1="767.70" x2="692.20" y2="767.70" stroke="#000" stroke-width="1.7"/>
<line x1="628.50" y1="683.60" x2="632.30" y2="683.60" stroke="#000" stroke-width="1.2"/>
<text x="628.00" y="685.47" font-size="5.2" text-anchor="end" stroke="#000" stroke-width="0.14">5000</text>
<line x1="628.50" y1="700.40" x2="632.30" y2="700.40" stroke="#000" stroke-width="1.2"/>
<text x="628.00" y="702.27" font-size="5.2" text-anchor="end" stroke="#000" stroke-width="0.14">4000</text>
<line x1="628.50" y1="717.20" x2="632.30" y2="717.20" stroke="#000" stroke-width="1.2"/>
<text x="628.00" y="719.07" font-size="5.2" text-anchor="end" stroke="#000" stroke-width="0.14">3000</text>
<line x1="628.50" y1="734.10" x2="632.30" y2="734.10" stroke="#000" stroke-width="1.2"/>
<text x="628.00" y="735.97" font-size="5.2" text-anchor="end" stroke="#000" stroke-width="0.14">2000</text>
<line x1="628.50" y1="750.90" x2="632.30" y2="750.90" stroke="#000" stroke-width="1.2"/>
<text x="628.00" y="752.77" font-size="5.2" text-anchor="end" stroke="#000" stroke-width="0.14">1000</text>
<line x1="628.50" y1="767.70" x2="632.30" y2="767.70" stroke="#000" stroke-width="1.2"/>
<text x="628.00" y="769.57" font-size="5.2" text-anchor="end" stroke="#000" stroke-width="0.14">0</text>
<text x="614.80" y="724.60" font-size="9.8" text-anchor="middle" stroke="#000" stroke-width="0.28" transform="rotate(-90 614.80 724.60)">AUC 0-5 µm</text>
<text x="644.10" y="775.80" font-size="8.9" text-anchor="end" stroke="#000" stroke-width="0.22" transform="rotate(-45 644.10 775.80)">uncoated</text>
<text x="660.85" y="775.80" font-size="8.9" text-anchor="end" stroke="#000" stroke-width="0.22" transform="rotate(-45 660.85 775.80)">uncoated + emetine</text>
<text x="675.35" y="775.80" font-size="8.9" text-anchor="end" stroke="#000" stroke-width="0.22" transform="rotate(-45 675.35 775.80)">PDL</text>
<text x="691.00" y="775.80" font-size="8.9" text-anchor="end" stroke="#000" stroke-width="0.22" transform="rotate(-45 691.00 775.80)">PDL + emetine</text>
<path d="M643.30,731.00 V675.70 H668.50 V689.00" fill="none" stroke="#000" stroke-width="1.4"/>
<text x="655.90" y="676.10" font-size="8.7" text-anchor="middle" stroke="#000" stroke-width="0.22">***</text>
<path d="M656.50,725.50 V682.60 H667.40 V689.00" fill="none" stroke="#000" stroke-width="1.4"/>
<text x="661.95" y="683.00" font-size="8.7" text-anchor="middle" stroke="#000" stroke-width="0.22">***</text>
<path d="M672.30,689.00 V682.00 H684.30 V719.50" fill="none" stroke="#000" stroke-width="1.4"/>
<text x="678.30" y="682.40" font-size="8.7" text-anchor="middle" stroke="#000" stroke-width="0.22">***</text>
<line x1="550.15" y1="875.80" x2="550.15" y2="871.00" stroke="#000" stroke-width="1.3"/>
<line x1="547.45" y1="871.00" x2="552.85" y2="871.00" stroke="#000" stroke-width="1.4"/>
<rect x="545.30" y="875.80" width="9.70" height="41.90" fill="#8c8c8c" stroke="#000" stroke-width="1.1"/>
<line x1="550.15" y1="917.70" x2="550.15" y2="921.10" stroke="#000" stroke-width="1.3"/>
<line x1="563.85" y1="879.90" x2="563.85" y2="873.00" stroke="#000" stroke-width="1.3"/>
<line x1="561.15" y1="873.00" x2="566.55" y2="873.00" stroke="#000" stroke-width="1.4"/>
<rect x="558.80" y="879.90" width="10.10" height="37.80" fill="#f2c53d" stroke="#000" stroke-width="1.1"/>
<line x1="563.85" y1="917.70" x2="563.85" y2="921.10" stroke="#000" stroke-width="1.3"/>
<line x1="577.80" y1="855.60" x2="577.80" y2="849.30" stroke="#000" stroke-width="1.3"/>
<line x1="575.10" y1="849.30" x2="580.50" y2="849.30" stroke="#000" stroke-width="1.4"/>
<rect x="573.00" y="855.60" width="9.60" height="62.10" fill="#000" stroke="#000" stroke-width="1.1"/>
<line x1="577.80" y1="917.70" x2="577.80" y2="921.10" stroke="#000" stroke-width="1.3"/>
<line x1="591.60" y1="855.60" x2="591.60" y2="846.80" stroke="#000" stroke-width="1.3"/>
<line x1="588.90" y1="846.80" x2="594.30" y2="846.80" stroke="#000" stroke-width="1.4"/>
<rect x="586.60" y="855.60" width="10.00" height="62.10" fill="#e3211c" stroke="#000" stroke-width="1.1"/>
<line x1="591.60" y1="917.70" x2="591.60" y2="921.10" stroke="#000" stroke-width="1.3"/>
<line x1="543.00" y1="833.20" x2="543.00" y2="918.40" stroke="#000" stroke-width="1.7"/>
<line x1="542.30" y1="917.70" x2="599.40" y2="917.70" stroke="#000" stroke-width="1.7"/>
<line x1="539.20" y1="834.20" x2="543.00" y2="834.20" stroke="#000" stroke-width="1.2"/>
<text x="538.70" y="836.07" font-size="5.2" text-anchor="end" stroke="#000" stroke-width="0.14">2500</text>
<line x1="539.20" y1="850.90" x2="543.00" y2="850.90" stroke="#000" stroke-width="1.2"/>
<text x="538.70" y="852.77" font-size="5.2" text-anchor="end" stroke="#000" stroke-width="0.14">2000</text>
<line x1="539.20" y1="867.60" x2="543.00" y2="867.60" stroke="#000" stroke-width="1.2"/>
<text x="538.70" y="869.47" font-size="5.2" text-anchor="end" stroke="#000" stroke-width="0.14">1500</text>
<line x1="539.20" y1="884.30" x2="543.00" y2="884.30" stroke="#000" stroke-width="1.2"/>
<text x="538.70" y="886.17" font-size="5.2" text-anchor="end" stroke="#000" stroke-width="0.14">1000</text>
<line x1="539.20" y1="901.00" x2="543.00" y2="901.00" stroke="#000" stroke-width="1.2"/>
<text x="538.70" y="902.87" font-size="5.2" text-anchor="end" stroke="#000" stroke-width="0.14">500</text>
<line x1="539.20" y1="917.70" x2="543.00" y2="917.70" stroke="#000" stroke-width="1.2"/>
<text x="538.70" y="919.57" font-size="5.2" text-anchor="end" stroke="#000" stroke-width="0.14">0</text>
<text x="522.60" y="872.50" font-size="9.3" text-anchor="middle" stroke="#000" stroke-width="0.28" transform="rotate(-90 522.60 872.50)">AUC 0-5 µm</text>
<text x="550.95" y="925.80" font-size="8.9" text-anchor="end" stroke="#000" stroke-width="0.22" transform="rotate(-45 550.95 925.80)">uncoated</text>
<text x="567.55" y="925.80" font-size="8.9" text-anchor="end" stroke="#000" stroke-width="0.22" transform="rotate(-45 567.55 925.80)">uncoated + emetine</text>
<text x="582.40" y="925.80" font-size="8.9" text-anchor="end" stroke="#000" stroke-width="0.22" transform="rotate(-45 582.40 925.80)">PDL</text>
<text x="598.20" y="925.80" font-size="8.9" text-anchor="end" stroke="#000" stroke-width="0.22" transform="rotate(-45 598.20 925.80)">PDL + emetine</text>
<text x="573.00" y="837.40" font-size="5.6" text-anchor="middle" stroke="#000" stroke-width="0.14">n.s</text>
<line x1="551.00" y1="839.90" x2="596.60" y2="839.90" stroke="#000" stroke-width="1.5"/>
<line x1="643.30" y1="894.70" x2="643.30" y2="891.90" stroke="#000" stroke-width="1.3"/>
<line x1="640.60" y1="891.90" x2="646.00" y2="891.90" stroke="#000" stroke-width="1.4"/>
<rect x="638.60" y="894.70" width="9.40" height="25.60" fill="#8c8c8c" stroke="#000" stroke-width="1.1"/>
<line x1="643.30" y1="920.30" x2="643.30" y2="923.70" stroke="#000" stroke-width="1.3"/>
<line x1="657.15" y1="884.60" x2="657.15" y2="878.30" stroke="#000" stroke-width="1.3"/>
<line x1="654.45" y1="878.30" x2="659.85" y2="878.30" stroke="#000" stroke-width="1.4"/>
<rect x="652.40" y="884.60" width="9.50" height="35.70" fill="#f2c53d" stroke="#000" stroke-width="1.1"/>
<line x1="657.15" y1="920.30" x2="657.15" y2="923.70" stroke="#000" stroke-width="1.3"/>
<line x1="670.75" y1="857.20" x2="670.75" y2="850.60" stroke="#000" stroke-width="1.3"/>
<line x1="668.05" y1="850.60" x2="673.45" y2="850.60" stroke="#000" stroke-width="1.4"/>
<rect x="666.00" y="857.20" width="9.50" height="63.10" fill="#000" stroke="#000" stroke-width="1.1"/>
<line x1="670.75" y1="920.30" x2="670.75" y2="923.70" stroke="#000" stroke-width="1.3"/>
<line x1="684.40" y1="884.00" x2="684.40" y2="879.90" stroke="#000" stroke-width="1.3"/>
<line x1="681.70" y1="879.90" x2="687.10" y2="879.90" stroke="#000" stroke-width="1.4"/>
<rect x="679.60" y="884.00" width="9.60" height="36.30" fill="#e3211c" stroke="#000" stroke-width="1.1"/>
<line x1="684.40" y1="920.30" x2="684.40" y2="923.70" stroke="#000" stroke-width="1.3"/>
<line x1="632.30" y1="837.00" x2="632.30" y2="921.00" stroke="#000" stroke-width="1.7"/>
<line x1="631.60" y1="920.30" x2="692.20" y2="920.30" stroke="#000" stroke-width="1.7"/>
<line x1="628.50" y1="838.20" x2="632.30" y2="838.20" stroke="#000" stroke-width="1.2"/>
<text x="628.00" y="840.07" font-size="5.2" text-anchor="end" stroke="#000" stroke-width="0.14">5000</text>
<line x1="628.50" y1="854.60" x2="632.30" y2="854.60" stroke="#000" stroke-width="1.2"/>
<text x="628.00" y="856.47" font-size="5.2" text-anchor="end" stroke="#000" stroke-width="0.14">4000</text>
<line x1="628.50" y1="871.00" x2="632.30" y2="871.00" stroke="#000" stroke-width="1.2"/>
<text x="628.00" y="872.87" font-size="5.2" text-anchor="end" stroke="#000" stroke-width="0.14">3000</text>
<line x1="628.50" y1="887.40" x2="632.30" y2="887.40" stroke="#000" stroke-width="1.2"/>
<text x="628.00" y="889.27" font-size="5.2" text-anchor="end" stroke="#000" stroke-width="0.14">2000</text>
<line x1="628.50" y1="903.90" x2="632.30" y2="903.90" stroke="#000" stroke-width="1.2"/>
<text x="628.00" y="905.77" font-size="5.2" text-anchor="end" stroke="#000" stroke-width="0.14">1000</text>
<line x1="628.50" y1="920.30" x2="632.30" y2="920.30" stroke="#000" stroke-width="1.2"/>
<text x="628.00" y="922.17" font-size="5.2" text-anchor="end" stroke="#000" stroke-width="0.14">0</text>
<text x="614.80" y="872.00" font-size="9.5" text-anchor="middle" stroke="#000" stroke-width="0.28" transform="rotate(-90 614.80 872.00)">AUC 0-5 µm</text>
<text x="644.10" y="928.40" font-size="8.9" text-anchor="end" stroke="#000" stroke-width="0.22" transform="rotate(-45 644.10 928.40)">uncoated</text>
<text x="660.85" y="928.40" font-size="8.9" text-anchor="end" stroke="#000" stroke-width="0.22" transform="rotate(-45 660.85 928.40)">uncoated + emetine</text>
<text x="675.35" y="928.40" font-size="8.9" text-anchor="end" stroke="#000" stroke-width="0.22" transform="rotate(-45 675.35 928.40)">PDL</text>
<text x="691.00" y="928.40" font-size="8.9" text-anchor="end" stroke="#000" stroke-width="0.22" transform="rotate(-45 691.00 928.40)">PDL + emetine</text>
<path d="M643.30,890.50 V836.40 H668.50 V849.00" fill="none" stroke="#000" stroke-width="1.4"/>
<text x="655.90" y="836.80" font-size="8.7" text-anchor="middle" stroke="#000" stroke-width="0.22">***</text>
<path d="M657.20,877.00 V843.60 H667.40 V849.00" fill="none" stroke="#000" stroke-width="1.4"/>
<text x="662.30" y="844.00" font-size="8.7" text-anchor="middle" stroke="#000" stroke-width="0.22">**</text>
<path d="M672.60,849.00 V841.40 H684.30 V878.50" fill="none" stroke="#000" stroke-width="1.4"/>
<text x="678.45" y="841.80" font-size="8.7" text-anchor="middle" stroke="#000" stroke-width="0.22">**</text>
</svg>
</body></html>
